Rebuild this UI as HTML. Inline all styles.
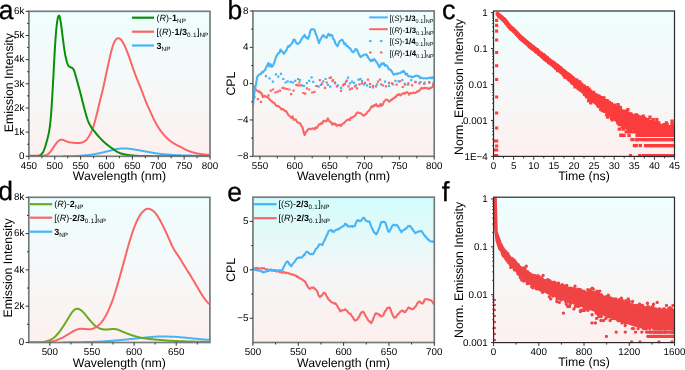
<!DOCTYPE html><html><head><meta charset="utf-8"><style>html,body{margin:0;padding:0;background:#fff;width:685px;height:370px;overflow:hidden}svg{display:block}#w{will-change:transform;position:absolute;left:0;top:0;width:685px;height:370px}</style></head><body><div id="w">
<svg xmlns="http://www.w3.org/2000/svg" width="685" height="370" viewBox="0 0 685 370" text-rendering="geometricPrecision" font-family='"Liberation Sans", sans-serif' fill="#000">
<defs><linearGradient id="g1" x1="0" y1="0" x2="0" y2="1"><stop offset="0" stop-color="#eefefe"/><stop offset="0.5" stop-color="#f6f8f8"/><stop offset="1" stop-color="#fdf0f0"/></linearGradient><linearGradient id="g2" x1="0" y1="0" x2="0" y2="1"><stop offset="0" stop-color="#d2fcfc"/><stop offset="0.5" stop-color="#f4f6f6"/><stop offset="1" stop-color="#fdefee"/></linearGradient></defs>
<rect x="28.9" y="11.3" width="181.1" height="145" fill="url(#g1)"/>
<rect x="252.95" y="11" width="181.25" height="145.3" fill="url(#g1)"/>
<rect x="493.5" y="11" width="181" height="145.4" fill="url(#g1)"/>
<rect x="28.8" y="197.3" width="181.1" height="145.2" fill="url(#g1)"/>
<rect x="252.95" y="197.2" width="181.35" height="145.3" fill="url(#g2)"/>
<rect x="493.55" y="197.2" width="180.95" height="145.4" fill="url(#g1)"/>
<clipPath id="ca"><rect x="28.9" y="11.3" width="181.1" height="144.8"/></clipPath>
<g clip-path="url(#ca)">
<polyline points="62.53,156.3 62.9,156.3 63.27,156.3 63.64,156.3 64.01,156.3 64.38,156.3 64.75,156.3 65.12,156.29 65.49,156.29 65.86,156.29 66.23,156.29 66.6,156.28 66.97,156.28 67.34,156.27 67.71,156.27 68.08,156.26 68.45,156.26 68.82,156.25 69.19,156.24 69.56,156.23 69.92,156.23 70.29,156.22 70.66,156.21 71.03,156.2 71.4,156.19 71.77,156.18 72.14,156.17 72.51,156.15 72.88,156.14 73.25,156.13 73.62,156.12 73.99,156.11 74.36,156.09 74.73,156.08 75.1,156.06 75.47,156.05 75.84,156.03 76.21,156.02 76.58,156 76.95,155.98 77.32,155.96 77.69,155.94 78.06,155.92 78.43,155.9 78.79,155.88 79.16,155.86 79.53,155.84 79.9,155.81 80.27,155.79 80.64,155.76 81.01,155.73 81.38,155.7 81.75,155.68 82.12,155.65 82.49,155.62 82.86,155.59 83.23,155.56 83.6,155.52 83.97,155.49 84.34,155.46 84.71,155.43 85.08,155.39 85.45,155.35 85.82,155.32 86.19,155.28 86.56,155.24 86.93,155.2 87.3,155.16 87.67,155.12 88.03,155.08 88.4,155.03 88.77,154.99 89.14,154.94 89.51,154.9 89.88,154.85 90.25,154.8 90.62,154.75 90.99,154.69 91.36,154.64 91.73,154.59 92.1,154.53 92.47,154.48 92.84,154.42 93.21,154.36 93.58,154.3 93.95,154.24 94.32,154.18 94.69,154.12 95.06,154.06 95.43,153.99 95.8,153.93 96.17,153.86 96.54,153.79 96.9,153.72 97.27,153.65 97.64,153.58 98.01,153.51 98.38,153.43 98.75,153.36 99.12,153.28 99.49,153.2 99.86,153.12 100.23,153.04 100.6,152.96 100.97,152.87 101.34,152.79 101.71,152.7 102.08,152.62 102.45,152.53 102.82,152.45 103.19,152.36 103.56,152.27 103.93,152.18 104.3,152.1 104.67,152.01 105.04,151.92 105.41,151.83 105.78,151.74 106.14,151.65 106.51,151.55 106.88,151.46 107.25,151.37 107.62,151.28 107.99,151.18 108.36,151.09 108.73,151 109.1,150.9 109.47,150.81 109.84,150.72 110.21,150.62 110.58,150.53 110.95,150.44 111.32,150.34 111.69,150.25 112.06,150.16 112.43,150.06 112.8,149.97 113.17,149.88 113.54,149.78 113.91,149.69 114.28,149.6 114.65,149.52 115.01,149.43 115.38,149.35 115.75,149.27 116.12,149.19 116.49,149.12 116.86,149.05 117.23,148.98 117.6,148.92 117.97,148.86 118.34,148.8 118.71,148.75 119.08,148.7 119.45,148.66 119.82,148.62 120.19,148.58 120.56,148.54 120.93,148.51 121.3,148.49 121.67,148.46 122.04,148.44 122.41,148.42 122.78,148.41 123.15,148.4 123.52,148.4 123.89,148.4 124.25,148.4 124.62,148.41 124.99,148.42 125.36,148.44 125.73,148.46 126.1,148.48 126.47,148.51 126.84,148.54 127.21,148.57 127.58,148.6 127.95,148.63 128.32,148.67 128.69,148.71 129.06,148.75 129.43,148.79 129.8,148.83 130.17,148.87 130.54,148.92 130.91,148.97 131.28,149.01 131.65,149.06 132.02,149.12 132.39,149.17 132.76,149.22 133.12,149.28 133.49,149.34 133.86,149.4 134.23,149.46 134.6,149.52 134.97,149.58 135.34,149.64 135.71,149.7 136.08,149.76 136.45,149.83 136.82,149.89 137.19,149.96 137.56,150.02 137.93,150.08 138.3,150.15 138.67,150.21 139.04,150.28 139.41,150.34 139.78,150.41 140.15,150.48 140.52,150.54 140.89,150.61 141.26,150.68 141.63,150.75 142,150.81 142.36,150.88 142.73,150.95 143.1,151.02 143.47,151.09 143.84,151.16 144.21,151.23 144.58,151.29 144.95,151.36 145.32,151.43 145.69,151.5 146.06,151.57 146.43,151.63 146.8,151.7 147.17,151.77 147.54,151.84 147.91,151.9 148.28,151.97 148.65,152.04 149.02,152.1 149.39,152.17 149.76,152.24 150.13,152.3 150.5,152.37 150.87,152.44 151.23,152.5 151.6,152.57 151.97,152.64 152.34,152.7 152.71,152.77 153.08,152.83 153.45,152.89 153.82,152.96 154.19,153.02 154.56,153.08 154.93,153.14 155.3,153.2 155.67,153.26 156.04,153.31 156.41,153.37 156.78,153.42 157.15,153.47 157.52,153.52 157.89,153.57 158.26,153.62 158.63,153.66 159,153.71 159.37,153.75 159.74,153.79 160.11,153.84 160.47,153.88 160.84,153.92 161.21,153.95 161.58,153.99 161.95,154.03 162.32,154.06 162.69,154.1 163.06,154.13 163.43,154.17 163.8,154.2 164.17,154.24 164.54,154.27 164.91,154.3 165.28,154.33 165.65,154.36 166.02,154.4 166.39,154.43 166.76,154.46 167.13,154.49 167.5,154.52 167.87,154.55 168.24,154.58 168.61,154.61 168.98,154.64 169.34,154.67 169.71,154.7 170.08,154.73 170.45,154.76 170.82,154.79 171.19,154.82 171.56,154.85 171.93,154.88 172.3,154.91 172.67,154.94 173.04,154.96 173.41,154.99 173.78,155.02 174.15,155.05 174.52,155.07 174.89,155.1 175.26,155.12 175.63,155.15 176,155.17 176.37,155.19 176.74,155.21 177.11,155.23 177.48,155.25 177.85,155.27 178.22,155.29 178.58,155.3 178.95,155.32 179.32,155.33 179.69,155.35 180.06,155.36 180.43,155.37 180.8,155.39 181.17,155.4 181.54,155.41 181.91,155.42 182.28,155.43 182.65,155.44 183.02,155.45 183.39,155.46 183.76,155.47 184.13,155.47 184.5,155.48 184.87,155.49 185.24,155.5 185.61,155.51 185.98,155.51 186.35,155.52 186.72,155.53 187.09,155.54 187.45,155.54 187.82,155.55 188.19,155.56 188.56,155.56 188.93,155.57 189.3,155.57 189.67,155.58 190.04,155.59 190.41,155.59 190.78,155.6 191.15,155.6 191.52,155.61 191.89,155.62 192.26,155.62 192.63,155.63 193,155.63 193.37,155.64 193.74,155.64 194.11,155.65 194.48,155.66 194.85,155.66 195.22,155.67 195.59,155.67 195.96,155.68 196.33,155.68 196.69,155.69 197.06,155.69 197.43,155.7 197.8,155.7 198.17,155.71 198.54,155.71 198.91,155.72 199.28,155.72 199.65,155.73 200.02,155.73 200.39,155.74 200.76,155.74 201.13,155.74 201.5,155.75 201.87,155.75 202.24,155.76 202.61,155.76 202.98,155.76 203.35,155.77 203.72,155.77 204.09,155.77 204.46,155.78 204.83,155.78 205.2,155.78 205.56,155.79 205.93,155.79 206.3,155.79 206.67,155.8 207.04,155.8 207.41,155.8 207.78,155.8 208.15,155.8 208.52,155.81 208.89,155.81 209.26,155.81 209.63,155.81 210,155.81" fill="none" stroke="#46b4f6" stroke-width="2.0" stroke-linejoin="round"/>
<polyline points="28.9,155.82 29.35,155.82 29.81,155.82 30.26,155.82 30.72,155.82 31.17,155.82 31.62,155.82 32.08,155.82 32.53,155.82 32.98,155.82 33.44,155.82 33.89,155.82 34.35,155.82 34.8,155.82 35.25,155.82 35.71,155.82 36.16,155.82 36.62,155.82 37.07,155.82 37.52,155.82 37.98,155.82 38.43,155.82 38.89,155.82 39.34,155.82 39.79,155.82 40.25,155.82 40.7,155.81 41.15,155.81 41.61,155.8 42.06,155.78 42.52,155.76 42.97,155.72 43.42,155.68 43.88,155.62 44.33,155.54 44.79,155.46 45.24,155.36 45.69,155.23 46.15,155.09 46.6,154.9 47.06,154.68 47.51,154.4 47.96,154.08 48.42,153.71 48.87,153.29 49.32,152.84 49.78,152.36 50.23,151.84 50.69,151.3 51.14,150.73 51.59,150.13 52.05,149.5 52.5,148.85 52.96,148.17 53.41,147.49 53.86,146.8 54.32,146.12 54.77,145.44 55.23,144.78 55.68,144.13 56.13,143.5 56.59,142.91 57.04,142.37 57.49,141.87 57.95,141.43 58.4,141.05 58.86,140.71 59.31,140.41 59.76,140.15 60.22,139.93 60.67,139.77 61.13,139.66 61.58,139.62 62.03,139.63 62.49,139.71 62.94,139.84 63.4,140.01 63.85,140.2 64.3,140.41 64.76,140.62 65.21,140.83 65.66,141.03 66.12,141.22 66.57,141.4 67.03,141.58 67.48,141.74 67.93,141.9 68.39,142.05 68.84,142.18 69.3,142.29 69.75,142.39 70.2,142.46 70.66,142.53 71.11,142.58 71.57,142.63 72.02,142.67 72.47,142.71 72.93,142.74 73.38,142.77 73.83,142.8 74.29,142.83 74.74,142.86 75.2,142.88 75.65,142.91 76.1,142.93 76.56,142.94 77.01,142.96 77.47,142.97 77.92,142.98 78.37,142.98 78.83,142.98 79.28,142.97 79.74,142.95 80.19,142.9 80.64,142.84 81.1,142.75 81.55,142.64 82,142.5 82.46,142.35 82.91,142.17 83.37,141.97 83.82,141.74 84.27,141.49 84.73,141.21 85.18,140.88 85.64,140.51 86.09,140.08 86.54,139.6 87,139.07 87.45,138.5 87.91,137.89 88.36,137.24 88.81,136.55 89.27,135.82 89.72,135.05 90.17,134.23 90.63,133.36 91.08,132.43 91.54,131.43 91.99,130.37 92.44,129.22 92.9,127.99 93.35,126.67 93.81,125.25 94.26,123.73 94.71,122.14 95.17,120.48 95.62,118.76 96.07,117 96.53,115.19 96.98,113.34 97.44,111.45 97.89,109.54 98.34,107.61 98.8,105.68 99.25,103.78 99.71,101.91 100.16,100.09 100.61,98.31 101.07,96.55 101.52,94.79 101.98,93 102.43,91.15 102.88,89.23 103.34,87.25 103.79,85.2 104.24,83.1 104.7,80.97 105.15,78.83 105.61,76.68 106.06,74.54 106.51,72.41 106.97,70.29 107.42,68.18 107.88,66.08 108.33,64 108.78,61.93 109.24,59.87 109.69,57.85 110.15,55.87 110.6,53.95 111.05,52.12 111.51,50.37 111.96,48.73 112.41,47.2 112.87,45.78 113.32,44.49 113.78,43.32 114.23,42.29 114.68,41.39 115.14,40.62 115.59,39.96 116.05,39.4 116.5,38.96 116.95,38.61 117.41,38.37 117.86,38.23 118.32,38.19 118.77,38.25 119.22,38.38 119.68,38.59 120.13,38.87 120.58,39.24 121.04,39.7 121.49,40.25 121.95,40.88 122.4,41.6 122.85,42.37 123.31,43.19 123.76,44.06 124.22,44.97 124.67,45.91 125.12,46.88 125.58,47.9 126.03,48.95 126.49,50.03 126.94,51.14 127.39,52.28 127.85,53.44 128.3,54.64 128.75,55.86 129.21,57.12 129.66,58.42 130.12,59.74 130.57,61.08 131.02,62.44 131.48,63.81 131.93,65.17 132.39,66.51 132.84,67.84 133.29,69.15 133.75,70.43 134.2,71.69 134.66,72.92 135.11,74.14 135.56,75.33 136.02,76.51 136.47,77.66 136.92,78.8 137.38,79.93 137.83,81.04 138.29,82.14 138.74,83.25 139.19,84.35 139.65,85.47 140.1,86.59 140.56,87.73 141.01,88.89 141.46,90.06 141.92,91.24 142.37,92.43 142.83,93.63 143.28,94.84 143.73,96.04 144.19,97.24 144.64,98.43 145.09,99.6 145.55,100.76 146,101.89 146.46,103 146.91,104.09 147.36,105.14 147.82,106.18 148.27,107.19 148.73,108.2 149.18,109.19 149.63,110.19 150.09,111.19 150.54,112.19 150.99,113.2 151.45,114.2 151.9,115.21 152.36,116.2 152.81,117.19 153.26,118.15 153.72,119.09 154.17,120.01 154.63,120.9 155.08,121.76 155.53,122.6 155.99,123.42 156.44,124.21 156.9,124.98 157.35,125.74 157.8,126.48 158.26,127.2 158.71,127.91 159.16,128.6 159.62,129.26 160.07,129.92 160.53,130.55 160.98,131.17 161.43,131.77 161.89,132.35 162.34,132.93 162.8,133.49 163.25,134.04 163.7,134.58 164.16,135.11 164.61,135.62 165.07,136.13 165.52,136.62 165.97,137.09 166.43,137.56 166.88,138.01 167.33,138.44 167.79,138.86 168.24,139.27 168.7,139.66 169.15,140.04 169.6,140.41 170.06,140.76 170.51,141.11 170.97,141.44 171.42,141.77 171.87,142.08 172.33,142.39 172.78,142.69 173.24,142.99 173.69,143.27 174.14,143.55 174.6,143.82 175.05,144.09 175.5,144.35 175.96,144.6 176.41,144.84 176.87,145.08 177.32,145.32 177.77,145.54 178.23,145.77 178.68,145.99 179.14,146.22 179.59,146.45 180.04,146.67 180.5,146.91 180.95,147.14 181.41,147.38 181.86,147.62 182.31,147.87 182.77,148.11 183.22,148.36 183.67,148.6 184.13,148.84 184.58,149.08 185.04,149.31 185.49,149.54 185.94,149.77 186.4,149.98 186.85,150.19 187.31,150.39 187.76,150.58 188.21,150.76 188.67,150.94 189.12,151.1 189.58,151.26 190.03,151.42 190.48,151.57 190.94,151.72 191.39,151.87 191.84,152.02 192.3,152.16 192.75,152.3 193.21,152.43 193.66,152.56 194.11,152.69 194.57,152.81 195.02,152.93 195.48,153.05 195.93,153.16 196.38,153.26 196.84,153.36 197.29,153.46 197.75,153.55 198.2,153.63 198.65,153.71 199.11,153.79 199.56,153.86 200.01,153.93 200.47,153.99 200.92,154.05 201.38,154.11 201.83,154.17 202.28,154.23 202.74,154.29 203.19,154.34 203.65,154.4 204.1,154.45 204.55,154.5 205.01,154.54 205.46,154.59 205.92,154.63 206.37,154.67 206.82,154.7 207.28,154.73 207.73,154.76 208.18,154.78 208.64,154.8 209.09,154.82 209.55,154.83 210,154.84" fill="none" stroke="#fa6666" stroke-width="2.0" stroke-linejoin="round"/>
<polyline points="28.9,156.3 29.35,156.3 29.81,156.3 30.26,156.3 30.72,156.3 31.17,156.3 31.62,156.3 32.08,156.3 32.53,156.3 32.98,156.3 33.44,156.3 33.89,156.3 34.35,156.3 34.8,156.3 35.25,156.3 35.71,156.3 36.16,156.29 36.62,156.26 37.07,156.22 37.52,156.15 37.98,156.06 38.43,155.93 38.89,155.78 39.34,155.59 39.79,155.38 40.25,155.12 40.7,154.81 41.15,154.45 41.61,154.03 42.06,153.54 42.52,152.96 42.97,152.26 43.42,151.42 43.88,150.41 44.33,149.24 44.79,147.92 45.24,146.48 45.69,144.96 46.15,143.38 46.6,141.78 47.06,140.15 47.51,138.46 47.96,136.69 48.42,134.77 48.87,132.61 49.32,130.11 49.78,127.11 50.23,123.42 50.69,118.86 51.14,113.37 51.59,107.01 52.05,99.94 52.5,92.33 52.96,84.28 53.41,75.85 53.86,67.19 54.32,58.6 54.77,50.44 55.23,43.04 55.68,36.56 56.13,31.03 56.59,26.43 57.04,22.71 57.49,19.78 57.95,17.6 58.4,16.16 58.86,15.56 59.31,15.88 59.76,17.12 60.22,19.16 60.67,21.8 61.13,24.87 61.58,28.25 62.03,31.84 62.49,35.51 62.94,39.17 63.4,42.71 63.85,46.09 64.3,49.25 64.76,52.15 65.21,54.76 65.66,57.07 66.12,59.1 66.57,60.87 67.03,62.4 67.48,63.68 67.93,64.73 68.39,65.55 68.84,66.15 69.3,66.58 69.75,66.88 70.2,67.1 70.66,67.29 71.11,67.45 71.57,67.62 72.02,67.82 72.47,68.11 72.93,68.55 73.38,69.2 73.83,70.07 74.29,71.18 74.74,72.51 75.2,74.02 75.65,75.65 76.1,77.35 76.56,79.04 77.01,80.71 77.47,82.33 77.92,83.93 78.37,85.53 78.83,87.14 79.28,88.78 79.74,90.46 80.19,92.19 80.64,93.96 81.1,95.77 81.55,97.6 82,99.43 82.46,101.25 82.91,103.03 83.37,104.79 83.82,106.52 84.27,108.22 84.73,109.91 85.18,111.6 85.64,113.25 86.09,114.87 86.54,116.43 87,117.91 87.45,119.28 87.91,120.55 88.36,121.7 88.81,122.73 89.27,123.68 89.72,124.54 90.17,125.35 90.63,126.11 91.08,126.83 91.54,127.51 91.99,128.16 92.44,128.79 92.9,129.4 93.35,129.99 93.81,130.58 94.26,131.16 94.71,131.73 95.17,132.31 95.62,132.88 96.07,133.44 96.53,134 96.98,134.55 97.44,135.1 97.89,135.63 98.34,136.16 98.8,136.68 99.25,137.19 99.71,137.69 100.16,138.18 100.61,138.67 101.07,139.14 101.52,139.61 101.98,140.07 102.43,140.51 102.88,140.95 103.34,141.39 103.79,141.81 104.24,142.22 104.7,142.63 105.15,143.02 105.61,143.41 106.06,143.79 106.51,144.16 106.97,144.53 107.42,144.89 107.88,145.25 108.33,145.59 108.78,145.94 109.24,146.28 109.69,146.61 110.15,146.94 110.6,147.26 111.05,147.59 111.51,147.91 111.96,148.23 112.41,148.55 112.87,148.87 113.32,149.19 113.78,149.52 114.23,149.85 114.68,150.17 115.14,150.49 115.59,150.8 116.05,151.1 116.5,151.39 116.95,151.67 117.41,151.94 117.86,152.18 118.32,152.41 118.77,152.62 119.22,152.8 119.68,152.98 120.13,153.14 120.58,153.29 121.04,153.43 121.49,153.57 121.95,153.7 122.4,153.83 122.85,153.95 123.31,154.07 123.76,154.19 124.22,154.3 124.67,154.4 125.12,154.5 125.58,154.59 126.03,154.68 126.49,154.76 126.94,154.83 127.39,154.9 127.85,154.97 128.3,155.03 128.75,155.09 129.21,155.14 129.66,155.19 130.12,155.24 130.57,155.28 131.02,155.33 131.48,155.38 131.93,155.42 132.39,155.47 132.84,155.51 133.29,155.55 133.75,155.59 134.2,155.63 134.66,155.67 135.11,155.7 135.56,155.74 136.02,155.77 136.47,155.8 136.92,155.83 137.38,155.86 137.83,155.89 138.29,155.91 138.74,155.94 139.19,155.96 139.65,155.98 140.1,155.99 140.56,156.01 141.01,156.02 141.46,156.03 141.92,156.04 142.37,156.05 142.83,156.06 143.28,156.06 143.73,156.07 144.19,156.07 144.64,156.07 145.09,156.08 145.55,156.08 146,156.09 146.46,156.09 146.91,156.09 147.36,156.1 147.82,156.1 148.27,156.1 148.73,156.11 149.18,156.11 149.63,156.11 150.09,156.12 150.54,156.12 150.99,156.12 151.45,156.13 151.9,156.13 152.36,156.13 152.81,156.13 153.26,156.14 153.72,156.14 154.17,156.14 154.63,156.15 155.08,156.15 155.53,156.15 155.99,156.16 156.44,156.16 156.9,156.16 157.35,156.16 157.8,156.17 158.26,156.17 158.71,156.17 159.16,156.17 159.62,156.18 160.07,156.18 160.53,156.18 160.98,156.18 161.43,156.19 161.89,156.19 162.34,156.19 162.8,156.19 163.25,156.2 163.7,156.2 164.16,156.2 164.61,156.2 165.07,156.21 165.52,156.21 165.97,156.21 166.43,156.21 166.88,156.21 167.33,156.22 167.79,156.22 168.24,156.22 168.7,156.22 169.15,156.22 169.6,156.23 170.06,156.23 170.51,156.23 170.97,156.23 171.42,156.23 171.87,156.23 172.33,156.24 172.78,156.24 173.24,156.24 173.69,156.24 174.14,156.24 174.6,156.24 175.05,156.25 175.5,156.25 175.96,156.25 176.41,156.25 176.87,156.25 177.32,156.25 177.77,156.26 178.23,156.26 178.68,156.26 179.14,156.26 179.59,156.26 180.04,156.26 180.5,156.26 180.95,156.26 181.41,156.27 181.86,156.27 182.31,156.27 182.77,156.27 183.22,156.27 183.67,156.27 184.13,156.27 184.58,156.27 185.04,156.27 185.49,156.28 185.94,156.28 186.4,156.28 186.85,156.28 187.31,156.28 187.76,156.28 188.21,156.28 188.67,156.28 189.12,156.28 189.58,156.28 190.03,156.28 190.48,156.28 190.94,156.29 191.39,156.29 191.84,156.29 192.3,156.29 192.75,156.29 193.21,156.29 193.66,156.29 194.11,156.29 194.57,156.29 195.02,156.29 195.48,156.29 195.93,156.29 196.38,156.29 196.84,156.29 197.29,156.29 197.75,156.29 198.2,156.29 198.65,156.3 199.11,156.3 199.56,156.3 200.01,156.3 200.47,156.3 200.92,156.3 201.38,156.3 201.83,156.3 202.28,156.3 202.74,156.3 203.19,156.3 203.65,156.3 204.1,156.3 204.55,156.3 205.01,156.3 205.46,156.3 205.92,156.3 206.37,156.3 206.82,156.3 207.28,156.3 207.73,156.3 208.18,156.3 208.64,156.3 209.09,156.3 209.55,156.3 210,156.3" fill="none" stroke="#0a8f0a" stroke-width="2.0" stroke-linejoin="round"/>
</g>
<clipPath id="cd"><rect x="28.8" y="197.3" width="181.1" height="145.0"/></clipPath>
<g clip-path="url(#cd)">
<polyline points="62.49,342.48 62.86,342.48 63.23,342.48 63.6,342.47 63.97,342.46 64.34,342.46 64.71,342.45 65.08,342.44 65.45,342.44 65.82,342.43 66.19,342.42 66.56,342.41 66.93,342.41 67.3,342.4 67.67,342.39 68.03,342.39 68.4,342.38 68.77,342.37 69.14,342.37 69.51,342.36 69.88,342.36 70.25,342.35 70.62,342.34 70.99,342.34 71.36,342.33 71.73,342.33 72.1,342.32 72.47,342.32 72.84,342.31 73.21,342.31 73.58,342.3 73.95,342.3 74.32,342.29 74.68,342.28 75.05,342.28 75.42,342.27 75.79,342.27 76.16,342.26 76.53,342.26 76.9,342.25 77.27,342.25 77.64,342.24 78.01,342.24 78.38,342.23 78.75,342.22 79.12,342.22 79.49,342.21 79.86,342.21 80.23,342.2 80.6,342.19 80.97,342.19 81.33,342.18 81.7,342.17 82.07,342.17 82.44,342.16 82.81,342.15 83.18,342.14 83.55,342.14 83.92,342.13 84.29,342.12 84.66,342.11 85.03,342.1 85.4,342.09 85.77,342.09 86.14,342.08 86.51,342.07 86.88,342.06 87.25,342.05 87.62,342.04 87.98,342.03 88.35,342.02 88.72,342.01 89.09,342 89.46,341.99 89.83,341.98 90.2,341.97 90.57,341.96 90.94,341.94 91.31,341.93 91.68,341.92 92.05,341.91 92.42,341.9 92.79,341.89 93.16,341.87 93.53,341.86 93.9,341.85 94.26,341.84 94.63,341.82 95,341.81 95.37,341.8 95.74,341.78 96.11,341.77 96.48,341.75 96.85,341.74 97.22,341.73 97.59,341.71 97.96,341.7 98.33,341.68 98.7,341.66 99.07,341.65 99.44,341.63 99.81,341.61 100.18,341.6 100.55,341.58 100.91,341.56 101.28,341.54 101.65,341.52 102.02,341.5 102.39,341.48 102.76,341.46 103.13,341.44 103.5,341.42 103.87,341.4 104.24,341.37 104.61,341.35 104.98,341.32 105.35,341.3 105.72,341.27 106.09,341.25 106.46,341.22 106.83,341.19 107.2,341.16 107.56,341.14 107.93,341.11 108.3,341.08 108.67,341.05 109.04,341.02 109.41,340.99 109.78,340.96 110.15,340.93 110.52,340.9 110.89,340.87 111.26,340.84 111.63,340.8 112,340.77 112.37,340.74 112.74,340.71 113.11,340.68 113.48,340.65 113.85,340.61 114.21,340.58 114.58,340.55 114.95,340.52 115.32,340.49 115.69,340.46 116.06,340.42 116.43,340.39 116.8,340.36 117.17,340.33 117.54,340.3 117.91,340.26 118.28,340.23 118.65,340.2 119.02,340.17 119.39,340.13 119.76,340.1 120.13,340.07 120.5,340.03 120.86,340 121.23,339.96 121.6,339.93 121.97,339.89 122.34,339.86 122.71,339.82 123.08,339.79 123.45,339.75 123.82,339.72 124.19,339.68 124.56,339.65 124.93,339.61 125.3,339.57 125.67,339.54 126.04,339.5 126.41,339.47 126.78,339.43 127.15,339.39 127.51,339.36 127.88,339.32 128.25,339.28 128.62,339.25 128.99,339.21 129.36,339.17 129.73,339.14 130.1,339.1 130.47,339.06 130.84,339.03 131.21,338.99 131.58,338.95 131.95,338.91 132.32,338.88 132.69,338.84 133.06,338.8 133.43,338.77 133.8,338.73 134.16,338.69 134.53,338.65 134.9,338.61 135.27,338.57 135.64,338.54 136.01,338.5 136.38,338.46 136.75,338.42 137.12,338.38 137.49,338.34 137.86,338.3 138.23,338.26 138.6,338.22 138.97,338.18 139.34,338.14 139.71,338.1 140.08,338.07 140.45,338.03 140.81,337.99 141.18,337.95 141.55,337.91 141.92,337.87 142.29,337.84 142.66,337.8 143.03,337.76 143.4,337.73 143.77,337.69 144.14,337.66 144.51,337.62 144.88,337.59 145.25,337.55 145.62,337.52 145.99,337.48 146.36,337.45 146.73,337.42 147.1,337.38 147.46,337.35 147.83,337.32 148.2,337.28 148.57,337.25 148.94,337.21 149.31,337.18 149.68,337.15 150.05,337.11 150.42,337.08 150.79,337.04 151.16,337.01 151.53,336.97 151.9,336.94 152.27,336.91 152.64,336.88 153.01,336.84 153.38,336.81 153.74,336.78 154.11,336.76 154.48,336.73 154.85,336.7 155.22,336.68 155.59,336.66 155.96,336.63 156.33,336.62 156.7,336.6 157.07,336.58 157.44,336.57 157.81,336.56 158.18,336.55 158.55,336.54 158.92,336.53 159.29,336.53 159.66,336.52 160.03,336.52 160.39,336.52 160.76,336.52 161.13,336.52 161.5,336.52 161.87,336.52 162.24,336.53 162.61,336.53 162.98,336.53 163.35,336.54 163.72,336.54 164.09,336.54 164.46,336.55 164.83,336.55 165.2,336.56 165.57,336.56 165.94,336.57 166.31,336.58 166.68,336.58 167.04,336.59 167.41,336.6 167.78,336.6 168.15,336.61 168.52,336.62 168.89,336.62 169.26,336.63 169.63,336.64 170,336.65 170.37,336.66 170.74,336.67 171.11,336.68 171.48,336.69 171.85,336.7 172.22,336.71 172.59,336.72 172.96,336.73 173.33,336.75 173.69,336.76 174.06,336.78 174.43,336.8 174.8,336.82 175.17,336.84 175.54,336.86 175.91,336.89 176.28,336.91 176.65,336.93 177.02,336.96 177.39,336.99 177.76,337.01 178.13,337.04 178.5,337.07 178.87,337.1 179.24,337.13 179.61,337.16 179.98,337.19 180.34,337.23 180.71,337.26 181.08,337.29 181.45,337.32 181.82,337.35 182.19,337.39 182.56,337.42 182.93,337.45 183.3,337.48 183.67,337.52 184.04,337.55 184.41,337.58 184.78,337.61 185.15,337.65 185.52,337.68 185.89,337.72 186.26,337.75 186.63,337.78 186.99,337.82 187.36,337.86 187.73,337.89 188.1,337.93 188.47,337.97 188.84,338 189.21,338.04 189.58,338.08 189.95,338.12 190.32,338.16 190.69,338.19 191.06,338.23 191.43,338.27 191.8,338.31 192.17,338.35 192.54,338.39 192.91,338.43 193.28,338.47 193.64,338.51 194.01,338.54 194.38,338.58 194.75,338.62 195.12,338.66 195.49,338.69 195.86,338.73 196.23,338.77 196.6,338.8 196.97,338.84 197.34,338.87 197.71,338.91 198.08,338.94 198.45,338.98 198.82,339.01 199.19,339.04 199.56,339.08 199.93,339.11 200.29,339.15 200.66,339.18 201.03,339.21 201.4,339.24 201.77,339.28 202.14,339.31 202.51,339.34 202.88,339.37 203.25,339.41 203.62,339.44 203.99,339.47 204.36,339.5 204.73,339.53 205.1,339.56 205.47,339.6 205.84,339.63 206.21,339.66 206.58,339.69 206.94,339.72 207.31,339.75 207.68,339.77 208.05,339.8 208.42,339.83 208.79,339.85 209.16,339.87 209.53,339.89 209.9,339.91" fill="none" stroke="#46b4f6" stroke-width="2.0" stroke-linejoin="round"/>
<polyline points="27.96,342.5 28.41,342.5 28.87,342.5 29.33,342.49 29.78,342.49 30.24,342.49 30.69,342.49 31.15,342.48 31.61,342.48 32.06,342.47 32.52,342.47 32.97,342.46 33.43,342.46 33.89,342.45 34.34,342.44 34.8,342.43 35.25,342.43 35.71,342.42 36.17,342.41 36.62,342.4 37.08,342.39 37.53,342.37 37.99,342.36 38.45,342.35 38.9,342.33 39.36,342.31 39.81,342.28 40.27,342.25 40.73,342.22 41.18,342.18 41.64,342.14 42.09,342.08 42.55,342.03 43.01,341.96 43.46,341.89 43.92,341.82 44.37,341.73 44.83,341.65 45.29,341.55 45.74,341.45 46.2,341.34 46.65,341.22 47.11,341.09 47.57,340.96 48.02,340.81 48.48,340.65 48.93,340.47 49.39,340.29 49.85,340.09 50.3,339.88 50.76,339.66 51.21,339.42 51.67,339.16 52.13,338.89 52.58,338.6 53.04,338.29 53.49,337.96 53.95,337.6 54.41,337.22 54.86,336.82 55.32,336.4 55.77,335.96 56.23,335.5 56.69,335.02 57.14,334.53 57.6,334.01 58.05,333.48 58.51,332.94 58.97,332.37 59.42,331.78 59.88,331.18 60.33,330.55 60.79,329.91 61.25,329.26 61.7,328.6 62.16,327.92 62.61,327.23 63.07,326.54 63.53,325.85 63.98,325.14 64.44,324.43 64.89,323.72 65.35,323 65.81,322.27 66.26,321.54 66.72,320.81 67.17,320.06 67.63,319.31 68.09,318.56 68.54,317.8 69,317.04 69.45,316.27 69.91,315.52 70.37,314.78 70.82,314.07 71.28,313.39 71.73,312.74 72.19,312.14 72.65,311.58 73.1,311.07 73.56,310.6 74.01,310.18 74.47,309.8 74.93,309.48 75.38,309.2 75.84,308.98 76.29,308.81 76.75,308.71 77.21,308.66 77.66,308.68 78.12,308.75 78.57,308.87 79.03,309.04 79.49,309.26 79.94,309.51 80.4,309.8 80.85,310.12 81.31,310.46 81.77,310.83 82.22,311.23 82.68,311.66 83.13,312.11 83.59,312.6 84.05,313.1 84.5,313.63 84.96,314.18 85.41,314.75 85.87,315.32 86.33,315.9 86.78,316.48 87.24,317.06 87.69,317.62 88.15,318.19 88.61,318.74 89.06,319.28 89.52,319.82 89.97,320.35 90.43,320.88 90.89,321.4 91.34,321.91 91.8,322.42 92.25,322.92 92.71,323.41 93.17,323.88 93.62,324.34 94.08,324.78 94.53,325.2 94.99,325.6 95.45,325.97 95.9,326.32 96.36,326.65 96.81,326.95 97.27,327.24 97.73,327.5 98.18,327.75 98.64,327.98 99.09,328.19 99.55,328.38 100.01,328.56 100.46,328.72 100.92,328.86 101.37,328.99 101.83,329.09 102.28,329.19 102.74,329.27 103.2,329.34 103.65,329.39 104.11,329.44 104.56,329.48 105.02,329.5 105.48,329.52 105.93,329.53 106.39,329.52 106.84,329.51 107.3,329.48 107.76,329.45 108.21,329.41 108.67,329.36 109.12,329.32 109.58,329.27 110.04,329.23 110.49,329.19 110.95,329.15 111.4,329.13 111.86,329.11 112.32,329.09 112.77,329.09 113.23,329.08 113.68,329.08 114.14,329.09 114.6,329.1 115.05,329.12 115.51,329.16 115.96,329.21 116.42,329.28 116.88,329.37 117.33,329.48 117.79,329.62 118.24,329.78 118.7,329.96 119.16,330.15 119.61,330.35 120.07,330.56 120.52,330.77 120.98,330.98 121.44,331.18 121.89,331.38 122.35,331.58 122.8,331.78 123.26,331.97 123.72,332.16 124.17,332.34 124.63,332.53 125.08,332.71 125.54,332.9 126,333.08 126.45,333.26 126.91,333.44 127.36,333.62 127.82,333.8 128.28,333.97 128.73,334.14 129.19,334.31 129.64,334.47 130.1,334.64 130.56,334.79 131.01,334.95 131.47,335.1 131.92,335.25 132.38,335.4 132.84,335.54 133.29,335.68 133.75,335.82 134.2,335.95 134.66,336.09 135.12,336.22 135.57,336.35 136.03,336.48 136.48,336.61 136.94,336.73 137.4,336.86 137.85,336.98 138.31,337.09 138.76,337.21 139.22,337.32 139.68,337.43 140.13,337.53 140.59,337.63 141.04,337.72 141.5,337.82 141.96,337.9 142.41,337.99 142.87,338.07 143.32,338.14 143.78,338.22 144.24,338.29 144.69,338.36 145.15,338.42 145.6,338.49 146.06,338.55 146.52,338.61 146.97,338.67 147.43,338.73 147.88,338.78 148.34,338.84 148.8,338.89 149.25,338.94 149.71,339 150.16,339.05 150.62,339.09 151.08,339.14 151.53,339.19 151.99,339.24 152.44,339.28 152.9,339.33 153.36,339.37 153.81,339.42 154.27,339.46 154.72,339.5 155.18,339.54 155.64,339.58 156.09,339.62 156.55,339.66 157,339.7 157.46,339.74 157.92,339.78 158.37,339.82 158.83,339.86 159.28,339.9 159.74,339.93 160.2,339.97 160.65,340.01 161.11,340.05 161.56,340.08 162.02,340.12 162.48,340.16 162.93,340.19 163.39,340.23 163.84,340.26 164.3,340.3 164.76,340.33 165.21,340.37 165.67,340.4 166.12,340.44 166.58,340.47 167.04,340.5 167.49,340.53 167.95,340.57 168.4,340.6 168.86,340.63 169.32,340.66 169.77,340.69 170.23,340.72 170.68,340.75 171.14,340.78 171.6,340.8 172.05,340.83 172.51,340.86 172.96,340.88 173.42,340.91 173.88,340.93 174.33,340.95 174.79,340.98 175.24,341 175.7,341.02 176.16,341.04 176.61,341.06 177.07,341.08 177.52,341.1 177.98,341.12 178.44,341.14 178.89,341.16 179.35,341.17 179.8,341.19 180.26,341.21 180.72,341.23 181.17,341.24 181.63,341.26 182.08,341.27 182.54,341.29 183,341.3 183.45,341.32 183.91,341.33 184.36,341.35 184.82,341.36 185.28,341.38 185.73,341.39 186.19,341.4 186.64,341.42 187.1,341.43 187.56,341.44 188.01,341.46 188.47,341.47 188.92,341.48 189.38,341.49 189.84,341.51 190.29,341.52 190.75,341.53 191.2,341.54 191.66,341.56 192.12,341.57 192.57,341.58 193.03,341.59 193.48,341.6 193.94,341.61 194.4,341.63 194.85,341.64 195.31,341.65 195.76,341.66 196.22,341.67 196.68,341.68 197.13,341.69 197.59,341.7 198.04,341.72 198.5,341.73 198.96,341.74 199.41,341.75 199.87,341.76 200.32,341.77 200.78,341.78 201.24,341.79 201.69,341.8 202.15,341.81 202.6,341.82 203.06,341.83 203.52,341.84 203.97,341.85 204.43,341.86 204.88,341.86 205.34,341.87 205.8,341.88 206.25,341.89 206.71,341.9 207.16,341.91 207.62,341.91 208.08,341.92 208.53,341.93 208.99,341.93 209.44,341.94 209.9,341.94" fill="none" stroke="#6aaa1e" stroke-width="2.0" stroke-linejoin="round"/>
<polyline points="27.96,342.32 28.41,342.32 28.87,342.32 29.33,342.31 29.78,342.31 30.24,342.31 30.69,342.31 31.15,342.31 31.61,342.3 32.06,342.3 32.52,342.3 32.97,342.29 33.43,342.29 33.89,342.29 34.34,342.28 34.8,342.28 35.25,342.27 35.71,342.27 36.17,342.26 36.62,342.25 37.08,342.25 37.53,342.24 37.99,342.23 38.45,342.23 38.9,342.22 39.36,342.21 39.81,342.2 40.27,342.19 40.73,342.18 41.18,342.18 41.64,342.17 42.09,342.15 42.55,342.14 43.01,342.13 43.46,342.12 43.92,342.1 44.37,342.08 44.83,342.06 45.29,342.04 45.74,342.02 46.2,341.99 46.65,341.96 47.11,341.93 47.57,341.89 48.02,341.86 48.48,341.82 48.93,341.77 49.39,341.73 49.85,341.68 50.3,341.63 50.76,341.58 51.21,341.52 51.67,341.45 52.13,341.38 52.58,341.3 53.04,341.22 53.49,341.12 53.95,341.01 54.41,340.89 54.86,340.77 55.32,340.63 55.77,340.48 56.23,340.33 56.69,340.16 57.14,339.99 57.6,339.82 58.05,339.64 58.51,339.45 58.97,339.27 59.42,339.07 59.88,338.87 60.33,338.67 60.79,338.46 61.25,338.24 61.7,338.01 62.16,337.78 62.61,337.54 63.07,337.3 63.53,337.05 63.98,336.79 64.44,336.53 64.89,336.27 65.35,336 65.81,335.73 66.26,335.46 66.72,335.19 67.17,334.92 67.63,334.64 68.09,334.36 68.54,334.08 69,333.8 69.45,333.51 69.91,333.22 70.37,332.93 70.82,332.64 71.28,332.35 71.73,332.06 72.19,331.78 72.65,331.51 73.1,331.25 73.56,331 74.01,330.77 74.47,330.54 74.93,330.33 75.38,330.14 75.84,329.95 76.29,329.78 76.75,329.62 77.21,329.47 77.66,329.34 78.12,329.21 78.57,329.1 79.03,329.01 79.49,328.94 79.94,328.88 80.4,328.84 80.85,328.81 81.31,328.8 81.77,328.8 82.22,328.81 82.68,328.82 83.13,328.85 83.59,328.88 84.05,328.91 84.5,328.94 84.96,328.98 85.41,329.02 85.87,329.06 86.33,329.1 86.78,329.13 87.24,329.17 87.69,329.21 88.15,329.24 88.61,329.27 89.06,329.29 89.52,329.29 89.97,329.28 90.43,329.26 90.89,329.2 91.34,329.13 91.8,329.02 92.25,328.89 92.71,328.73 93.17,328.55 93.62,328.35 94.08,328.14 94.53,327.9 94.99,327.66 95.45,327.4 95.9,327.12 96.36,326.83 96.81,326.53 97.27,326.21 97.73,325.87 98.18,325.51 98.64,325.12 99.09,324.72 99.55,324.29 100.01,323.84 100.46,323.36 100.92,322.86 101.37,322.32 101.83,321.77 102.28,321.18 102.74,320.57 103.2,319.93 103.65,319.26 104.11,318.56 104.56,317.83 105.02,317.07 105.48,316.28 105.93,315.46 106.39,314.6 106.84,313.72 107.3,312.8 107.76,311.85 108.21,310.88 108.67,309.87 109.12,308.84 109.58,307.79 110.04,306.71 110.49,305.6 110.95,304.47 111.4,303.3 111.86,302.11 112.32,300.88 112.77,299.62 113.23,298.32 113.68,296.98 114.14,295.61 114.6,294.2 115.05,292.75 115.51,291.28 115.96,289.78 116.42,288.26 116.88,286.72 117.33,285.16 117.79,283.6 118.24,282.03 118.7,280.45 119.16,278.85 119.61,277.25 120.07,275.64 120.52,274.03 120.98,272.4 121.44,270.76 121.89,269.11 122.35,267.46 122.8,265.8 123.26,264.14 123.72,262.48 124.17,260.81 124.63,259.15 125.08,257.49 125.54,255.83 126,254.17 126.45,252.51 126.91,250.86 127.36,249.21 127.82,247.57 128.28,245.94 128.73,244.34 129.19,242.75 129.64,241.19 130.1,239.67 130.56,238.18 131.01,236.72 131.47,235.3 131.92,233.91 132.38,232.55 132.84,231.23 133.29,229.95 133.75,228.69 134.2,227.48 134.66,226.3 135.12,225.16 135.57,224.06 136.03,222.99 136.48,221.97 136.94,220.98 137.4,220.02 137.85,219.1 138.31,218.22 138.76,217.38 139.22,216.57 139.68,215.81 140.13,215.09 140.59,214.42 141.04,213.79 141.5,213.2 141.96,212.64 142.41,212.13 142.87,211.64 143.32,211.19 143.78,210.77 144.24,210.38 144.69,210.02 145.15,209.7 145.6,209.42 146.06,209.19 146.52,209 146.97,208.86 147.43,208.77 147.88,208.72 148.34,208.73 148.8,208.78 149.25,208.87 149.71,208.99 150.16,209.15 150.62,209.35 151.08,209.57 151.53,209.81 151.99,210.09 152.44,210.39 152.9,210.72 153.36,211.08 153.81,211.47 154.27,211.91 154.72,212.38 155.18,212.9 155.64,213.45 156.09,214.04 156.55,214.67 157,215.34 157.46,216.02 157.92,216.74 158.37,217.47 158.83,218.22 159.28,218.99 159.74,219.77 160.2,220.58 160.65,221.4 161.11,222.24 161.56,223.1 162.02,223.97 162.48,224.86 162.93,225.77 163.39,226.69 163.84,227.62 164.3,228.56 164.76,229.52 165.21,230.49 165.67,231.47 166.12,232.46 166.58,233.46 167.04,234.48 167.49,235.5 167.95,236.54 168.4,237.58 168.86,238.62 169.32,239.66 169.77,240.69 170.23,241.72 170.68,242.73 171.14,243.73 171.6,244.7 172.05,245.66 172.51,246.58 172.96,247.48 173.42,248.34 173.88,249.17 174.33,249.96 174.79,250.72 175.24,251.45 175.7,252.16 176.16,252.84 176.61,253.51 177.07,254.18 177.52,254.84 177.98,255.52 178.44,256.2 178.89,256.89 179.35,257.6 179.8,258.31 180.26,259.04 180.72,259.78 181.17,260.53 181.63,261.28 182.08,262.04 182.54,262.79 183,263.55 183.45,264.3 183.91,265.05 184.36,265.8 184.82,266.54 185.28,267.27 185.73,268.01 186.19,268.73 186.64,269.46 187.1,270.18 187.56,270.91 188.01,271.63 188.47,272.35 188.92,273.07 189.38,273.8 189.84,274.53 190.29,275.26 190.75,276 191.2,276.74 191.66,277.49 192.12,278.24 192.57,279 193.03,279.76 193.48,280.53 193.94,281.31 194.4,282.09 194.85,282.87 195.31,283.66 195.76,284.44 196.22,285.23 196.68,286.01 197.13,286.8 197.59,287.58 198.04,288.36 198.5,289.13 198.96,289.9 199.41,290.67 199.87,291.43 200.32,292.19 200.78,292.94 201.24,293.68 201.69,294.42 202.15,295.14 202.6,295.84 203.06,296.53 203.52,297.2 203.97,297.85 204.43,298.49 204.88,299.1 205.34,299.7 205.8,300.28 206.25,300.84 206.71,301.39 207.16,301.91 207.62,302.4 208.08,302.86 208.53,303.28 208.99,303.65 209.44,303.97 209.9,304.24" fill="none" stroke="#fa6666" stroke-width="2.0" stroke-linejoin="round"/>
</g>
<clipPath id="cb"><rect x="252.95" y="11.0" width="181.25" height="145.3"/></clipPath>
<g clip-path="url(#cb)">
<path fill="#46b4f6" d="M252.9 93.4h2.2v2.2h-2.2zM253.4 96.1h2.2v2.2h-2.2zM264.9 75.0h2.2v2.2h-2.2zM268.4 77.3h2.2v2.2h-2.2zM271.7 80.5h2.2v2.2h-2.2zM274.9 73.2h2.2v2.2h-2.2zM277.2 75.6h2.2v2.2h-2.2zM279.9 72.7h2.2v2.2h-2.2zM282.2 77.9h2.2v2.2h-2.2zM284.5 81.4h2.2v2.2h-2.2zM286.5 80.3h2.2v2.2h-2.2zM289.5 80.8h2.2v2.2h-2.2zM291.8 81.4h2.2v2.2h-2.2zM294.1 79.7h2.2v2.2h-2.2zM297.0 77.9h2.2v2.2h-2.2zM298.8 79.1h2.2v2.2h-2.2zM301.1 84.3h2.2v2.2h-2.2zM302.9 84.9h2.2v2.2h-2.2zM305.8 82.0h2.2v2.2h-2.2zM308.1 79.7h2.2v2.2h-2.2zM310.5 76.2h2.2v2.2h-2.2zM312.2 80.8h2.2v2.2h-2.2zM315.2 84.9h2.2v2.2h-2.2zM317.5 85.5h2.2v2.2h-2.2zM319.8 83.8h2.2v2.2h-2.2zM322.2 80.3h2.2v2.2h-2.2zM324.5 77.9h2.2v2.2h-2.2zM326.8 83.8h2.2v2.2h-2.2zM329.2 85.5h2.2v2.2h-2.2zM331.4 80.1h2.2v2.2h-2.2zM333.9 81.2h2.2v2.2h-2.2zM336.9 84.2h2.2v2.2h-2.2zM339.9 86.8h2.2v2.2h-2.2zM342.9 83.2h2.2v2.2h-2.2zM344.9 80.6h2.2v2.2h-2.2zM346.9 76.6h2.2v2.2h-2.2zM348.9 82.2h2.2v2.2h-2.2zM350.9 80.6h2.2v2.2h-2.2zM352.9 81.7h2.2v2.2h-2.2zM354.9 84.2h2.2v2.2h-2.2zM357.4 78.6h2.2v2.2h-2.2zM359.4 78.1h2.2v2.2h-2.2zM360.9 80.1h2.2v2.2h-2.2zM362.9 83.2h2.2v2.2h-2.2zM365.9 84.2h2.2v2.2h-2.2zM368.9 85.8h2.2v2.2h-2.2zM371.9 86.3h2.2v2.2h-2.2zM375.9 83.2h2.2v2.2h-2.2zM379.9 83.2h2.2v2.2h-2.2zM383.9 80.6h2.2v2.2h-2.2zM387.9 84.7h2.2v2.2h-2.2zM391.9 83.2h2.2v2.2h-2.2zM394.3 79.8h2.2v2.2h-2.2zM397.5 80.2h2.2v2.2h-2.2zM401.2 79.0h2.2v2.2h-2.2zM403.6 82.7h2.2v2.2h-2.2zM406.9 83.5h2.2v2.2h-2.2zM410.1 79.0h2.2v2.2h-2.2zM414.6 81.1h2.2v2.2h-2.2zM419.4 81.1h2.2v2.2h-2.2zM423.5 81.5h2.2v2.2h-2.2zM427.9 81.1h2.2v2.2h-2.2zM432.4 81.5h2.2v2.2h-2.2z"/>
<path fill="#fa6666" d="M256.8 98.1h2.2v2.2h-2.2zM259.9 100.8h2.2v2.2h-2.2zM263.3 95.1h2.2v2.2h-2.2zM267.3 94.3h2.2v2.2h-2.2zM269.6 89.6h2.2v2.2h-2.2zM271.9 88.4h2.2v2.2h-2.2zM274.3 91.4h2.2v2.2h-2.2zM276.6 90.5h2.2v2.2h-2.2zM278.9 89.6h2.2v2.2h-2.2zM281.5 86.7h2.2v2.2h-2.2zM283.6 87.3h2.2v2.2h-2.2zM285.9 87.9h2.2v2.2h-2.2zM288.3 88.4h2.2v2.2h-2.2zM290.0 93.1h2.2v2.2h-2.2zM292.4 89.6h2.2v2.2h-2.2zM295.3 83.8h2.2v2.2h-2.2zM297.0 84.3h2.2v2.2h-2.2zM298.2 81.4h2.2v2.2h-2.2zM299.4 84.3h2.2v2.2h-2.2zM302.3 91.9h2.2v2.2h-2.2zM304.1 92.5h2.2v2.2h-2.2zM305.8 87.3h2.2v2.2h-2.2zM308.1 88.4h2.2v2.2h-2.2zM311.1 91.4h2.2v2.2h-2.2zM313.4 90.8h2.2v2.2h-2.2zM315.7 84.9h2.2v2.2h-2.2zM318.7 79.1h2.2v2.2h-2.2zM321.0 82.6h2.2v2.2h-2.2zM323.9 86.7h2.2v2.2h-2.2zM325.7 81.4h2.2v2.2h-2.2zM328.6 76.8h2.2v2.2h-2.2zM329.9 76.6h2.2v2.2h-2.2zM331.9 79.1h2.2v2.2h-2.2zM333.9 82.2h2.2v2.2h-2.2zM335.9 85.2h2.2v2.2h-2.2zM339.9 89.8h2.2v2.2h-2.2zM341.9 84.2h2.2v2.2h-2.2zM343.9 82.7h2.2v2.2h-2.2zM345.9 79.6h2.2v2.2h-2.2zM347.4 85.2h2.2v2.2h-2.2zM348.9 88.3h2.2v2.2h-2.2zM350.9 87.3h2.2v2.2h-2.2zM353.9 85.2h2.2v2.2h-2.2zM355.9 87.3h2.2v2.2h-2.2zM358.4 83.2h2.2v2.2h-2.2zM360.9 82.2h2.2v2.2h-2.2zM363.9 81.7h2.2v2.2h-2.2zM366.9 78.6h2.2v2.2h-2.2zM368.9 82.7h2.2v2.2h-2.2zM371.9 84.7h2.2v2.2h-2.2zM374.9 85.2h2.2v2.2h-2.2zM376.9 80.6h2.2v2.2h-2.2zM378.9 78.6h2.2v2.2h-2.2zM381.9 84.2h2.2v2.2h-2.2zM384.9 85.2h2.2v2.2h-2.2zM387.9 81.7h2.2v2.2h-2.2zM390.9 82.2h2.2v2.2h-2.2zM395.5 83.5h2.2v2.2h-2.2zM398.8 80.2h2.2v2.2h-2.2zM401.6 85.9h2.2v2.2h-2.2zM404.0 83.5h2.2v2.2h-2.2zM407.3 82.3h2.2v2.2h-2.2zM410.9 84.3h2.2v2.2h-2.2zM414.2 80.7h2.2v2.2h-2.2zM418.2 82.3h2.2v2.2h-2.2zM423.1 82.7h2.2v2.2h-2.2zM428.3 81.5h2.2v2.2h-2.2zM432.0 83.5h2.2v2.2h-2.2z"/>
<polyline points="252.95,86.37 254.05,86.38 255.15,89.52 256.25,89.89 257.35,90.8 258.45,91.75 259.55,91.23 260.65,93.1 261.75,93.37 262.85,97.14 263.95,95.81 265.05,96.11 266.15,96.71 267.25,97.11 268.35,97.77 269.45,99.16 270.55,100.61 271.65,100.92 272.75,102.57 273.85,102.57 274.95,103.66 276.05,105.66 277.15,105.89 278.25,106.09 279.35,106.94 280.45,108 281.55,109.54 282.65,108.79 283.75,109.6 284.85,111.26 285.95,110.94 287.05,112.57 288.15,114.64 289.25,115.73 290.35,116.68 291.45,118.05 292.55,116.39 293.65,119.88 294.75,119.28 295.85,119.55 296.95,121.67 298.05,122.72 299.15,122.68 300.25,123.49 301.35,125.76 302.45,127.22 303.55,131.87 304.65,135.03 305.75,132.24 306.85,131.21 307.95,129.44 309.05,128.54 310.15,129.31 311.25,129.02 312.35,128.53 313.45,128.41 314.55,129.39 315.65,127.28 316.75,128.12 317.85,126.62 318.95,124.23 320.05,124.53 321.15,123.01 322.25,123.5 323.35,120.83 324.45,120.91 325.55,121.39 326.65,121.05 327.75,118.35 328.85,120.33 329.95,121.74 331.05,122.02 332.15,124.55 333.25,123.29 334.35,124.53 335.45,123.71 336.55,125.72 337.65,125.11 338.75,125.25 339.85,124.64 340.95,125.96 342.05,124.26 343.15,123.44 344.25,122.93 345.35,121.65 346.45,120.45 347.55,119.83 348.65,119.31 349.75,120.22 350.85,117.63 351.95,117.63 353.05,116.92 354.15,116.37 355.25,115.67 356.35,113.49 357.45,112.37 358.55,112.8 359.65,112.87 360.75,113.32 361.85,114.32 362.95,115.32 364.05,115.79 365.15,114.36 366.25,114.05 367.35,111.87 368.45,111.37 369.55,109.92 370.65,108.28 371.75,106.25 372.85,106.9 373.95,105.18 375.05,105.75 376.15,104.11 377.25,106.13 378.35,105.9 379.45,106.27 380.55,103.87 381.65,105.85 382.75,104.73 383.85,101.75 384.95,100.66 386.05,99.47 387.15,99.83 388.25,100.48 389.35,101.7 390.45,100.36 391.55,100.12 392.65,98.55 393.75,98.52 394.85,97.22 395.95,97.08 397.05,94.79 398.15,94.92 399.25,94.16 400.35,95.45 401.45,94.52 402.55,93.51 403.65,93.17 404.75,93.62 405.85,92.59 406.95,92.22 408.05,93 409.15,94.66 410.25,93.1 411.35,93.23 412.45,93.14 413.55,92.47 414.65,93.1 415.75,92.71 416.85,91.64 417.95,91.39 419.05,90.65 420.15,89.82 421.25,87.94 422.35,88.36 423.45,88.42 424.55,87.73 425.65,88.09 426.75,88 427.85,88.34 428.95,89.03 430.05,88.02 431.15,87.87 432.25,87.08 433.35,85.49 434.2,85.47" fill="none" stroke="#fa6666" stroke-width="2.1" stroke-linejoin="round"/>
<polyline points="252.95,105.45 254.05,94.7 255.15,88.48 256.25,82.59 257.35,76.55 258.45,75.22 259.55,74.23 260.65,74.2 261.75,72.15 262.85,72.52 263.95,70.8 265.05,70.02 266.15,67.3 267.25,65.53 268.35,63.04 269.45,66.42 270.55,64.21 271.65,66.71 272.75,66.11 273.85,63.73 274.95,60.44 276.05,56.99 277.15,54.94 278.25,53.2 279.35,52.91 280.45,49.51 281.55,51.45 282.65,51.65 283.75,53.88 284.85,52.31 285.95,50.92 287.05,48.67 288.15,46.08 289.25,46.68 290.35,44.98 291.45,44.06 292.55,42.43 293.65,39.47 294.75,39.71 295.85,42.07 296.95,43.52 298.05,43.89 299.15,43.1 300.25,41.78 301.35,39.4 302.45,37.72 303.55,36.36 304.65,34.83 305.75,37.7 306.85,37.3 307.95,38.86 309.05,36.48 310.15,31.56 311.25,29.25 312.35,29.18 313.45,29.39 314.55,29.69 315.65,33.68 316.75,35.92 317.85,39.79 318.95,43.06 320.05,40.06 321.15,38.25 322.25,36.23 323.35,35.05 324.45,36.8 325.55,37.39 326.65,37.86 327.75,34.86 328.85,33.87 329.95,35.56 331.05,34.87 332.15,35.4 333.25,38.95 334.35,40.07 335.45,43.69 336.55,45.01 337.65,46.2 338.75,42.92 339.85,40.93 340.95,40.35 342.05,39.74 343.15,41.09 344.25,44.14 345.35,43.34 346.45,45.83 347.55,45.77 348.65,47.47 349.75,47.98 350.85,49.43 351.95,51.44 353.05,52.29 354.15,51.49 355.25,49.37 356.35,49.11 357.45,50.81 358.55,53.41 359.65,55.79 360.75,57.06 361.85,56.16 362.95,55.51 364.05,54.7 365.15,54.72 366.25,54.27 367.35,55.93 368.45,58.18 369.55,59.16 370.65,61.21 371.75,59.86 372.85,60.85 373.95,59.02 375.05,59.76 376.15,61.78 377.25,63.14 378.35,64.94 379.45,67.37 380.55,65.3 381.65,63.25 382.75,64.1 383.85,63.04 384.95,65.87 386.05,65.16 387.15,65.89 388.25,68.29 389.35,69.55 390.45,69.47 391.55,71.19 392.65,72.92 393.75,74.74 394.85,74.03 395.95,73.85 397.05,74.24 398.15,73.2 399.25,73.19 400.35,73.09 401.45,71.87 402.55,72.06 403.65,70.81 404.75,72.61 405.85,74.54 406.95,73.63 408.05,76.08 409.15,76.5 410.25,76.25 411.35,76.77 412.45,77.32 413.55,76.69 414.65,76.34 415.75,75.75 416.85,75.45 417.95,76.3 419.05,76.16 420.15,78.19 421.25,77.58 422.35,78.03 423.45,78.44 424.55,78.2 425.65,78.23 426.75,78.61 427.85,78.14 428.95,77.85 430.05,77.77 431.15,78.2 432.25,77.07 433.35,78.48 434.2,77.29" fill="none" stroke="#46b4f6" stroke-width="2.1" stroke-linejoin="round"/>
</g>
<clipPath id="ce"><rect x="252.95" y="197.2" width="181.35000000000002" height="145.3"/></clipPath>
<g clip-path="url(#ce)">
<polyline points="252.95,268.46 253.77,268.45 254.58,268.33 255.4,268.53 256.21,267.84 257.03,268.39 257.85,268.07 258.66,268.55 259.48,268.48 260.29,268.54 261.11,268.29 261.93,268.01 262.74,268.27 263.56,268.6 264.38,268.26 265.19,269.02 266.01,269.17 266.82,269.87 267.64,269.39 268.46,269.73 269.27,270.1 270.09,270.23 270.9,269.81 271.72,270.55 272.54,270.53 273.35,270.61 274.17,270.75 274.98,270.98 275.8,270.5 276.62,271.64 277.43,271.06 278.25,270.79 279.06,271.59 279.88,272.2 280.7,271.76 281.51,272.55 282.33,272.73 283.14,272.18 283.96,271.87 284.78,272.4 285.59,273.28 286.41,272.81 287.23,272.73 288.04,272.91 288.86,273.46 289.67,273.63 290.49,274.12 291.31,274.45 292.12,274.21 292.94,274.8 293.75,274.84 294.57,275.49 295.39,275.4 296.2,275.66 297.02,276.97 297.83,276.72 298.65,277.36 299.47,278.43 300.28,278.44 301.1,278.77 301.91,279.46 302.73,279.81 303.55,280.82 304.36,280.71 305.18,281.91 305.99,283.11 306.81,285.09 307.63,286.36 308.44,287.85 309.26,288.47 310.08,288.9 310.89,287.87 311.71,287.59 312.52,287.87 313.34,287.4 314.16,288.05 314.97,288.97 315.79,289.39 316.6,290.35 317.42,291.75 318.24,294.76 319.05,295.95 319.87,297.06 320.68,296.1 321.5,295.93 322.32,294.75 323.13,293.7 323.95,292.67 324.76,292.89 325.58,294.04 326.4,295.94 327.21,296.91 328.03,298.55 328.84,299.74 329.66,300.15 330.48,301.29 331.29,302.12 332.11,302.38 332.93,302.73 333.74,303.04 334.56,303.76 335.37,303.32 336.19,304.2 337.01,305.38 337.82,307.08 338.64,308.32 339.45,309.4 340.27,311.35 341.09,310.95 341.9,310.34 342.72,310.27 343.53,310.24 344.35,310 345.17,309.17 345.98,310.15 346.8,310.58 347.61,311.57 348.43,312.67 349.25,313.49 350.06,313.59 350.88,314.32 351.7,316.06 352.51,316.74 353.33,318.3 354.14,319.46 354.96,320.53 355.78,320.47 356.59,319.85 357.41,319.26 358.22,317.68 359.04,317.14 359.86,315.1 360.67,313.42 361.49,312.55 362.3,311.86 363.12,311.85 363.94,312.54 364.75,314.32 365.57,315.83 366.38,317.11 367.2,318.28 368.02,320.14 368.83,321.06 369.65,321.31 370.46,322.51 371.28,323.16 372.1,321.58 372.91,319.67 373.73,317.35 374.55,315.62 375.36,313.6 376.18,313.23 376.99,313.83 377.81,313.67 378.63,314.13 379.44,315.32 380.26,315.09 381.07,316.43 381.89,316.15 382.71,315.88 383.52,314.84 384.34,312.69 385.15,311.09 385.97,310.66 386.79,308.57 387.6,307.9 388.42,307.84 389.23,307.25 390.05,308.06 390.87,310.36 391.68,312.7 392.5,314.51 393.31,316.25 394.13,317.87 394.95,316.91 395.76,317.24 396.58,316.35 397.4,314.56 398.21,314.35 399.03,313.2 399.84,312.18 400.66,311.28 401.48,310.78 402.29,310.6 403.11,310.69 403.92,311.77 404.74,312.22 405.56,311.83 406.37,310.36 407.19,309.25 408,308.01 408.82,307.5 409.64,307.96 410.45,308.61 411.27,308.82 412.08,309.18 412.9,309.01 413.72,308.59 414.53,307.45 415.35,306.86 416.16,305.87 416.98,303.81 417.8,302.92 418.61,301.7 419.43,301.44 420.25,301.99 421.06,302.99 421.88,303.02 422.69,303.57 423.51,302.62 424.33,300.15 425.14,299.14 425.96,299.48 426.77,299.18 427.59,299.25 428.41,299.27 429.22,299.86 430.04,299.95 430.85,300.29 431.67,300.9 432.49,301.8 433.3,303.45 434.12,303.6" fill="none" stroke="#fa6666" stroke-width="2.1" stroke-linejoin="round"/>
<polyline points="252.95,269.12 253.77,269.55 254.58,269.12 255.4,269.97 256.21,270.28 257.03,269.98 257.85,270.44 258.66,270.61 259.48,270.69 260.29,270.82 261.11,270.69 261.93,271.92 262.74,271.66 263.56,272.58 264.38,272.13 265.19,271.85 266.01,271.25 266.82,271.48 267.64,270.61 268.46,270.95 269.27,270.08 270.09,270.02 270.9,269.4 271.72,270.58 272.54,269.95 273.35,270 274.17,270.5 274.98,270.1 275.8,270.73 276.62,270.28 277.43,270.91 278.25,270.5 279.06,270.27 279.88,270.64 280.7,270.38 281.51,270.97 282.33,269.96 283.14,268.42 283.96,266.49 284.78,264.86 285.59,263.29 286.41,262.23 287.23,261.38 288.04,261.85 288.86,263.07 289.67,264.68 290.49,265.44 291.31,266.23 292.12,264.65 292.94,263.63 293.75,262.68 294.57,261.91 295.39,260.65 296.2,259.32 297.02,258.33 297.83,257.74 298.65,257.94 299.47,257.35 300.28,257.62 301.1,257.46 301.91,257.48 302.73,256.63 303.55,255.07 304.36,255.28 305.18,253.47 305.99,252.26 306.81,251.67 307.63,252.03 308.44,252.64 309.26,253.47 310.08,253.88 310.89,254.35 311.71,253.92 312.52,254.3 313.34,253.82 314.16,252.21 314.97,250.68 315.79,249.01 316.6,248.41 317.42,247.67 318.24,246.43 319.05,244.52 319.87,244.22 320.68,244.25 321.5,244.46 322.32,245.05 323.13,242.97 323.95,241.47 324.76,239.84 325.58,238.05 326.4,236.02 327.21,234.62 328.03,232.65 328.84,230.77 329.66,230.49 330.48,230.13 331.29,229.86 332.11,231.39 332.93,230.99 333.74,232.01 334.56,230.89 335.37,230.39 336.19,229.69 337.01,229.66 337.82,228.91 338.64,229.31 339.45,228.55 340.27,227.99 341.09,227.24 341.9,226.92 342.72,226.26 343.53,226.11 344.35,225.02 345.17,223.73 345.98,224.74 346.8,224.35 347.61,226.49 348.43,226.06 349.25,226.57 350.06,226.62 350.88,226.26 351.7,225.99 352.51,226.83 353.33,226.06 354.14,226.2 354.96,226.02 355.78,223.3 356.59,221.48 357.41,220.31 358.22,220.08 359.04,220.72 359.86,221.12 360.67,220.97 361.49,220.32 362.3,219.02 363.12,217.84 363.94,217.78 364.75,218.62 365.57,220.28 366.38,220.83 367.2,221.36 368.02,221.61 368.83,221.26 369.65,221.94 370.46,224.43 371.28,226.58 372.1,228.33 372.91,230.02 373.73,231.67 374.55,232.92 375.36,233.29 376.18,234.33 376.99,233.25 377.81,231.52 378.63,229.47 379.44,227.58 380.26,224.81 381.07,222.45 381.89,221.89 382.71,222.16 383.52,221.7 384.34,221.98 385.15,222.49 385.97,224.36 386.79,226.64 387.6,229.54 388.42,231.75 389.23,231.79 390.05,230.14 390.87,228.94 391.68,227.04 392.5,225.39 393.31,225.11 394.13,224.65 394.95,225.47 395.76,225.22 396.58,224.93 397.4,225.47 398.21,226.75 399.03,228.29 399.84,229.56 400.66,230.72 401.48,232.32 402.29,230.82 403.11,230.33 403.92,230 404.74,229.2 405.56,229.14 406.37,227.94 407.19,227.72 408,226.08 408.82,226.2 409.64,225.89 410.45,226.26 411.27,227.35 412.08,228.63 412.9,229.91 413.72,231.23 414.53,231.88 415.35,233.26 416.16,232.62 416.98,232.3 417.8,231.57 418.61,231.6 419.43,231.22 420.25,231.35 421.06,231.06 421.88,231.32 422.69,232.93 423.51,234.02 424.33,235.13 425.14,236.28 425.96,236.74 426.77,238.37 427.59,238.72 428.41,239.91 429.22,240.42 430.04,241.12 430.85,241.52 431.67,241.45 432.49,241.26 433.3,241.84 434.12,241.7" fill="none" stroke="#46b4f6" stroke-width="2.1" stroke-linejoin="round"/>
</g>
<clipPath id="cc"><rect x="493.5" y="11.0" width="181.6" height="146.4"/></clipPath>
<g clip-path="url(#cc)">
<polygon points="496.8,11.2 497.3,11.5 497.8,11.9 498.3,12.2 498.8,12.6 499.3,12.8 499.8,13.1 500.3,13.5 500.8,14.0 501.3,14.4 501.8,14.9 502.3,15.3 502.8,15.7 503.3,16.2 503.8,16.6 504.3,17.1 504.8,17.2 505.3,17.5 505.8,18.2 506.3,18.8 506.8,19.4 507.3,20.1 507.8,20.7 508.3,21.3 508.8,21.9 509.3,22.6 509.8,23.4 510.3,24.3 510.8,24.8 511.3,25.2 511.8,25.7 512.3,26.1 512.8,26.5 513.3,26.9 513.8,27.2 514.3,27.5 514.8,28.0 515.3,28.5 515.8,29.0 516.3,29.6 516.8,30.1 517.3,30.6 517.8,31.1 518.3,31.6 518.8,32.2 519.3,32.7 519.8,33.3 520.3,33.9 520.8,34.4 521.3,34.8 521.8,35.3 522.3,35.7 522.8,36.1 523.3,36.5 523.8,36.9 524.3,37.4 524.8,37.8 525.3,38.2 525.8,38.6 526.3,39.0 526.8,39.5 527.3,39.9 527.8,40.3 528.3,40.7 528.8,41.1 529.3,41.6 529.8,42.0 530.3,42.4 530.8,42.9 531.3,43.3 531.8,43.7 532.3,44.0 532.8,44.4 533.3,44.8 533.8,45.2 534.3,45.6 534.8,46.0 535.3,46.4 535.8,46.8 536.3,47.2 536.8,47.6 537.3,48.0 537.8,48.4 538.3,48.8 538.8,49.2 539.3,49.6 539.8,50.0 540.3,50.4 540.8,50.7 541.3,51.1 541.8,51.5 542.3,51.9 542.8,52.3 543.3,52.7 543.8,53.1 544.3,53.5 544.8,53.9 545.3,54.3 545.8,54.7 546.3,55.1 546.8,55.5 547.3,55.8 547.8,56.2 548.3,56.6 548.8,57.0 549.3,57.4 549.8,57.8 550.3,58.2 550.8,58.6 551.3,59.0 551.8,59.4 552.3,59.7 552.8,60.1 553.3,60.5 553.8,60.8 554.3,61.2 554.8,61.6 555.3,62.0 555.8,62.3 556.3,62.7 556.8,63.1 557.3,63.4 557.8,63.8 558.3,64.2 558.8,64.6 559.3,64.9 559.8,65.2 560.3,65.6 560.8,65.9 561.3,66.4 561.8,66.8 562.3,67.2 562.8,67.6 563.3,68.0 563.8,68.4 564.3,68.8 564.8,69.3 565.3,69.7 565.8,70.1 566.3,70.5 566.8,70.9 567.3,71.3 567.8,71.7 568.3,72.1 568.8,72.5 569.3,73.0 569.8,73.4 570.3,73.8 570.8,74.2 571.3,74.6 571.8,75.0 572.3,75.4 572.8,75.8 573.3,76.2 573.8,76.6 574.3,76.9 574.8,77.3 575.3,77.7 575.8,78.1 576.3,78.5 576.8,78.9 577.3,79.3 577.8,79.7 578.3,80.0 578.8,80.4 579.3,80.8 579.8,81.2 580.3,81.6 580.8,82.0 581.3,82.3 581.8,82.7 582.3,83.1 582.8,83.5 583.3,83.9 583.8,84.3 584.3,84.6 584.8,85.0 585.3,85.4 585.8,85.8 586.3,86.2 586.8,86.6 587.3,86.9 587.8,87.3 588.3,87.7 588.8,88.1 589.3,88.5 589.8,88.9 590.3,89.3 590.8,89.7 591.3,90.0 591.8,90.3 592.3,90.7 592.8,91.0 593.3,91.3 593.8,91.6 594.3,91.9 594.8,92.3 595.3,92.6 595.8,92.9 596.3,93.2 596.8,93.5 597.3,93.8 597.8,94.2 598.3,94.5 598.8,94.8 599.3,95.1 599.8,95.4 600.3,95.7 600.8,96.1 601.3,96.4 601.8,96.7 602.3,97.0 602.8,97.3 603.3,97.6 603.8,97.9 604.3,98.2 604.8,98.6 605.3,98.9 605.8,99.2 606.3,99.5 606.8,99.8 607.3,100.1 607.8,100.4 608.3,100.7 608.8,101.0 609.3,101.3 609.8,101.6 610.3,101.9 610.8,102.3 611.3,102.6 611.8,102.9 612.3,103.2 612.8,103.5 613.3,103.8 613.8,104.1 614.3,104.4 614.8,104.7 615.3,105.0 615.8,105.3 616.3,105.6 616.8,105.9 617.3,106.2 617.8,106.5 618.3,106.8 618.8,107.1 619.3,107.4 619.8,107.8 620.3,108.2 620.8,108.5 621.3,108.7 621.8,108.9 622.3,109.1 622.8,109.3 623.3,109.5 623.8,109.8 624.3,110.0 624.8,110.2 625.3,110.4 625.8,110.6 626.3,110.8 626.8,111.0 627.3,111.2 627.8,111.5 628.3,111.7 628.8,111.9 629.3,112.1 629.8,112.3 630.3,112.5 630.8,112.7 631.3,112.9 631.8,113.1 632.3,113.4 632.8,113.6 633.3,113.8 633.8,114.0 634.3,114.2 634.8,114.4 635.3,114.6 635.8,114.8 636.3,115.0 636.8,115.2 637.3,115.4 637.8,115.7 638.3,115.9 638.8,116.1 639.3,116.3 639.8,116.5 640.3,116.7 640.8,116.9 641.3,117.1 641.8,117.3 642.3,117.5 642.8,117.7 643.3,117.9 643.8,118.1 644.3,118.3 644.8,118.5 645.3,118.8 645.8,119.0 646.3,119.2 646.8,119.4 647.3,119.6 647.8,119.8 648.3,120.0 648.8,120.2 649.3,120.4 649.8,120.7 650.3,121.0 650.8,121.1 651.3,121.3 651.8,121.4 652.3,121.6 652.8,121.7 653.3,121.9 653.8,122.0 654.3,122.1 654.8,122.3 655.3,122.4 655.8,122.6 656.3,122.7 656.8,122.8 657.3,123.0 657.8,123.1 658.3,123.3 658.8,123.4 659.3,123.5 659.8,123.7 660.3,123.8 660.8,123.9 661.3,124.1 661.8,124.2 662.3,124.4 662.8,124.5 663.3,124.7 663.8,124.9 664.3,125.0 664.8,125.2 665.3,125.3 665.8,125.5 666.3,125.7 666.8,125.8 667.3,126.0 667.8,126.1 668.3,126.3 668.8,126.4 669.3,126.6 669.8,126.8 670.3,126.9 670.8,127.1 671.3,127.2 671.8,127.4 672.3,127.6 672.8,127.7 673.3,127.9 673.8,128.0 674.3,128.2 674.8,128.5 675.3,128.8 675.3,129.5 674.8,129.7 674.3,129.9 673.8,129.9 673.3,129.9 672.8,129.9 672.3,129.9 671.8,129.9 671.3,129.9 670.8,129.9 670.3,129.9 669.8,129.9 669.3,129.9 668.8,129.9 668.3,129.9 667.8,129.9 667.3,129.9 666.8,129.9 666.3,129.9 665.8,129.9 665.3,129.9 664.8,129.9 664.3,129.9 663.8,129.9 663.3,129.9 662.8,129.9 662.3,129.9 661.8,129.9 661.3,129.9 660.8,129.9 660.3,129.9 659.8,129.9 659.3,129.8 658.8,129.8 658.3,129.8 657.8,129.8 657.3,129.8 656.8,129.8 656.3,129.8 655.8,129.8 655.3,129.8 654.8,129.8 654.3,129.8 653.8,129.8 653.3,129.8 652.8,129.8 652.3,129.8 651.8,129.8 651.3,129.8 650.8,129.8 650.3,129.9 649.8,130.0 649.3,130.1 648.8,130.1 648.3,130.1 647.8,130.1 647.3,130.1 646.8,130.1 646.3,130.1 645.8,130.1 645.3,130.1 644.8,130.1 644.3,130.1 643.8,130.1 643.3,130.1 642.8,130.1 642.3,130.1 641.8,130.1 641.3,130.1 640.8,130.1 640.3,130.1 639.8,130.1 639.3,130.1 638.8,130.1 638.3,130.1 637.8,130.1 637.3,130.1 636.8,130.1 636.3,130.1 635.8,130.1 635.3,130.1 634.8,130.1 634.3,130.1 633.8,130.1 633.3,130.1 632.8,130.1 632.3,130.1 631.8,130.1 631.3,130.1 630.8,130.1 630.3,130.1 629.8,130.1 629.3,130.1 628.8,130.1 628.3,130.1 627.8,130.1 627.3,130.1 626.8,130.0 626.3,129.7 625.8,129.4 625.3,129.0 624.8,128.7 624.3,128.3 623.8,128.0 623.3,127.7 622.8,127.3 622.3,127.0 621.8,126.7 621.3,126.3 620.8,126.0 620.3,125.7 619.8,125.5 619.3,125.1 618.8,124.7 618.3,124.2 617.8,123.8 617.3,123.3 616.8,122.9 616.3,122.5 615.8,122.0 615.3,121.6 614.8,121.1 614.3,120.7 613.8,120.3 613.3,119.8 612.8,119.4 612.3,119.0 611.8,118.5 611.3,118.1 610.8,117.7 610.3,117.2 609.8,116.8 609.3,116.4 608.8,116.0 608.3,115.5 607.8,115.1 607.3,114.7 606.8,114.3 606.3,113.9 605.8,113.5 605.3,113.0 604.8,112.6 604.3,112.2 603.8,111.8 603.3,111.4 602.8,111.0 602.3,110.6 601.8,110.1 601.3,109.7 600.8,109.3 600.3,108.9 599.8,108.5 599.3,108.1 598.8,107.7 598.3,107.3 597.8,106.9 597.3,106.5 596.8,106.1 596.3,105.7 595.8,105.3 595.3,104.9 594.8,104.5 594.3,104.1 593.8,103.7 593.3,103.3 592.8,102.9 592.3,102.5 591.8,102.1 591.3,101.7 590.8,101.3 590.3,100.9 589.8,100.6 589.3,100.2 588.8,99.7 588.3,99.3 587.8,98.8 587.3,98.4 586.8,97.9 586.3,97.4 585.8,97.0 585.3,96.5 584.8,96.1 584.3,95.6 583.8,95.2 583.3,94.7 582.8,94.3 582.3,93.8 581.8,93.3 581.3,92.9 580.8,92.4 580.3,92.0 579.8,91.5 579.3,91.1 578.8,90.6 578.3,90.2 577.8,89.8 577.3,89.3 576.8,88.9 576.3,88.4 575.8,88.0 575.3,87.5 574.8,87.1 574.3,86.6 573.8,86.2 573.3,85.7 572.8,85.3 572.3,84.9 571.8,84.4 571.3,84.0 570.8,83.5 570.3,83.1 569.8,82.7 569.3,82.2 568.8,81.8 568.3,81.3 567.8,80.9 567.3,80.4 566.8,80.0 566.3,79.5 565.8,79.0 565.3,78.6 564.8,78.1 564.3,77.7 563.8,77.2 563.3,76.7 562.8,76.3 562.3,75.8 561.8,75.4 561.3,74.9 560.8,74.5 560.3,74.0 559.8,73.5 559.3,73.0 558.8,72.6 558.3,72.2 557.8,71.8 557.3,71.4 556.8,71.0 556.3,70.6 555.8,70.2 555.3,69.8 554.8,69.4 554.3,69.0 553.8,68.6 553.3,68.2 552.8,67.8 552.3,67.4 551.8,67.0 551.3,66.6 550.8,66.2 550.3,65.8 549.8,65.4 549.3,65.0 548.8,64.6 548.3,64.2 547.8,63.8 547.3,63.4 546.8,62.9 546.3,62.5 545.8,62.1 545.3,61.7 544.8,61.3 544.3,60.9 543.8,60.4 543.3,60.0 542.8,59.6 542.3,59.2 541.8,58.8 541.3,58.4 540.8,57.9 540.3,57.5 539.8,57.1 539.3,56.7 538.8,56.3 538.3,55.9 537.8,55.5 537.3,55.0 536.8,54.6 536.3,54.2 535.8,53.8 535.3,53.4 534.8,53.0 534.3,52.6 533.8,52.1 533.3,51.7 532.8,51.3 532.3,50.9 531.8,50.5 531.3,50.1 530.8,49.7 530.3,49.3 529.8,48.9 529.3,48.5 528.8,48.0 528.3,47.6 527.8,47.2 527.3,46.7 526.8,46.3 526.3,45.8 525.8,45.4 525.3,45.0 524.8,44.5 524.3,44.1 523.8,43.7 523.3,43.2 522.8,42.8 522.3,42.4 521.8,41.9 521.3,41.5 520.8,41.1 520.3,40.7 519.8,40.4 519.3,39.9 518.8,39.4 518.3,38.9 517.8,38.3 517.3,37.8 516.8,37.3 516.3,36.7 515.8,36.2 515.3,35.7 514.8,35.1 514.3,34.5 513.8,33.8 513.3,33.3 512.8,32.9 512.3,32.4 511.8,32.0 511.3,31.6 510.8,31.2 510.3,30.9 509.8,30.7 509.3,30.3 508.8,29.6 508.3,29.0 507.8,28.3 507.3,27.7 506.8,27.1 506.3,26.4 505.8,25.8 505.3,25.1 504.8,24.2 504.3,23.4 503.8,23.0 503.3,22.5 502.8,22.1 502.3,21.6 501.8,21.2 501.3,20.7 500.8,20.3 500.3,19.8 499.8,19.3 499.3,18.7 498.8,18.2 498.3,17.9 497.8,17.5 497.3,17.2 496.8,16.8" fill="#fc3c3c"/>
<path fill="#fc3c3c" d="M495.6 12.3h3.3v3.3h-3.3zM496.4 13.0h3.3v3.3h-3.3zM496.9 13.3h3.3v3.3h-3.3zM497.1 14.2h3.3v3.3h-3.3zM498.1 14.3h3.3v3.3h-3.3zM498.5 15.2h3.3v3.3h-3.3zM498.9 15.6h3.3v3.3h-3.3zM499.4 15.3h3.3v3.3h-3.3zM499.9 15.8h3.3v3.3h-3.3zM500.2 16.8h3.3v3.3h-3.3zM500.4 16.3h3.3v3.3h-3.3zM501.4 17.8h3.3v3.3h-3.3zM501.9 17.6h3.3v3.3h-3.3zM502.2 18.7h3.3v3.3h-3.3zM502.3 18.6h3.3v3.3h-3.3zM502.4 18.1h3.3v3.3h-3.3zM502.5 18.8h3.3v3.3h-3.3zM502.9 18.5h3.3v3.3h-3.3zM503.1 18.5h3.3v3.3h-3.3zM503.6 20.1h3.3v3.3h-3.3zM503.9 19.6h3.3v3.3h-3.3zM504.1 20.5h3.3v3.3h-3.3zM504.6 21.7h3.3v3.3h-3.3zM505.0 21.0h3.3v3.3h-3.3zM506.4 22.9h3.3v3.3h-3.3zM506.6 23.8h3.3v3.3h-3.3zM506.8 24.0h3.3v3.3h-3.3zM506.9 23.4h3.3v3.3h-3.3zM507.1 24.5h3.3v3.3h-3.3zM507.2 23.9h3.3v3.3h-3.3zM507.8 24.4h3.3v3.3h-3.3zM508.1 24.6h3.3v3.3h-3.3zM509.6 26.1h3.3v3.3h-3.3zM509.9 27.5h3.3v3.3h-3.3zM510.0 26.4h3.3v3.3h-3.3zM510.9 27.3h3.3v3.3h-3.3zM512.7 29.9h3.3v3.3h-3.3zM514.1 30.5h3.3v3.3h-3.3zM514.9 32.2h3.3v3.3h-3.3zM515.2 32.6h3.3v3.3h-3.3zM516.4 32.8h3.3v3.3h-3.3zM516.8 32.8h3.3v3.3h-3.3zM518.2 34.6h3.3v3.3h-3.3zM518.8 36.6h3.3v3.3h-3.3zM519.0 36.7h3.3v3.3h-3.3zM519.4 36.9h3.3v3.3h-3.3zM520.6 38.2h3.3v3.3h-3.3zM520.7 36.5h3.3v3.3h-3.3zM521.3 38.6h3.3v3.3h-3.3zM521.4 37.4h3.3v3.3h-3.3zM521.6 37.5h3.3v3.3h-3.3zM521.9 39.0h3.3v3.3h-3.3zM523.3 38.9h3.3v3.3h-3.3zM523.5 40.4h3.3v3.3h-3.3zM524.7 40.2h3.3v3.3h-3.3zM524.8 41.5h3.3v3.3h-3.3zM527.6 42.5h3.3v3.3h-3.3zM527.8 44.6h3.3v3.3h-3.3zM528.1 42.9h3.3v3.3h-3.3zM528.2 45.1h3.3v3.3h-3.3zM528.3 44.6h3.3v3.3h-3.3zM528.5 44.9h3.3v3.3h-3.3zM528.6 43.4h3.3v3.3h-3.3zM529.6 45.9h3.3v3.3h-3.3zM530.4 46.7h3.3v3.3h-3.3zM530.9 45.2h3.3v3.3h-3.3zM531.4 45.6h3.3v3.3h-3.3zM531.6 47.4h3.3v3.3h-3.3zM532.6 46.7h3.3v3.3h-3.3zM533.7 47.5h3.3v3.3h-3.3zM534.0 49.6h3.3v3.3h-3.3zM535.0 48.5h3.3v3.3h-3.3zM535.1 50.3h3.3v3.3h-3.3zM535.1 50.3h3.3v3.3h-3.3zM535.4 48.0h3.3v3.3h-3.3zM537.5 52.7h3.3v3.3h-3.3zM537.6 52.3h3.3v3.3h-3.3zM537.9 52.7h3.3v3.3h-3.3zM540.0 54.6h3.3v3.3h-3.3zM540.7 55.0h3.3v3.3h-3.3zM541.1 53.0h3.3v3.3h-3.3zM541.5 53.4h3.3v3.3h-3.3zM542.1 56.1h3.3v3.3h-3.3zM542.3 54.1h3.3v3.3h-3.3zM542.4 53.7h3.3v3.3h-3.3zM542.6 54.0h3.3v3.3h-3.3zM542.8 56.8h3.3v3.3h-3.3zM543.0 54.7h3.3v3.3h-3.3zM543.1 57.4h3.3v3.3h-3.3zM544.6 55.9h3.3v3.3h-3.3zM544.7 58.6h3.3v3.3h-3.3zM544.9 55.8h3.3v3.3h-3.3zM545.4 56.7h3.3v3.3h-3.3zM545.4 58.9h3.3v3.3h-3.3zM545.6 56.6h3.3v3.3h-3.3zM547.1 58.0h3.3v3.3h-3.3zM547.2 61.0h3.3v3.3h-3.3zM549.9 60.2h3.3v3.3h-3.3zM551.0 60.8h3.3v3.3h-3.3zM552.1 61.2h3.3v3.3h-3.3zM552.8 62.3h3.3v3.3h-3.3zM553.9 65.9h3.3v3.3h-3.3zM554.1 66.1h3.3v3.3h-3.3zM554.3 66.7h3.3v3.3h-3.3zM554.4 66.4h3.3v3.3h-3.3zM554.8 63.5h3.3v3.3h-3.3zM555.1 64.0h3.3v3.3h-3.3zM555.4 64.2h3.3v3.3h-3.3zM555.6 64.2h3.3v3.3h-3.3zM555.7 63.9h3.3v3.3h-3.3zM556.0 68.9h3.3v3.3h-3.3zM556.1 64.4h3.3v3.3h-3.3zM556.1 67.5h3.3v3.3h-3.3zM556.7 68.2h3.3v3.3h-3.3zM556.8 68.4h3.3v3.3h-3.3zM556.9 68.4h3.3v3.3h-3.3zM558.6 66.0h3.3v3.3h-3.3zM559.2 70.2h3.3v3.3h-3.3zM562.1 69.4h3.3v3.3h-3.3zM562.2 73.5h3.3v3.3h-3.3zM562.4 73.1h3.3v3.3h-3.3zM562.7 73.9h3.3v3.3h-3.3zM562.9 73.7h3.3v3.3h-3.3zM563.0 74.1h3.3v3.3h-3.3zM563.1 73.7h3.3v3.3h-3.3zM563.5 70.7h3.3v3.3h-3.3zM563.6 75.7h3.3v3.3h-3.3zM566.1 72.4h3.3v3.3h-3.3zM566.6 73.0h3.3v3.3h-3.3zM567.1 77.5h3.3v3.3h-3.3zM567.3 73.0h3.3v3.3h-3.3zM567.5 73.9h3.3v3.3h-3.3zM568.4 78.8h3.3v3.3h-3.3zM569.2 74.4h3.3v3.3h-3.3zM570.0 79.9h3.3v3.3h-3.3zM570.3 80.4h3.3v3.3h-3.3zM570.4 81.1h3.3v3.3h-3.3zM570.9 76.0h3.3v3.3h-3.3zM571.0 76.1h3.3v3.3h-3.3zM571.5 77.0h3.3v3.3h-3.3zM572.9 82.6h3.3v3.3h-3.3zM573.1 78.3h3.3v3.3h-3.3zM573.4 85.3h3.3v3.3h-3.3zM573.8 83.5h3.3v3.3h-3.3zM574.1 83.6h3.3v3.3h-3.3zM574.4 78.9h3.3v3.3h-3.3zM574.6 79.2h3.3v3.3h-3.3zM575.1 78.9h3.3v3.3h-3.3zM575.2 78.6h3.3v3.3h-3.3zM576.3 86.3h3.3v3.3h-3.3zM577.3 87.1h3.3v3.3h-3.3zM577.6 81.9h3.3v3.3h-3.3zM578.1 80.3h3.3v3.3h-3.3zM578.9 88.1h3.3v3.3h-3.3zM579.9 82.5h3.3v3.3h-3.3zM581.5 84.8h3.3v3.3h-3.3zM582.4 84.4h3.3v3.3h-3.3zM582.9 92.6h3.3v3.3h-3.3zM583.4 85.8h3.3v3.3h-3.3zM583.6 86.3h3.3v3.3h-3.3zM584.3 93.4h3.3v3.3h-3.3zM585.0 94.6h3.3v3.3h-3.3zM585.2 86.7h3.3v3.3h-3.3zM585.4 95.2h3.3v3.3h-3.3zM585.6 86.0h3.3v3.3h-3.3zM585.8 95.2h3.3v3.3h-3.3zM585.9 94.9h3.3v3.3h-3.3zM586.1 95.2h3.3v3.3h-3.3zM587.0 98.9h3.3v3.3h-3.3zM587.2 88.7h3.3v3.3h-3.3zM587.5 87.5h3.3v3.3h-3.3zM587.6 96.2h3.3v3.3h-3.3zM588.1 89.6h3.3v3.3h-3.3zM588.3 98.5h3.3v3.3h-3.3zM588.6 89.4h3.3v3.3h-3.3zM589.1 101.1h3.3v3.3h-3.3zM589.5 90.5h3.3v3.3h-3.3zM589.6 98.1h3.3v3.3h-3.3zM591.0 99.3h3.3v3.3h-3.3zM591.3 91.5h3.3v3.3h-3.3zM591.4 91.8h3.3v3.3h-3.3zM591.6 99.7h3.3v3.3h-3.3zM591.9 90.8h3.3v3.3h-3.3zM593.2 93.1h3.3v3.3h-3.3zM594.6 93.7h3.3v3.3h-3.3zM596.0 103.1h3.3v3.3h-3.3zM596.3 94.3h3.3v3.3h-3.3zM596.5 103.6h3.3v3.3h-3.3zM596.6 94.9h3.3v3.3h-3.3zM597.0 104.8h3.3v3.3h-3.3zM597.1 95.6h3.3v3.3h-3.3zM597.1 94.6h3.3v3.3h-3.3zM597.9 95.2h3.3v3.3h-3.3zM598.0 95.2h3.3v3.3h-3.3zM598.9 107.4h3.3v3.3h-3.3zM599.1 96.6h3.3v3.3h-3.3zM600.1 96.6h3.3v3.3h-3.3zM600.2 95.9h3.3v3.3h-3.3zM600.6 108.9h3.3v3.3h-3.3zM600.8 97.7h3.3v3.3h-3.3zM602.1 98.1h3.3v3.3h-3.3zM602.1 98.1h3.3v3.3h-3.3zM602.2 96.2h3.3v3.3h-3.3zM602.4 98.5h3.3v3.3h-3.3zM602.9 109.6h3.3v3.3h-3.3zM603.4 108.9h3.3v3.3h-3.3zM603.5 108.9h3.3v3.3h-3.3zM604.2 99.7h3.3v3.3h-3.3zM604.5 109.6h3.3v3.3h-3.3zM605.1 113.3h3.3v3.3h-3.3zM605.5 98.9h3.3v3.3h-3.3zM606.1 115.5h3.3v3.3h-3.3zM606.9 100.6h3.3v3.3h-3.3zM607.4 101.5h3.3v3.3h-3.3zM607.6 113.3h3.3v3.3h-3.3zM607.7 101.1h3.3v3.3h-3.3zM608.2 102.0h3.3v3.3h-3.3zM608.9 113.3h3.3v3.3h-3.3zM609.6 102.0h3.3v3.3h-3.3zM609.9 116.8h3.3v3.3h-3.3zM610.6 118.1h3.3v3.3h-3.3zM612.3 103.6h3.3v3.3h-3.3zM612.4 104.8h3.3v3.3h-3.3zM612.9 103.6h3.3v3.3h-3.3zM613.1 105.4h3.3v3.3h-3.3zM614.7 106.0h3.3v3.3h-3.3zM614.9 106.0h3.3v3.3h-3.3zM615.0 106.7h3.3v3.3h-3.3zM615.1 105.4h3.3v3.3h-3.3zM615.2 106.0h3.3v3.3h-3.3zM615.4 106.7h3.3v3.3h-3.3zM616.2 121.2h3.3v3.3h-3.3zM616.3 107.4h3.3v3.3h-3.3zM616.4 103.1h3.3v3.3h-3.3zM617.2 105.4h3.3v3.3h-3.3zM617.6 123.0h3.3v3.3h-3.3zM617.7 127.4h3.3v3.3h-3.3zM617.8 127.4h3.3v3.3h-3.3zM618.1 108.1h3.3v3.3h-3.3zM618.1 123.0h3.3v3.3h-3.3zM618.7 106.0h3.3v3.3h-3.3zM619.1 123.0h3.3v3.3h-3.3zM619.2 133.6h3.3v3.3h-3.3zM620.2 133.6h3.3v3.3h-3.3zM620.7 125.1h3.3v3.3h-3.3zM621.1 125.1h3.3v3.3h-3.3zM621.6 127.4h3.3v3.3h-3.3zM622.1 125.1h3.3v3.3h-3.3zM622.9 110.5h3.3v3.3h-3.3zM623.6 109.6h3.3v3.3h-3.3zM624.6 130.2h3.3v3.3h-3.3zM624.6 111.4h3.3v3.3h-3.3zM626.1 130.2h3.3v3.3h-3.3zM626.2 108.1h3.3v3.3h-3.3zM626.9 127.4h3.3v3.3h-3.3zM627.4 130.2h3.3v3.3h-3.3zM627.5 127.4h3.3v3.3h-3.3zM627.8 127.4h3.3v3.3h-3.3zM627.9 127.4h3.3v3.3h-3.3zM628.0 130.2h3.3v3.3h-3.3zM628.5 127.4h3.3v3.3h-3.3zM628.7 127.4h3.3v3.3h-3.3zM628.8 153.9h3.3v3.3h-3.3zM628.9 130.2h3.3v3.3h-3.3zM629.1 112.3h3.3v3.3h-3.3zM629.4 113.3h3.3v3.3h-3.3zM629.5 113.3h3.3v3.3h-3.3zM630.3 138.0h3.3v3.3h-3.3zM630.4 138.0h3.3v3.3h-3.3zM631.4 138.0h3.3v3.3h-3.3zM631.7 130.2h3.3v3.3h-3.3zM632.7 130.2h3.3v3.3h-3.3zM633.4 127.4h3.3v3.3h-3.3zM634.0 127.4h3.3v3.3h-3.3zM634.2 113.3h3.3v3.3h-3.3zM634.3 127.4h3.3v3.3h-3.3zM634.5 130.2h3.3v3.3h-3.3zM634.6 144.0h3.3v3.3h-3.3zM634.8 127.4h3.3v3.3h-3.3zM634.9 113.3h3.3v3.3h-3.3zM635.0 115.5h3.3v3.3h-3.3zM635.1 138.0h3.3v3.3h-3.3zM635.3 127.4h3.3v3.3h-3.3zM635.4 133.6h3.3v3.3h-3.3zM635.4 138.0h3.3v3.3h-3.3zM635.6 127.4h3.3v3.3h-3.3zM635.7 115.5h3.3v3.3h-3.3zM635.8 130.2h3.3v3.3h-3.3zM636.3 114.4h3.3v3.3h-3.3zM636.4 115.5h3.3v3.3h-3.3zM636.6 115.5h3.3v3.3h-3.3zM637.2 127.4h3.3v3.3h-3.3zM637.5 133.6h3.3v3.3h-3.3zM637.6 127.4h3.3v3.3h-3.3zM637.9 153.9h3.3v3.3h-3.3zM638.3 130.2h3.3v3.3h-3.3zM638.4 115.5h3.3v3.3h-3.3zM638.6 133.6h3.3v3.3h-3.3zM638.9 127.4h3.3v3.3h-3.3zM639.0 127.4h3.3v3.3h-3.3zM639.1 130.2h3.3v3.3h-3.3zM639.2 133.6h3.3v3.3h-3.3zM639.3 115.5h3.3v3.3h-3.3zM639.4 116.8h3.3v3.3h-3.3zM639.6 133.6h3.3v3.3h-3.3zM639.6 115.5h3.3v3.3h-3.3zM639.9 133.6h3.3v3.3h-3.3zM640.1 130.2h3.3v3.3h-3.3zM640.5 127.4h3.3v3.3h-3.3zM640.6 127.4h3.3v3.3h-3.3zM640.6 133.6h3.3v3.3h-3.3zM640.8 133.6h3.3v3.3h-3.3zM641.0 130.2h3.3v3.3h-3.3zM641.1 127.4h3.3v3.3h-3.3zM641.4 130.2h3.3v3.3h-3.3zM641.4 130.2h3.3v3.3h-3.3zM641.6 133.6h3.3v3.3h-3.3zM641.6 114.4h3.3v3.3h-3.3zM641.7 130.2h3.3v3.3h-3.3zM641.8 130.2h3.3v3.3h-3.3zM641.9 127.4h3.3v3.3h-3.3zM642.0 130.2h3.3v3.3h-3.3zM642.1 127.4h3.3v3.3h-3.3zM642.1 130.2h3.3v3.3h-3.3zM642.2 130.2h3.3v3.3h-3.3zM642.3 127.4h3.3v3.3h-3.3zM642.4 127.4h3.3v3.3h-3.3zM642.4 127.4h3.3v3.3h-3.3zM642.5 130.2h3.3v3.3h-3.3zM642.6 116.8h3.3v3.3h-3.3zM642.7 133.6h3.3v3.3h-3.3zM642.8 138.0h3.3v3.3h-3.3zM642.9 138.0h3.3v3.3h-3.3zM643.0 130.2h3.3v3.3h-3.3zM643.1 116.8h3.3v3.3h-3.3zM643.2 116.8h3.3v3.3h-3.3zM643.3 130.2h3.3v3.3h-3.3zM643.6 130.2h3.3v3.3h-3.3zM643.7 130.2h3.3v3.3h-3.3zM643.8 130.2h3.3v3.3h-3.3zM644.2 127.4h3.3v3.3h-3.3zM644.4 130.2h3.3v3.3h-3.3zM644.4 138.0h3.3v3.3h-3.3zM644.6 127.4h3.3v3.3h-3.3zM644.6 133.6h3.3v3.3h-3.3zM644.7 130.2h3.3v3.3h-3.3zM644.8 138.0h3.3v3.3h-3.3zM644.9 138.0h3.3v3.3h-3.3zM644.9 130.2h3.3v3.3h-3.3zM645.2 127.4h3.3v3.3h-3.3zM645.3 127.4h3.3v3.3h-3.3zM645.4 138.0h3.3v3.3h-3.3zM645.4 133.6h3.3v3.3h-3.3zM645.5 144.0h3.3v3.3h-3.3zM645.6 127.4h3.3v3.3h-3.3zM645.6 118.1h3.3v3.3h-3.3zM645.7 133.6h3.3v3.3h-3.3zM646.1 138.0h3.3v3.3h-3.3zM646.1 144.0h3.3v3.3h-3.3zM646.2 133.6h3.3v3.3h-3.3zM646.3 119.6h3.3v3.3h-3.3zM646.4 133.6h3.3v3.3h-3.3zM646.5 118.1h3.3v3.3h-3.3zM646.6 133.6h3.3v3.3h-3.3zM646.9 127.4h3.3v3.3h-3.3zM646.9 130.2h3.3v3.3h-3.3zM647.0 127.4h3.3v3.3h-3.3zM647.1 133.6h3.3v3.3h-3.3zM647.1 130.2h3.3v3.3h-3.3zM647.2 138.0h3.3v3.3h-3.3zM647.3 133.6h3.3v3.3h-3.3zM647.4 133.6h3.3v3.3h-3.3zM647.5 133.6h3.3v3.3h-3.3zM647.6 138.0h3.3v3.3h-3.3zM647.7 130.2h3.3v3.3h-3.3zM647.8 138.0h3.3v3.3h-3.3zM647.9 130.2h3.3v3.3h-3.3zM647.9 130.2h3.3v3.3h-3.3zM648.0 138.0h3.3v3.3h-3.3zM648.1 127.4h3.3v3.3h-3.3zM648.1 153.9h3.3v3.3h-3.3zM648.2 133.6h3.3v3.3h-3.3zM648.3 115.5h3.3v3.3h-3.3zM648.4 119.6h3.3v3.3h-3.3zM648.5 144.0h3.3v3.3h-3.3zM648.6 130.2h3.3v3.3h-3.3zM648.9 153.9h3.3v3.3h-3.3zM649.0 133.6h3.3v3.3h-3.3zM649.1 133.6h3.3v3.3h-3.3zM649.1 144.0h3.3v3.3h-3.3zM649.2 127.4h3.3v3.3h-3.3zM649.3 127.4h3.3v3.3h-3.3zM649.4 127.4h3.3v3.3h-3.3zM649.4 130.2h3.3v3.3h-3.3zM649.5 130.2h3.3v3.3h-3.3zM649.7 127.4h3.3v3.3h-3.3zM649.9 121.2h3.3v3.3h-3.3zM650.0 127.4h3.3v3.3h-3.3zM650.1 138.0h3.3v3.3h-3.3zM650.1 121.2h3.3v3.3h-3.3zM650.2 127.4h3.3v3.3h-3.3zM650.4 127.4h3.3v3.3h-3.3zM650.4 127.4h3.3v3.3h-3.3zM650.6 130.2h3.3v3.3h-3.3zM650.7 130.2h3.3v3.3h-3.3zM650.9 127.4h3.3v3.3h-3.3zM650.9 127.4h3.3v3.3h-3.3zM651.0 127.4h3.3v3.3h-3.3zM651.1 133.6h3.3v3.3h-3.3zM651.1 133.6h3.3v3.3h-3.3zM651.3 121.2h3.3v3.3h-3.3zM651.4 127.4h3.3v3.3h-3.3zM651.4 138.0h3.3v3.3h-3.3zM651.5 130.2h3.3v3.3h-3.3zM651.6 118.1h3.3v3.3h-3.3zM651.6 133.6h3.3v3.3h-3.3zM651.7 133.6h3.3v3.3h-3.3zM651.8 121.2h3.3v3.3h-3.3zM651.9 130.2h3.3v3.3h-3.3zM651.9 130.2h3.3v3.3h-3.3zM652.0 127.4h3.3v3.3h-3.3zM652.1 127.4h3.3v3.3h-3.3zM652.1 138.0h3.3v3.3h-3.3zM652.2 144.0h3.3v3.3h-3.3zM652.3 130.2h3.3v3.3h-3.3zM652.4 130.2h3.3v3.3h-3.3zM652.5 127.4h3.3v3.3h-3.3zM652.6 127.4h3.3v3.3h-3.3zM652.7 138.0h3.3v3.3h-3.3zM652.8 133.6h3.3v3.3h-3.3zM652.9 127.4h3.3v3.3h-3.3zM652.9 133.6h3.3v3.3h-3.3zM653.0 127.4h3.3v3.3h-3.3zM653.1 138.0h3.3v3.3h-3.3zM653.1 130.2h3.3v3.3h-3.3zM653.2 133.6h3.3v3.3h-3.3zM653.3 144.0h3.3v3.3h-3.3zM653.4 121.2h3.3v3.3h-3.3zM653.4 127.4h3.3v3.3h-3.3zM653.5 133.6h3.3v3.3h-3.3zM653.6 127.4h3.3v3.3h-3.3zM653.6 144.0h3.3v3.3h-3.3zM653.7 130.2h3.3v3.3h-3.3zM653.8 130.2h3.3v3.3h-3.3zM653.9 144.0h3.3v3.3h-3.3zM653.9 153.9h3.3v3.3h-3.3zM654.0 127.4h3.3v3.3h-3.3zM654.1 130.2h3.3v3.3h-3.3zM654.2 127.4h3.3v3.3h-3.3zM654.3 130.2h3.3v3.3h-3.3zM654.4 127.4h3.3v3.3h-3.3zM654.4 144.0h3.3v3.3h-3.3zM654.5 130.2h3.3v3.3h-3.3zM654.6 133.6h3.3v3.3h-3.3zM654.6 127.4h3.3v3.3h-3.3zM654.7 138.0h3.3v3.3h-3.3zM654.8 144.0h3.3v3.3h-3.3zM654.9 121.2h3.3v3.3h-3.3zM654.9 153.9h3.3v3.3h-3.3zM655.0 127.4h3.3v3.3h-3.3zM655.1 123.0h3.3v3.3h-3.3zM655.1 138.0h3.3v3.3h-3.3zM655.2 118.1h3.3v3.3h-3.3zM655.3 133.6h3.3v3.3h-3.3zM655.4 123.0h3.3v3.3h-3.3zM655.4 123.0h3.3v3.3h-3.3zM655.5 144.0h3.3v3.3h-3.3zM655.6 144.0h3.3v3.3h-3.3zM655.6 130.2h3.3v3.3h-3.3zM655.7 133.6h3.3v3.3h-3.3zM655.8 127.4h3.3v3.3h-3.3zM655.9 133.6h3.3v3.3h-3.3zM655.9 130.2h3.3v3.3h-3.3zM656.0 144.0h3.3v3.3h-3.3zM656.1 123.0h3.3v3.3h-3.3zM656.1 127.4h3.3v3.3h-3.3zM656.2 144.0h3.3v3.3h-3.3zM656.3 130.2h3.3v3.3h-3.3zM656.4 144.0h3.3v3.3h-3.3zM656.4 133.6h3.3v3.3h-3.3zM656.5 130.2h3.3v3.3h-3.3zM656.6 127.4h3.3v3.3h-3.3zM656.6 130.2h3.3v3.3h-3.3zM656.7 133.6h3.3v3.3h-3.3zM656.8 130.2h3.3v3.3h-3.3zM656.9 130.2h3.3v3.3h-3.3zM656.9 130.2h3.3v3.3h-3.3zM657.0 133.6h3.3v3.3h-3.3zM657.1 121.2h3.3v3.3h-3.3zM657.1 144.0h3.3v3.3h-3.3zM657.2 133.6h3.3v3.3h-3.3zM657.3 138.0h3.3v3.3h-3.3zM657.4 127.4h3.3v3.3h-3.3zM657.4 144.0h3.3v3.3h-3.3zM657.5 153.9h3.3v3.3h-3.3zM657.6 123.0h3.3v3.3h-3.3zM657.6 153.9h3.3v3.3h-3.3zM657.7 133.6h3.3v3.3h-3.3zM657.8 144.0h3.3v3.3h-3.3zM657.9 144.0h3.3v3.3h-3.3zM657.9 133.6h3.3v3.3h-3.3zM658.0 138.0h3.3v3.3h-3.3zM658.1 133.6h3.3v3.3h-3.3zM658.1 130.2h3.3v3.3h-3.3zM658.2 133.6h3.3v3.3h-3.3zM658.3 138.0h3.3v3.3h-3.3zM658.4 138.0h3.3v3.3h-3.3zM658.4 127.4h3.3v3.3h-3.3zM658.6 133.6h3.3v3.3h-3.3zM658.6 130.2h3.3v3.3h-3.3zM658.7 138.0h3.3v3.3h-3.3zM658.8 127.4h3.3v3.3h-3.3zM658.9 127.4h3.3v3.3h-3.3zM658.9 127.4h3.3v3.3h-3.3zM659.0 138.0h3.3v3.3h-3.3zM659.1 138.0h3.3v3.3h-3.3zM659.2 133.6h3.3v3.3h-3.3zM659.3 130.2h3.3v3.3h-3.3zM659.4 127.4h3.3v3.3h-3.3zM659.4 130.2h3.3v3.3h-3.3zM659.5 130.2h3.3v3.3h-3.3zM659.6 138.0h3.3v3.3h-3.3zM659.7 138.0h3.3v3.3h-3.3zM659.8 127.4h3.3v3.3h-3.3zM659.9 133.6h3.3v3.3h-3.3zM659.9 144.0h3.3v3.3h-3.3zM660.0 144.0h3.3v3.3h-3.3zM660.1 138.0h3.3v3.3h-3.3zM660.1 153.9h3.3v3.3h-3.3zM660.2 130.2h3.3v3.3h-3.3zM660.3 153.9h3.3v3.3h-3.3zM660.4 153.9h3.3v3.3h-3.3zM660.5 127.4h3.3v3.3h-3.3zM660.6 133.6h3.3v3.3h-3.3zM660.6 153.9h3.3v3.3h-3.3zM660.9 153.9h3.3v3.3h-3.3zM660.9 127.4h3.3v3.3h-3.3zM661.0 133.6h3.3v3.3h-3.3zM661.1 133.6h3.3v3.3h-3.3zM661.1 130.2h3.3v3.3h-3.3zM661.2 144.0h3.3v3.3h-3.3zM661.3 133.6h3.3v3.3h-3.3zM661.4 133.6h3.3v3.3h-3.3zM661.4 127.4h3.3v3.3h-3.3zM661.5 127.4h3.3v3.3h-3.3zM661.6 133.6h3.3v3.3h-3.3zM661.6 127.4h3.3v3.3h-3.3zM661.7 138.0h3.3v3.3h-3.3zM661.8 144.0h3.3v3.3h-3.3zM661.9 144.0h3.3v3.3h-3.3zM661.9 133.6h3.3v3.3h-3.3zM662.0 144.0h3.3v3.3h-3.3zM662.1 133.6h3.3v3.3h-3.3zM662.1 125.1h3.3v3.3h-3.3zM662.2 138.0h3.3v3.3h-3.3zM662.3 123.0h3.3v3.3h-3.3zM662.4 153.9h3.3v3.3h-3.3zM662.4 130.2h3.3v3.3h-3.3zM662.5 127.4h3.3v3.3h-3.3zM662.6 138.0h3.3v3.3h-3.3zM662.6 133.6h3.3v3.3h-3.3zM662.7 138.0h3.3v3.3h-3.3zM662.8 144.0h3.3v3.3h-3.3zM662.9 130.2h3.3v3.3h-3.3zM662.9 130.2h3.3v3.3h-3.3zM663.0 130.2h3.3v3.3h-3.3zM663.1 138.0h3.3v3.3h-3.3zM663.1 133.6h3.3v3.3h-3.3zM663.2 127.4h3.3v3.3h-3.3zM663.3 130.2h3.3v3.3h-3.3zM663.4 125.1h3.3v3.3h-3.3zM663.4 144.0h3.3v3.3h-3.3zM663.5 133.6h3.3v3.3h-3.3zM663.6 125.1h3.3v3.3h-3.3zM663.6 153.9h3.3v3.3h-3.3zM663.7 125.1h3.3v3.3h-3.3zM663.8 153.9h3.3v3.3h-3.3zM663.9 144.0h3.3v3.3h-3.3zM663.9 133.6h3.3v3.3h-3.3zM664.0 138.0h3.3v3.3h-3.3zM664.1 133.6h3.3v3.3h-3.3zM664.1 144.0h3.3v3.3h-3.3zM664.2 130.2h3.3v3.3h-3.3zM664.3 144.0h3.3v3.3h-3.3zM664.4 130.2h3.3v3.3h-3.3zM664.4 138.0h3.3v3.3h-3.3zM664.5 138.0h3.3v3.3h-3.3zM664.6 133.6h3.3v3.3h-3.3zM664.6 130.2h3.3v3.3h-3.3zM664.7 121.2h3.3v3.3h-3.3zM664.8 138.0h3.3v3.3h-3.3zM664.9 127.4h3.3v3.3h-3.3zM664.9 130.2h3.3v3.3h-3.3zM665.0 138.0h3.3v3.3h-3.3zM665.1 138.0h3.3v3.3h-3.3zM665.1 144.0h3.3v3.3h-3.3zM665.2 127.4h3.3v3.3h-3.3zM665.3 133.6h3.3v3.3h-3.3zM665.4 127.4h3.3v3.3h-3.3zM665.4 138.0h3.3v3.3h-3.3zM665.5 133.6h3.3v3.3h-3.3zM665.6 144.0h3.3v3.3h-3.3zM665.6 123.0h3.3v3.3h-3.3zM665.7 133.6h3.3v3.3h-3.3zM665.8 144.0h3.3v3.3h-3.3zM665.9 144.0h3.3v3.3h-3.3zM665.9 127.4h3.3v3.3h-3.3zM666.1 133.6h3.3v3.3h-3.3zM666.1 144.0h3.3v3.3h-3.3zM666.2 138.0h3.3v3.3h-3.3zM666.3 144.0h3.3v3.3h-3.3zM666.4 138.0h3.3v3.3h-3.3zM666.4 144.0h3.3v3.3h-3.3zM666.5 127.4h3.3v3.3h-3.3zM666.6 138.0h3.3v3.3h-3.3zM666.6 144.0h3.3v3.3h-3.3zM666.7 153.9h3.3v3.3h-3.3zM666.8 133.6h3.3v3.3h-3.3zM666.9 130.2h3.3v3.3h-3.3zM666.9 127.4h3.3v3.3h-3.3zM667.0 144.0h3.3v3.3h-3.3zM667.1 138.0h3.3v3.3h-3.3zM667.1 138.0h3.3v3.3h-3.3zM667.2 138.0h3.3v3.3h-3.3zM667.3 144.0h3.3v3.3h-3.3zM667.4 130.2h3.3v3.3h-3.3zM667.5 125.1h3.3v3.3h-3.3zM667.6 144.0h3.3v3.3h-3.3zM667.6 127.4h3.3v3.3h-3.3zM667.7 125.1h3.3v3.3h-3.3zM667.8 127.4h3.3v3.3h-3.3zM667.9 133.6h3.3v3.3h-3.3zM667.9 133.6h3.3v3.3h-3.3zM668.0 133.6h3.3v3.3h-3.3zM668.1 127.4h3.3v3.3h-3.3zM668.1 144.0h3.3v3.3h-3.3zM668.2 138.0h3.3v3.3h-3.3zM668.3 138.0h3.3v3.3h-3.3zM668.4 130.2h3.3v3.3h-3.3zM668.4 133.6h3.3v3.3h-3.3zM668.5 144.0h3.3v3.3h-3.3zM668.6 144.0h3.3v3.3h-3.3zM668.6 127.4h3.3v3.3h-3.3zM668.7 138.0h3.3v3.3h-3.3zM668.8 144.0h3.3v3.3h-3.3zM668.9 153.9h3.3v3.3h-3.3zM668.9 144.0h3.3v3.3h-3.3zM669.0 127.4h3.3v3.3h-3.3zM669.1 130.2h3.3v3.3h-3.3zM669.1 130.2h3.3v3.3h-3.3zM669.2 153.9h3.3v3.3h-3.3zM669.3 133.6h3.3v3.3h-3.3zM669.4 133.6h3.3v3.3h-3.3zM669.4 127.4h3.3v3.3h-3.3zM669.5 127.4h3.3v3.3h-3.3zM669.6 138.0h3.3v3.3h-3.3zM669.6 125.1h3.3v3.3h-3.3zM669.7 133.6h3.3v3.3h-3.3zM669.8 153.9h3.3v3.3h-3.3zM669.9 133.6h3.3v3.3h-3.3zM669.9 144.0h3.3v3.3h-3.3zM670.0 138.0h3.3v3.3h-3.3zM670.1 133.6h3.3v3.3h-3.3zM670.1 144.0h3.3v3.3h-3.3zM670.2 144.0h3.3v3.3h-3.3zM670.3 144.0h3.3v3.3h-3.3zM670.4 123.0h3.3v3.3h-3.3zM670.4 119.6h3.3v3.3h-3.3zM670.5 144.0h3.3v3.3h-3.3zM670.6 123.0h3.3v3.3h-3.3zM670.6 144.0h3.3v3.3h-3.3zM670.7 138.0h3.3v3.3h-3.3zM670.8 130.2h3.3v3.3h-3.3zM670.9 125.1h3.3v3.3h-3.3zM670.9 130.2h3.3v3.3h-3.3zM671.0 144.0h3.3v3.3h-3.3zM671.1 153.9h3.3v3.3h-3.3zM671.2 125.1h3.3v3.3h-3.3zM671.3 133.6h3.3v3.3h-3.3zM671.4 144.0h3.3v3.3h-3.3zM671.4 133.6h3.3v3.3h-3.3zM671.5 127.4h3.3v3.3h-3.3zM671.6 130.2h3.3v3.3h-3.3zM671.6 130.2h3.3v3.3h-3.3zM671.7 138.0h3.3v3.3h-3.3zM671.8 138.0h3.3v3.3h-3.3zM671.9 133.6h3.3v3.3h-3.3zM671.9 138.0h3.3v3.3h-3.3zM672.0 133.6h3.3v3.3h-3.3zM672.1 153.9h3.3v3.3h-3.3zM672.1 144.0h3.3v3.3h-3.3zM672.2 153.9h3.3v3.3h-3.3zM672.3 138.0h3.3v3.3h-3.3zM672.4 130.2h3.3v3.3h-3.3zM672.4 153.9h3.3v3.3h-3.3zM672.5 144.0h3.3v3.3h-3.3zM672.6 130.2h3.3v3.3h-3.3zM672.6 144.0h3.3v3.3h-3.3zM672.7 153.9h3.3v3.3h-3.3zM672.8 138.0h3.3v3.3h-3.3zM672.9 153.9h3.3v3.3h-3.3zM672.9 153.9h3.3v3.3h-3.3zM673.0 127.4h3.3v3.3h-3.3zM673.1 138.0h3.3v3.3h-3.3zM673.1 138.0h3.3v3.3h-3.3zM673.2 144.0h3.3v3.3h-3.3z"/>
<path fill="#fc3c3c" d="M495.1 18.8h3.1v3.1h-3.1zM495.1 23.8h3.1v3.1h-3.1zM495.1 29.6h3.1v3.1h-3.1zM495.1 38.4h3.1v3.1h-3.1zM495.1 50.9h3.1v3.1h-3.1zM495.1 64.2h3.1v3.1h-3.1zM495.1 78.0h3.1v3.1h-3.1zM495.1 95.5h3.1v3.1h-3.1zM495.1 111.5h3.1v3.1h-3.1zM495.1 126.5h3.1v3.1h-3.1zM495.1 139.4h3.1v3.1h-3.1zM495.1 144.4h3.1v3.1h-3.1zM495.1 148.4h3.1v3.1h-3.1zM495.1 154.0h3.1v3.1h-3.1zM493.1 139.4h3.1v3.1h-3.1zM493.1 148.4h3.1v3.1h-3.1zM493.1 154.0h3.1v3.1h-3.1zM635.5 137.95H675v3.3H635.5zM644.0 143.95H675v3.3H644.0zM641.5 153.95H675v3.3H641.5zM632.8 143.95h3.3v3.3h-3.3zM638.6 143.95h3.3v3.3h-3.3zM622.4 133.65h3.3v3.3h-3.3zM627.4 133.65h3.3v3.3h-3.3z"/>
</g>
<clipPath id="cf"><rect x="493.55" y="197.2" width="181.54999999999998" height="146.40000000000003"/></clipPath>
<g clip-path="url(#cf)">
<polygon points="493.8,197 496.8,197 497.3,215 497.8,232 499.5,238 501.5,244 501.5,252 498.5,250 495.5,241 494.2,230 493.8,215" fill="#f04444"/>
<polygon points="497.6,231.8 498.1,233.1 498.6,234.4 499.1,235.6 499.6,236.9 500.1,238.1 500.6,239.4 501.1,241.0 501.6,242.8 502.1,244.0 502.6,244.8 503.1,245.6 503.6,246.4 504.1,247.2 504.6,248.0 505.1,249.0 505.6,249.8 506.1,250.5 506.6,251.1 507.1,251.7 507.6,252.3 508.1,252.9 508.6,253.6 509.1,254.2 509.6,254.9 510.1,255.7 510.6,256.3 511.1,256.7 511.6,257.2 512.1,257.7 512.6,258.1 513.1,258.6 513.6,259.1 514.1,259.5 514.6,260.0 515.1,260.5 515.6,260.9 516.1,261.4 516.6,261.8 517.1,262.3 517.6,262.8 518.1,263.2 518.6,263.7 519.1,264.1 519.6,264.6 520.1,265.2 520.6,265.6 521.1,266.0 521.6,266.4 522.1,266.7 522.6,267.1 523.1,267.5 523.6,267.9 524.1,268.2 524.6,268.6 525.1,269.0 525.6,269.3 526.1,269.7 526.6,270.1 527.1,270.4 527.6,270.8 528.1,271.2 528.6,271.5 529.1,271.9 529.6,272.3 530.1,272.8 530.6,273.1 531.1,273.3 531.6,273.6 532.1,273.8 532.6,274.0 533.1,274.2 533.6,274.4 534.1,274.7 534.6,274.9 535.1,275.1 535.6,275.3 536.1,275.5 536.6,275.7 537.1,276.0 537.6,276.2 538.1,276.4 538.6,276.6 539.1,276.8 539.6,277.1 540.1,277.3 540.6,277.5 541.1,277.7 541.6,277.9 542.1,278.1 542.6,278.3 543.1,278.5 543.6,278.7 544.1,278.9 544.6,279.1 545.1,279.3 545.6,279.5 546.1,279.7 546.6,279.9 547.1,280.0 547.6,280.2 548.1,280.4 548.6,280.6 549.1,280.8 549.6,281.0 550.1,281.2 550.6,281.4 551.1,281.6 551.6,281.7 552.1,281.8 552.6,282.0 553.1,282.1 553.6,282.3 554.1,282.4 554.6,282.6 555.1,282.7 555.6,282.9 556.1,283.0 556.6,283.1 557.1,283.3 557.6,283.4 558.1,283.6 558.6,283.7 559.1,283.9 559.6,284.0 560.1,284.2 560.6,284.3 561.1,284.5 561.6,284.6 562.1,284.8 562.6,284.9 563.1,285.1 563.6,285.2 564.1,285.4 564.6,285.5 565.1,285.7 565.6,285.8 566.1,286.0 566.6,286.1 567.1,286.3 567.6,286.4 568.1,286.6 568.6,286.7 569.1,286.9 569.6,287.1 570.1,287.2 570.6,287.4 571.1,287.5 571.6,287.6 572.1,287.7 572.6,287.9 573.1,288.0 573.6,288.1 574.1,288.2 574.6,288.4 575.1,288.5 575.6,288.6 576.1,288.7 576.6,288.9 577.1,289.0 577.6,289.1 578.1,289.2 578.6,289.4 579.1,289.5 579.6,289.6 580.1,289.7 580.6,289.9 581.1,290.0 581.6,290.1 582.1,290.2 582.6,290.4 583.1,290.5 583.6,290.6 584.1,290.7 584.6,290.9 585.1,291.0 585.6,291.1 586.1,291.2 586.6,291.4 587.1,291.5 587.6,291.6 588.1,291.7 588.6,291.9 589.1,292.0 589.6,292.1 590.1,292.2 590.6,292.4 591.1,292.5 591.6,292.7 592.1,292.8 592.6,293.0 593.1,293.1 593.6,293.3 594.1,293.5 594.6,293.6 595.1,293.8 595.6,293.9 596.1,294.1 596.6,294.2 597.1,294.4 597.6,294.6 598.1,294.7 598.6,294.9 599.1,295.0 599.6,295.2 600.1,295.3 600.6,295.5 601.1,295.6 601.6,295.8 602.1,295.9 602.6,296.0 603.1,296.2 603.6,296.3 604.1,296.5 604.6,296.6 605.1,296.7 605.6,296.9 606.1,297.0 606.6,297.2 607.1,297.3 607.6,297.4 608.1,297.6 608.6,297.7 609.1,297.9 609.6,298.0 610.1,298.1 610.6,298.3 611.1,298.4 611.6,298.6 612.1,298.7 612.6,298.8 613.1,299.0 613.6,299.1 614.1,299.3 614.6,299.4 615.1,299.5 615.6,299.7 616.1,299.8 616.6,299.9 617.1,300.0 617.6,300.2 618.1,300.3 618.6,300.4 619.1,300.5 619.6,300.6 620.1,300.8 620.6,300.9 621.1,301.0 621.6,301.1 622.1,301.2 622.6,301.4 623.1,301.5 623.6,301.6 624.1,301.7 624.6,301.8 625.1,302.0 625.6,302.1 626.1,302.2 626.6,302.3 627.1,302.5 627.6,302.6 628.1,302.7 628.6,302.8 629.1,302.9 629.6,303.1 630.1,303.2 630.6,303.3 631.1,303.4 631.6,303.5 632.1,303.7 632.6,303.8 633.1,303.9 633.6,304.0 634.1,304.1 634.6,304.3 635.1,304.4 635.6,304.5 636.1,304.6 636.6,304.7 637.1,304.8 637.6,304.9 638.1,305.0 638.6,305.1 639.1,305.1 639.6,305.2 640.1,305.3 640.6,305.4 641.1,305.5 641.6,305.6 642.1,305.7 642.6,305.8 643.1,305.9 643.6,306.0 644.1,306.1 644.6,306.2 645.1,306.3 645.6,306.4 646.1,306.4 646.6,306.5 647.1,306.6 647.6,306.7 648.1,306.8 648.6,306.9 649.1,307.0 649.6,307.1 650.1,307.2 650.6,307.3 651.1,307.4 651.6,307.5 652.1,307.6 652.6,307.7 653.1,307.8 653.6,307.8 654.1,307.9 654.6,308.0 655.1,308.1 655.6,308.2 656.1,308.2 656.6,308.3 657.1,308.3 657.6,308.4 658.1,308.4 658.6,308.5 659.1,308.5 659.6,308.6 660.1,308.6 660.6,308.7 661.1,308.7 661.6,308.7 662.1,308.8 662.6,308.8 663.1,308.9 663.6,308.9 664.1,309.0 664.6,309.0 665.1,309.1 665.6,309.1 666.1,309.2 666.6,309.2 667.1,309.3 667.6,309.3 668.1,309.4 668.6,309.4 669.1,309.4 669.6,309.5 670.1,309.5 670.6,309.6 671.1,309.6 671.6,309.7 672.1,309.7 672.6,309.8 673.1,309.8 673.6,309.9 674.1,309.9 674.6,310.0 675.1,310.0 675.1,328.4 674.6,328.4 674.1,328.4 673.6,328.4 673.1,328.4 672.6,328.4 672.1,328.4 671.6,328.4 671.1,328.4 670.6,328.4 670.1,328.4 669.6,328.4 669.1,328.4 668.6,328.4 668.1,328.4 667.6,328.4 667.1,328.4 666.6,328.4 666.1,328.4 665.6,328.4 665.1,328.4 664.6,328.4 664.1,328.4 663.6,328.4 663.1,328.4 662.6,328.4 662.1,328.4 661.6,328.4 661.1,328.4 660.6,328.4 660.1,328.4 659.6,328.4 659.1,328.4 658.6,328.4 658.1,328.4 657.6,328.4 657.1,328.4 656.6,328.4 656.1,328.4 655.6,328.4 655.1,328.4 654.6,328.5 654.1,328.5 653.6,328.5 653.1,328.5 652.6,328.5 652.1,328.5 651.6,328.5 651.1,328.5 650.6,328.5 650.1,328.5 649.6,328.5 649.1,328.5 648.6,328.5 648.1,328.5 647.6,328.5 647.1,328.5 646.6,328.5 646.1,328.5 645.6,328.5 645.1,328.5 644.6,328.5 644.1,328.5 643.6,328.5 643.1,328.5 642.6,328.5 642.1,328.5 641.6,328.5 641.1,328.4 640.6,328.2 640.1,328.1 639.6,328.0 639.1,327.8 638.6,327.7 638.1,327.6 637.6,327.5 637.1,327.3 636.6,327.2 636.1,327.1 635.6,326.9 635.1,326.8 634.6,326.7 634.1,326.5 633.6,326.3 633.1,326.2 632.6,326.0 632.1,325.8 631.6,325.7 631.1,325.5 630.6,325.3 630.1,325.2 629.6,325.0 629.1,324.8 628.6,324.6 628.1,324.5 627.6,324.3 627.1,324.1 626.6,324.0 626.1,323.8 625.6,323.6 625.1,323.5 624.6,323.3 624.1,323.1 623.6,323.0 623.1,322.8 622.6,322.6 622.1,322.4 621.6,322.3 621.1,322.1 620.6,321.9 620.1,321.8 619.6,321.6 619.1,321.4 618.6,321.3 618.1,321.1 617.6,320.9 617.1,320.8 616.6,320.6 616.1,320.4 615.6,320.2 615.1,320.1 614.6,319.9 614.1,319.7 613.6,319.5 613.1,319.3 612.6,319.1 612.1,318.9 611.6,318.7 611.1,318.5 610.6,318.3 610.1,318.2 609.6,318.0 609.1,317.8 608.6,317.6 608.1,317.4 607.6,317.2 607.1,317.0 606.6,316.8 606.1,316.6 605.6,316.4 605.1,316.2 604.6,316.0 604.1,315.8 603.6,315.6 603.1,315.4 602.6,315.2 602.1,315.0 601.6,314.8 601.1,314.7 600.6,314.5 600.1,314.3 599.6,314.1 599.1,313.9 598.6,313.6 598.1,313.4 597.6,313.2 597.1,313.0 596.6,312.8 596.1,312.6 595.6,312.4 595.1,312.1 594.6,311.9 594.1,311.7 593.6,311.5 593.1,311.3 592.6,311.1 592.1,310.9 591.6,310.6 591.1,310.4 590.6,310.2 590.1,310.0 589.6,309.8 589.1,309.6 588.6,309.4 588.1,309.3 587.6,309.1 587.1,308.9 586.6,308.8 586.1,308.6 585.6,308.4 585.1,308.3 584.6,308.1 584.1,307.9 583.6,307.8 583.1,307.6 582.6,307.4 582.1,307.2 581.6,307.1 581.1,306.9 580.6,306.7 580.1,306.6 579.6,306.4 579.1,306.2 578.6,306.1 578.1,305.9 577.6,305.7 577.1,305.6 576.6,305.4 576.1,305.2 575.6,305.1 575.1,304.9 574.6,304.7 574.1,304.6 573.6,304.4 573.1,304.2 572.6,304.0 572.1,303.9 571.6,303.7 571.1,303.5 570.6,303.4 570.1,303.2 569.6,303.0 569.1,302.8 568.6,302.6 568.1,302.4 567.6,302.2 567.1,302.0 566.6,301.8 566.1,301.6 565.6,301.4 565.1,301.2 564.6,301.0 564.1,300.8 563.6,300.6 563.1,300.4 562.6,300.2 562.1,300.0 561.6,299.8 561.1,299.6 560.6,299.4 560.1,299.2 559.6,299.0 559.1,298.8 558.6,298.6 558.1,298.5 557.6,298.3 557.1,298.1 556.6,297.9 556.1,297.7 555.6,297.5 555.1,297.3 554.6,297.1 554.1,297.0 553.6,296.8 553.1,296.6 552.6,296.4 552.1,296.2 551.6,296.0 551.1,295.8 550.6,295.7 550.1,295.5 549.6,295.3 549.1,295.0 548.6,294.8 548.1,294.5 547.6,294.3 547.1,294.0 546.6,293.8 546.1,293.6 545.6,293.3 545.1,293.1 544.6,292.8 544.1,292.6 543.6,292.3 543.1,292.1 542.6,291.8 542.1,291.6 541.6,291.3 541.1,291.1 540.6,290.8 540.1,290.6 539.6,290.3 539.1,290.1 538.6,289.8 538.1,289.5 537.6,289.3 537.1,289.0 536.6,288.7 536.1,288.4 535.6,288.2 535.1,287.9 534.6,287.6 534.1,287.3 533.6,287.1 533.1,286.8 532.6,286.5 532.1,286.3 531.6,286.0 531.1,285.7 530.6,285.4 530.1,285.3 529.6,285.0 529.1,284.6 528.6,284.1 528.1,283.7 527.6,283.2 527.1,282.8 526.6,282.3 526.1,281.9 525.6,281.5 525.1,281.0 524.6,280.6 524.1,280.1 523.6,279.7 523.1,279.2 522.6,278.8 522.1,278.3 521.6,277.9 521.1,277.4 520.6,277.0 520.1,276.6 519.6,276.2 519.1,275.7 518.6,275.2 518.1,274.6 517.6,274.1 517.1,273.5 516.6,273.0 516.1,272.4 515.6,271.9 515.1,271.4 514.6,270.8 514.1,270.3 513.6,269.7 513.1,269.2 512.6,268.7 512.1,268.1 511.6,267.6 511.1,267.1 510.6,266.5 510.1,266.2 509.6,265.7 509.1,265.0 508.6,264.3 508.1,263.6 507.6,262.9 507.1,262.2 506.6,261.5 506.1,260.8 505.6,260.1 505.1,259.6 504.6,259.0 504.1,258.1 503.6,257.2 503.1,256.3 502.6,255.5 502.1,254.6 501.6,254.1 501.1,253.7 500.6,252.6 500.1,251.2 499.6,249.8 499.1,248.4 498.6,247.1 498.1,245.7 497.6,244.3" fill="#f04444"/>
<path fill="#f04444" d="M496.1 241.1a1.7 1.7 0 1 0 3.4 0a1.7 1.7 0 1 0 -3.4 0M497.8 245.3a1.7 1.7 0 1 0 3.4 0a1.7 1.7 0 1 0 -3.4 0M499.4 244.9a1.7 1.7 0 1 0 3.4 0a1.7 1.7 0 1 0 -3.4 0M500.8 254.3a1.7 1.7 0 1 0 3.4 0a1.7 1.7 0 1 0 -3.4 0M501.0 254.0a1.7 1.7 0 1 0 3.4 0a1.7 1.7 0 1 0 -3.4 0M501.8 255.9a1.7 1.7 0 1 0 3.4 0a1.7 1.7 0 1 0 -3.4 0M502.7 256.6a1.7 1.7 0 1 0 3.4 0a1.7 1.7 0 1 0 -3.4 0M503.1 250.9a1.7 1.7 0 1 0 3.4 0a1.7 1.7 0 1 0 -3.4 0M503.6 257.2a1.7 1.7 0 1 0 3.4 0a1.7 1.7 0 1 0 -3.4 0M504.1 251.7a1.7 1.7 0 1 0 3.4 0a1.7 1.7 0 1 0 -3.4 0M504.4 259.2a1.7 1.7 0 1 0 3.4 0a1.7 1.7 0 1 0 -3.4 0M504.6 253.1a1.7 1.7 0 1 0 3.4 0a1.7 1.7 0 1 0 -3.4 0M505.1 260.0a1.7 1.7 0 1 0 3.4 0a1.7 1.7 0 1 0 -3.4 0M505.7 261.0a1.7 1.7 0 1 0 3.4 0a1.7 1.7 0 1 0 -3.4 0M505.8 253.7a1.7 1.7 0 1 0 3.4 0a1.7 1.7 0 1 0 -3.4 0M506.2 253.6a1.7 1.7 0 1 0 3.4 0a1.7 1.7 0 1 0 -3.4 0M507.1 262.7a1.7 1.7 0 1 0 3.4 0a1.7 1.7 0 1 0 -3.4 0M507.4 256.2a1.7 1.7 0 1 0 3.4 0a1.7 1.7 0 1 0 -3.4 0M508.4 257.9a1.7 1.7 0 1 0 3.4 0a1.7 1.7 0 1 0 -3.4 0M508.8 264.9a1.7 1.7 0 1 0 3.4 0a1.7 1.7 0 1 0 -3.4 0M509.1 267.4a1.7 1.7 0 1 0 3.4 0a1.7 1.7 0 1 0 -3.4 0M509.2 258.4a1.7 1.7 0 1 0 3.4 0a1.7 1.7 0 1 0 -3.4 0M509.3 265.9a1.7 1.7 0 1 0 3.4 0a1.7 1.7 0 1 0 -3.4 0M510.2 258.5a1.7 1.7 0 1 0 3.4 0a1.7 1.7 0 1 0 -3.4 0M510.6 259.9a1.7 1.7 0 1 0 3.4 0a1.7 1.7 0 1 0 -3.4 0M511.1 259.7a1.7 1.7 0 1 0 3.4 0a1.7 1.7 0 1 0 -3.4 0M511.6 260.9a1.7 1.7 0 1 0 3.4 0a1.7 1.7 0 1 0 -3.4 0M512.4 260.0a1.7 1.7 0 1 0 3.4 0a1.7 1.7 0 1 0 -3.4 0M512.7 269.7a1.7 1.7 0 1 0 3.4 0a1.7 1.7 0 1 0 -3.4 0M512.8 268.6a1.7 1.7 0 1 0 3.4 0a1.7 1.7 0 1 0 -3.4 0M513.4 261.5a1.7 1.7 0 1 0 3.4 0a1.7 1.7 0 1 0 -3.4 0M514.6 263.3a1.7 1.7 0 1 0 3.4 0a1.7 1.7 0 1 0 -3.4 0M516.2 273.8a1.7 1.7 0 1 0 3.4 0a1.7 1.7 0 1 0 -3.4 0M516.5 264.8a1.7 1.7 0 1 0 3.4 0a1.7 1.7 0 1 0 -3.4 0M516.6 272.9a1.7 1.7 0 1 0 3.4 0a1.7 1.7 0 1 0 -3.4 0M518.1 275.2a1.7 1.7 0 1 0 3.4 0a1.7 1.7 0 1 0 -3.4 0M518.7 277.7a1.7 1.7 0 1 0 3.4 0a1.7 1.7 0 1 0 -3.4 0M520.1 280.1a1.7 1.7 0 1 0 3.4 0a1.7 1.7 0 1 0 -3.4 0M520.2 276.6a1.7 1.7 0 1 0 3.4 0a1.7 1.7 0 1 0 -3.4 0M521.8 267.9a1.7 1.7 0 1 0 3.4 0a1.7 1.7 0 1 0 -3.4 0M522.0 281.0a1.7 1.7 0 1 0 3.4 0a1.7 1.7 0 1 0 -3.4 0M522.3 278.2a1.7 1.7 0 1 0 3.4 0a1.7 1.7 0 1 0 -3.4 0M522.6 280.4a1.7 1.7 0 1 0 3.4 0a1.7 1.7 0 1 0 -3.4 0M523.2 268.8a1.7 1.7 0 1 0 3.4 0a1.7 1.7 0 1 0 -3.4 0M523.4 270.5a1.7 1.7 0 1 0 3.4 0a1.7 1.7 0 1 0 -3.4 0M523.9 271.1a1.7 1.7 0 1 0 3.4 0a1.7 1.7 0 1 0 -3.4 0M524.1 280.4a1.7 1.7 0 1 0 3.4 0a1.7 1.7 0 1 0 -3.4 0M524.6 266.2a1.7 1.7 0 1 0 3.4 0a1.7 1.7 0 1 0 -3.4 0M524.7 271.8a1.7 1.7 0 1 0 3.4 0a1.7 1.7 0 1 0 -3.4 0M525.1 271.8a1.7 1.7 0 1 0 3.4 0a1.7 1.7 0 1 0 -3.4 0M525.1 271.6a1.7 1.7 0 1 0 3.4 0a1.7 1.7 0 1 0 -3.4 0M525.5 283.5a1.7 1.7 0 1 0 3.4 0a1.7 1.7 0 1 0 -3.4 0M525.9 271.8a1.7 1.7 0 1 0 3.4 0a1.7 1.7 0 1 0 -3.4 0M526.0 283.5a1.7 1.7 0 1 0 3.4 0a1.7 1.7 0 1 0 -3.4 0M526.9 273.1a1.7 1.7 0 1 0 3.4 0a1.7 1.7 0 1 0 -3.4 0M527.1 282.4a1.7 1.7 0 1 0 3.4 0a1.7 1.7 0 1 0 -3.4 0M527.1 273.1a1.7 1.7 0 1 0 3.4 0a1.7 1.7 0 1 0 -3.4 0M527.5 273.3a1.7 1.7 0 1 0 3.4 0a1.7 1.7 0 1 0 -3.4 0M528.1 274.0a1.7 1.7 0 1 0 3.4 0a1.7 1.7 0 1 0 -3.4 0M529.4 274.5a1.7 1.7 0 1 0 3.4 0a1.7 1.7 0 1 0 -3.4 0M530.1 286.8a1.7 1.7 0 1 0 3.4 0a1.7 1.7 0 1 0 -3.4 0M531.0 287.7a1.7 1.7 0 1 0 3.4 0a1.7 1.7 0 1 0 -3.4 0M531.5 286.3a1.7 1.7 0 1 0 3.4 0a1.7 1.7 0 1 0 -3.4 0M532.0 276.0a1.7 1.7 0 1 0 3.4 0a1.7 1.7 0 1 0 -3.4 0M532.2 275.8a1.7 1.7 0 1 0 3.4 0a1.7 1.7 0 1 0 -3.4 0M532.6 275.8a1.7 1.7 0 1 0 3.4 0a1.7 1.7 0 1 0 -3.4 0M532.8 275.5a1.7 1.7 0 1 0 3.4 0a1.7 1.7 0 1 0 -3.4 0M534.3 288.6a1.7 1.7 0 1 0 3.4 0a1.7 1.7 0 1 0 -3.4 0M535.4 287.7a1.7 1.7 0 1 0 3.4 0a1.7 1.7 0 1 0 -3.4 0M535.9 289.1a1.7 1.7 0 1 0 3.4 0a1.7 1.7 0 1 0 -3.4 0M536.0 275.8a1.7 1.7 0 1 0 3.4 0a1.7 1.7 0 1 0 -3.4 0M536.7 276.3a1.7 1.7 0 1 0 3.4 0a1.7 1.7 0 1 0 -3.4 0M537.1 276.3a1.7 1.7 0 1 0 3.4 0a1.7 1.7 0 1 0 -3.4 0M537.3 277.9a1.7 1.7 0 1 0 3.4 0a1.7 1.7 0 1 0 -3.4 0M537.6 278.2a1.7 1.7 0 1 0 3.4 0a1.7 1.7 0 1 0 -3.4 0M537.8 278.2a1.7 1.7 0 1 0 3.4 0a1.7 1.7 0 1 0 -3.4 0M537.9 277.9a1.7 1.7 0 1 0 3.4 0a1.7 1.7 0 1 0 -3.4 0M538.9 290.1a1.7 1.7 0 1 0 3.4 0a1.7 1.7 0 1 0 -3.4 0M539.2 277.9a1.7 1.7 0 1 0 3.4 0a1.7 1.7 0 1 0 -3.4 0M540.3 278.8a1.7 1.7 0 1 0 3.4 0a1.7 1.7 0 1 0 -3.4 0M540.7 279.1a1.7 1.7 0 1 0 3.4 0a1.7 1.7 0 1 0 -3.4 0M540.9 292.3a1.7 1.7 0 1 0 3.4 0a1.7 1.7 0 1 0 -3.4 0M541.4 275.5a1.7 1.7 0 1 0 3.4 0a1.7 1.7 0 1 0 -3.4 0M544.7 280.4a1.7 1.7 0 1 0 3.4 0a1.7 1.7 0 1 0 -3.4 0M546.0 279.7a1.7 1.7 0 1 0 3.4 0a1.7 1.7 0 1 0 -3.4 0M546.3 280.4a1.7 1.7 0 1 0 3.4 0a1.7 1.7 0 1 0 -3.4 0M547.3 282.1a1.7 1.7 0 1 0 3.4 0a1.7 1.7 0 1 0 -3.4 0M547.4 282.1a1.7 1.7 0 1 0 3.4 0a1.7 1.7 0 1 0 -3.4 0M547.6 280.4a1.7 1.7 0 1 0 3.4 0a1.7 1.7 0 1 0 -3.4 0M547.7 296.7a1.7 1.7 0 1 0 3.4 0a1.7 1.7 0 1 0 -3.4 0M548.1 281.0a1.7 1.7 0 1 0 3.4 0a1.7 1.7 0 1 0 -3.4 0M549.1 298.9a1.7 1.7 0 1 0 3.4 0a1.7 1.7 0 1 0 -3.4 0M549.8 282.1a1.7 1.7 0 1 0 3.4 0a1.7 1.7 0 1 0 -3.4 0M550.8 295.3a1.7 1.7 0 1 0 3.4 0a1.7 1.7 0 1 0 -3.4 0M551.1 283.5a1.7 1.7 0 1 0 3.4 0a1.7 1.7 0 1 0 -3.4 0M551.3 296.0a1.7 1.7 0 1 0 3.4 0a1.7 1.7 0 1 0 -3.4 0M552.6 282.1a1.7 1.7 0 1 0 3.4 0a1.7 1.7 0 1 0 -3.4 0M555.1 301.5a1.7 1.7 0 1 0 3.4 0a1.7 1.7 0 1 0 -3.4 0M555.4 298.9a1.7 1.7 0 1 0 3.4 0a1.7 1.7 0 1 0 -3.4 0M555.5 283.5a1.7 1.7 0 1 0 3.4 0a1.7 1.7 0 1 0 -3.4 0M555.8 297.4a1.7 1.7 0 1 0 3.4 0a1.7 1.7 0 1 0 -3.4 0M556.2 284.7a1.7 1.7 0 1 0 3.4 0a1.7 1.7 0 1 0 -3.4 0M556.3 297.4a1.7 1.7 0 1 0 3.4 0a1.7 1.7 0 1 0 -3.4 0M556.9 283.1a1.7 1.7 0 1 0 3.4 0a1.7 1.7 0 1 0 -3.4 0M557.2 285.1a1.7 1.7 0 1 0 3.4 0a1.7 1.7 0 1 0 -3.4 0M557.6 302.4a1.7 1.7 0 1 0 3.4 0a1.7 1.7 0 1 0 -3.4 0M558.2 298.9a1.7 1.7 0 1 0 3.4 0a1.7 1.7 0 1 0 -3.4 0M559.6 299.7a1.7 1.7 0 1 0 3.4 0a1.7 1.7 0 1 0 -3.4 0M560.4 285.9a1.7 1.7 0 1 0 3.4 0a1.7 1.7 0 1 0 -3.4 0M560.6 284.7a1.7 1.7 0 1 0 3.4 0a1.7 1.7 0 1 0 -3.4 0M561.7 313.1a1.7 1.7 0 1 0 3.4 0a1.7 1.7 0 1 0 -3.4 0M562.6 286.3a1.7 1.7 0 1 0 3.4 0a1.7 1.7 0 1 0 -3.4 0M562.9 286.3a1.7 1.7 0 1 0 3.4 0a1.7 1.7 0 1 0 -3.4 0M563.7 300.6a1.7 1.7 0 1 0 3.4 0a1.7 1.7 0 1 0 -3.4 0M564.1 301.5a1.7 1.7 0 1 0 3.4 0a1.7 1.7 0 1 0 -3.4 0M564.6 304.3a1.7 1.7 0 1 0 3.4 0a1.7 1.7 0 1 0 -3.4 0M565.1 285.5a1.7 1.7 0 1 0 3.4 0a1.7 1.7 0 1 0 -3.4 0M566.1 306.5a1.7 1.7 0 1 0 3.4 0a1.7 1.7 0 1 0 -3.4 0M566.7 301.5a1.7 1.7 0 1 0 3.4 0a1.7 1.7 0 1 0 -3.4 0M567.8 306.5a1.7 1.7 0 1 0 3.4 0a1.7 1.7 0 1 0 -3.4 0M568.3 288.1a1.7 1.7 0 1 0 3.4 0a1.7 1.7 0 1 0 -3.4 0M568.4 304.3a1.7 1.7 0 1 0 3.4 0a1.7 1.7 0 1 0 -3.4 0M568.7 288.1a1.7 1.7 0 1 0 3.4 0a1.7 1.7 0 1 0 -3.4 0M570.6 288.6a1.7 1.7 0 1 0 3.4 0a1.7 1.7 0 1 0 -3.4 0M571.9 289.1a1.7 1.7 0 1 0 3.4 0a1.7 1.7 0 1 0 -3.4 0M572.2 308.9a1.7 1.7 0 1 0 3.4 0a1.7 1.7 0 1 0 -3.4 0M573.1 289.6a1.7 1.7 0 1 0 3.4 0a1.7 1.7 0 1 0 -3.4 0M573.3 286.3a1.7 1.7 0 1 0 3.4 0a1.7 1.7 0 1 0 -3.4 0M573.8 306.5a1.7 1.7 0 1 0 3.4 0a1.7 1.7 0 1 0 -3.4 0M574.0 305.4a1.7 1.7 0 1 0 3.4 0a1.7 1.7 0 1 0 -3.4 0M575.8 304.3a1.7 1.7 0 1 0 3.4 0a1.7 1.7 0 1 0 -3.4 0M576.0 289.1a1.7 1.7 0 1 0 3.4 0a1.7 1.7 0 1 0 -3.4 0M576.1 289.6a1.7 1.7 0 1 0 3.4 0a1.7 1.7 0 1 0 -3.4 0M576.7 306.5a1.7 1.7 0 1 0 3.4 0a1.7 1.7 0 1 0 -3.4 0M578.0 289.6a1.7 1.7 0 1 0 3.4 0a1.7 1.7 0 1 0 -3.4 0M578.1 305.4a1.7 1.7 0 1 0 3.4 0a1.7 1.7 0 1 0 -3.4 0M578.1 289.6a1.7 1.7 0 1 0 3.4 0a1.7 1.7 0 1 0 -3.4 0M578.6 289.6a1.7 1.7 0 1 0 3.4 0a1.7 1.7 0 1 0 -3.4 0M578.7 311.6a1.7 1.7 0 1 0 3.4 0a1.7 1.7 0 1 0 -3.4 0M579.0 310.2a1.7 1.7 0 1 0 3.4 0a1.7 1.7 0 1 0 -3.4 0M579.2 290.1a1.7 1.7 0 1 0 3.4 0a1.7 1.7 0 1 0 -3.4 0M579.6 291.1a1.7 1.7 0 1 0 3.4 0a1.7 1.7 0 1 0 -3.4 0M580.5 310.2a1.7 1.7 0 1 0 3.4 0a1.7 1.7 0 1 0 -3.4 0M582.3 291.1a1.7 1.7 0 1 0 3.4 0a1.7 1.7 0 1 0 -3.4 0M582.5 307.6a1.7 1.7 0 1 0 3.4 0a1.7 1.7 0 1 0 -3.4 0M582.9 310.2a1.7 1.7 0 1 0 3.4 0a1.7 1.7 0 1 0 -3.4 0M583.1 308.9a1.7 1.7 0 1 0 3.4 0a1.7 1.7 0 1 0 -3.4 0M585.3 307.6a1.7 1.7 0 1 0 3.4 0a1.7 1.7 0 1 0 -3.4 0M585.4 307.6a1.7 1.7 0 1 0 3.4 0a1.7 1.7 0 1 0 -3.4 0M586.0 308.9a1.7 1.7 0 1 0 3.4 0a1.7 1.7 0 1 0 -3.4 0M586.1 292.8a1.7 1.7 0 1 0 3.4 0a1.7 1.7 0 1 0 -3.4 0M586.1 289.6a1.7 1.7 0 1 0 3.4 0a1.7 1.7 0 1 0 -3.4 0M586.2 310.2a1.7 1.7 0 1 0 3.4 0a1.7 1.7 0 1 0 -3.4 0M586.5 290.1a1.7 1.7 0 1 0 3.4 0a1.7 1.7 0 1 0 -3.4 0M587.6 292.8a1.7 1.7 0 1 0 3.4 0a1.7 1.7 0 1 0 -3.4 0M587.6 308.9a1.7 1.7 0 1 0 3.4 0a1.7 1.7 0 1 0 -3.4 0M587.9 293.4a1.7 1.7 0 1 0 3.4 0a1.7 1.7 0 1 0 -3.4 0M588.0 293.4a1.7 1.7 0 1 0 3.4 0a1.7 1.7 0 1 0 -3.4 0M588.3 290.1a1.7 1.7 0 1 0 3.4 0a1.7 1.7 0 1 0 -3.4 0M588.4 293.4a1.7 1.7 0 1 0 3.4 0a1.7 1.7 0 1 0 -3.4 0M589.0 289.6a1.7 1.7 0 1 0 3.4 0a1.7 1.7 0 1 0 -3.4 0M589.1 292.3a1.7 1.7 0 1 0 3.4 0a1.7 1.7 0 1 0 -3.4 0M590.3 322.9a1.7 1.7 0 1 0 3.4 0a1.7 1.7 0 1 0 -3.4 0M590.4 314.7a1.7 1.7 0 1 0 3.4 0a1.7 1.7 0 1 0 -3.4 0M590.6 288.1a1.7 1.7 0 1 0 3.4 0a1.7 1.7 0 1 0 -3.4 0M591.1 294.0a1.7 1.7 0 1 0 3.4 0a1.7 1.7 0 1 0 -3.4 0M591.6 289.1a1.7 1.7 0 1 0 3.4 0a1.7 1.7 0 1 0 -3.4 0M592.0 292.3a1.7 1.7 0 1 0 3.4 0a1.7 1.7 0 1 0 -3.4 0M592.6 293.4a1.7 1.7 0 1 0 3.4 0a1.7 1.7 0 1 0 -3.4 0M592.7 292.8a1.7 1.7 0 1 0 3.4 0a1.7 1.7 0 1 0 -3.4 0M593.7 322.9a1.7 1.7 0 1 0 3.4 0a1.7 1.7 0 1 0 -3.4 0M594.4 313.1a1.7 1.7 0 1 0 3.4 0a1.7 1.7 0 1 0 -3.4 0M594.7 294.0a1.7 1.7 0 1 0 3.4 0a1.7 1.7 0 1 0 -3.4 0M594.9 318.4a1.7 1.7 0 1 0 3.4 0a1.7 1.7 0 1 0 -3.4 0M595.0 294.7a1.7 1.7 0 1 0 3.4 0a1.7 1.7 0 1 0 -3.4 0M595.2 291.1a1.7 1.7 0 1 0 3.4 0a1.7 1.7 0 1 0 -3.4 0M595.7 294.0a1.7 1.7 0 1 0 3.4 0a1.7 1.7 0 1 0 -3.4 0M596.1 292.8a1.7 1.7 0 1 0 3.4 0a1.7 1.7 0 1 0 -3.4 0M596.6 314.7a1.7 1.7 0 1 0 3.4 0a1.7 1.7 0 1 0 -3.4 0M596.6 314.7a1.7 1.7 0 1 0 3.4 0a1.7 1.7 0 1 0 -3.4 0M596.9 294.0a1.7 1.7 0 1 0 3.4 0a1.7 1.7 0 1 0 -3.4 0M597.1 316.5a1.7 1.7 0 1 0 3.4 0a1.7 1.7 0 1 0 -3.4 0M597.9 296.0a1.7 1.7 0 1 0 3.4 0a1.7 1.7 0 1 0 -3.4 0M598.1 291.1a1.7 1.7 0 1 0 3.4 0a1.7 1.7 0 1 0 -3.4 0M598.4 295.3a1.7 1.7 0 1 0 3.4 0a1.7 1.7 0 1 0 -3.4 0M598.5 314.7a1.7 1.7 0 1 0 3.4 0a1.7 1.7 0 1 0 -3.4 0M599.2 320.5a1.7 1.7 0 1 0 3.4 0a1.7 1.7 0 1 0 -3.4 0M599.6 294.7a1.7 1.7 0 1 0 3.4 0a1.7 1.7 0 1 0 -3.4 0M599.6 316.5a1.7 1.7 0 1 0 3.4 0a1.7 1.7 0 1 0 -3.4 0M601.4 296.7a1.7 1.7 0 1 0 3.4 0a1.7 1.7 0 1 0 -3.4 0M601.9 320.5a1.7 1.7 0 1 0 3.4 0a1.7 1.7 0 1 0 -3.4 0M603.1 314.7a1.7 1.7 0 1 0 3.4 0a1.7 1.7 0 1 0 -3.4 0M603.2 314.7a1.7 1.7 0 1 0 3.4 0a1.7 1.7 0 1 0 -3.4 0M603.5 314.7a1.7 1.7 0 1 0 3.4 0a1.7 1.7 0 1 0 -3.4 0M603.6 298.2a1.7 1.7 0 1 0 3.4 0a1.7 1.7 0 1 0 -3.4 0M604.1 318.4a1.7 1.7 0 1 0 3.4 0a1.7 1.7 0 1 0 -3.4 0M604.4 296.7a1.7 1.7 0 1 0 3.4 0a1.7 1.7 0 1 0 -3.4 0M604.7 336.4a1.7 1.7 0 1 0 3.4 0a1.7 1.7 0 1 0 -3.4 0M605.9 316.5a1.7 1.7 0 1 0 3.4 0a1.7 1.7 0 1 0 -3.4 0M606.6 295.3a1.7 1.7 0 1 0 3.4 0a1.7 1.7 0 1 0 -3.4 0M606.9 316.5a1.7 1.7 0 1 0 3.4 0a1.7 1.7 0 1 0 -3.4 0M607.0 296.7a1.7 1.7 0 1 0 3.4 0a1.7 1.7 0 1 0 -3.4 0M607.5 316.5a1.7 1.7 0 1 0 3.4 0a1.7 1.7 0 1 0 -3.4 0M607.6 316.5a1.7 1.7 0 1 0 3.4 0a1.7 1.7 0 1 0 -3.4 0M608.4 320.5a1.7 1.7 0 1 0 3.4 0a1.7 1.7 0 1 0 -3.4 0M608.5 320.5a1.7 1.7 0 1 0 3.4 0a1.7 1.7 0 1 0 -3.4 0M609.3 298.2a1.7 1.7 0 1 0 3.4 0a1.7 1.7 0 1 0 -3.4 0M610.6 318.4a1.7 1.7 0 1 0 3.4 0a1.7 1.7 0 1 0 -3.4 0M611.1 299.7a1.7 1.7 0 1 0 3.4 0a1.7 1.7 0 1 0 -3.4 0M611.9 298.9a1.7 1.7 0 1 0 3.4 0a1.7 1.7 0 1 0 -3.4 0M612.4 300.6a1.7 1.7 0 1 0 3.4 0a1.7 1.7 0 1 0 -3.4 0M612.8 318.4a1.7 1.7 0 1 0 3.4 0a1.7 1.7 0 1 0 -3.4 0M613.2 300.6a1.7 1.7 0 1 0 3.4 0a1.7 1.7 0 1 0 -3.4 0M613.5 300.6a1.7 1.7 0 1 0 3.4 0a1.7 1.7 0 1 0 -3.4 0M614.2 298.9a1.7 1.7 0 1 0 3.4 0a1.7 1.7 0 1 0 -3.4 0M614.5 332.1a1.7 1.7 0 1 0 3.4 0a1.7 1.7 0 1 0 -3.4 0M615.0 300.6a1.7 1.7 0 1 0 3.4 0a1.7 1.7 0 1 0 -3.4 0M616.3 320.5a1.7 1.7 0 1 0 3.4 0a1.7 1.7 0 1 0 -3.4 0M617.1 320.5a1.7 1.7 0 1 0 3.4 0a1.7 1.7 0 1 0 -3.4 0M617.5 299.7a1.7 1.7 0 1 0 3.4 0a1.7 1.7 0 1 0 -3.4 0M617.6 320.5a1.7 1.7 0 1 0 3.4 0a1.7 1.7 0 1 0 -3.4 0M619.6 302.4a1.7 1.7 0 1 0 3.4 0a1.7 1.7 0 1 0 -3.4 0M619.7 298.2a1.7 1.7 0 1 0 3.4 0a1.7 1.7 0 1 0 -3.4 0M620.3 322.9a1.7 1.7 0 1 0 3.4 0a1.7 1.7 0 1 0 -3.4 0M620.5 300.6a1.7 1.7 0 1 0 3.4 0a1.7 1.7 0 1 0 -3.4 0M620.8 300.6a1.7 1.7 0 1 0 3.4 0a1.7 1.7 0 1 0 -3.4 0M621.6 302.4a1.7 1.7 0 1 0 3.4 0a1.7 1.7 0 1 0 -3.4 0M623.5 325.5a1.7 1.7 0 1 0 3.4 0a1.7 1.7 0 1 0 -3.4 0M623.6 322.9a1.7 1.7 0 1 0 3.4 0a1.7 1.7 0 1 0 -3.4 0M623.6 332.1a1.7 1.7 0 1 0 3.4 0a1.7 1.7 0 1 0 -3.4 0M623.8 303.3a1.7 1.7 0 1 0 3.4 0a1.7 1.7 0 1 0 -3.4 0M624.0 302.4a1.7 1.7 0 1 0 3.4 0a1.7 1.7 0 1 0 -3.4 0M624.1 300.6a1.7 1.7 0 1 0 3.4 0a1.7 1.7 0 1 0 -3.4 0M625.6 302.4a1.7 1.7 0 1 0 3.4 0a1.7 1.7 0 1 0 -3.4 0M626.6 298.9a1.7 1.7 0 1 0 3.4 0a1.7 1.7 0 1 0 -3.4 0M627.6 301.5a1.7 1.7 0 1 0 3.4 0a1.7 1.7 0 1 0 -3.4 0M629.9 341.9a1.7 1.7 0 1 0 3.4 0a1.7 1.7 0 1 0 -3.4 0M630.3 304.3a1.7 1.7 0 1 0 3.4 0a1.7 1.7 0 1 0 -3.4 0M630.6 328.6a1.7 1.7 0 1 0 3.4 0a1.7 1.7 0 1 0 -3.4 0M630.9 301.5a1.7 1.7 0 1 0 3.4 0a1.7 1.7 0 1 0 -3.4 0M631.9 328.6a1.7 1.7 0 1 0 3.4 0a1.7 1.7 0 1 0 -3.4 0M633.9 332.1a1.7 1.7 0 1 0 3.4 0a1.7 1.7 0 1 0 -3.4 0M634.4 305.4a1.7 1.7 0 1 0 3.4 0a1.7 1.7 0 1 0 -3.4 0M636.4 328.6a1.7 1.7 0 1 0 3.4 0a1.7 1.7 0 1 0 -3.4 0M636.6 305.4a1.7 1.7 0 1 0 3.4 0a1.7 1.7 0 1 0 -3.4 0M637.8 304.3a1.7 1.7 0 1 0 3.4 0a1.7 1.7 0 1 0 -3.4 0M638.0 304.3a1.7 1.7 0 1 0 3.4 0a1.7 1.7 0 1 0 -3.4 0M638.3 341.9a1.7 1.7 0 1 0 3.4 0a1.7 1.7 0 1 0 -3.4 0M638.4 306.5a1.7 1.7 0 1 0 3.4 0a1.7 1.7 0 1 0 -3.4 0M639.1 305.4a1.7 1.7 0 1 0 3.4 0a1.7 1.7 0 1 0 -3.4 0M640.1 332.1a1.7 1.7 0 1 0 3.4 0a1.7 1.7 0 1 0 -3.4 0M640.9 305.4a1.7 1.7 0 1 0 3.4 0a1.7 1.7 0 1 0 -3.4 0M641.8 328.6a1.7 1.7 0 1 0 3.4 0a1.7 1.7 0 1 0 -3.4 0M642.1 328.6a1.7 1.7 0 1 0 3.4 0a1.7 1.7 0 1 0 -3.4 0M643.1 328.6a1.7 1.7 0 1 0 3.4 0a1.7 1.7 0 1 0 -3.4 0M643.7 328.6a1.7 1.7 0 1 0 3.4 0a1.7 1.7 0 1 0 -3.4 0M643.8 307.6a1.7 1.7 0 1 0 3.4 0a1.7 1.7 0 1 0 -3.4 0M644.7 328.6a1.7 1.7 0 1 0 3.4 0a1.7 1.7 0 1 0 -3.4 0M644.8 332.1a1.7 1.7 0 1 0 3.4 0a1.7 1.7 0 1 0 -3.4 0M645.7 303.3a1.7 1.7 0 1 0 3.4 0a1.7 1.7 0 1 0 -3.4 0M646.1 336.4a1.7 1.7 0 1 0 3.4 0a1.7 1.7 0 1 0 -3.4 0M646.1 332.1a1.7 1.7 0 1 0 3.4 0a1.7 1.7 0 1 0 -3.4 0M646.4 306.5a1.7 1.7 0 1 0 3.4 0a1.7 1.7 0 1 0 -3.4 0M646.6 307.6a1.7 1.7 0 1 0 3.4 0a1.7 1.7 0 1 0 -3.4 0M647.7 332.1a1.7 1.7 0 1 0 3.4 0a1.7 1.7 0 1 0 -3.4 0M647.8 336.4a1.7 1.7 0 1 0 3.4 0a1.7 1.7 0 1 0 -3.4 0M648.0 328.6a1.7 1.7 0 1 0 3.4 0a1.7 1.7 0 1 0 -3.4 0M648.6 332.1a1.7 1.7 0 1 0 3.4 0a1.7 1.7 0 1 0 -3.4 0M649.2 307.6a1.7 1.7 0 1 0 3.4 0a1.7 1.7 0 1 0 -3.4 0M649.4 307.6a1.7 1.7 0 1 0 3.4 0a1.7 1.7 0 1 0 -3.4 0M649.5 307.6a1.7 1.7 0 1 0 3.4 0a1.7 1.7 0 1 0 -3.4 0M650.1 308.9a1.7 1.7 0 1 0 3.4 0a1.7 1.7 0 1 0 -3.4 0M650.9 306.5a1.7 1.7 0 1 0 3.4 0a1.7 1.7 0 1 0 -3.4 0M651.3 308.9a1.7 1.7 0 1 0 3.4 0a1.7 1.7 0 1 0 -3.4 0M651.6 336.4a1.7 1.7 0 1 0 3.4 0a1.7 1.7 0 1 0 -3.4 0M651.9 304.3a1.7 1.7 0 1 0 3.4 0a1.7 1.7 0 1 0 -3.4 0M652.0 328.6a1.7 1.7 0 1 0 3.4 0a1.7 1.7 0 1 0 -3.4 0M652.3 308.9a1.7 1.7 0 1 0 3.4 0a1.7 1.7 0 1 0 -3.4 0M652.6 328.6a1.7 1.7 0 1 0 3.4 0a1.7 1.7 0 1 0 -3.4 0M652.7 308.9a1.7 1.7 0 1 0 3.4 0a1.7 1.7 0 1 0 -3.4 0M653.0 308.9a1.7 1.7 0 1 0 3.4 0a1.7 1.7 0 1 0 -3.4 0M653.3 332.1a1.7 1.7 0 1 0 3.4 0a1.7 1.7 0 1 0 -3.4 0M653.5 308.9a1.7 1.7 0 1 0 3.4 0a1.7 1.7 0 1 0 -3.4 0M654.1 308.9a1.7 1.7 0 1 0 3.4 0a1.7 1.7 0 1 0 -3.4 0M654.4 328.6a1.7 1.7 0 1 0 3.4 0a1.7 1.7 0 1 0 -3.4 0M655.5 302.4a1.7 1.7 0 1 0 3.4 0a1.7 1.7 0 1 0 -3.4 0M655.6 332.1a1.7 1.7 0 1 0 3.4 0a1.7 1.7 0 1 0 -3.4 0M655.6 332.1a1.7 1.7 0 1 0 3.4 0a1.7 1.7 0 1 0 -3.4 0M656.1 328.6a1.7 1.7 0 1 0 3.4 0a1.7 1.7 0 1 0 -3.4 0M656.6 328.6a1.7 1.7 0 1 0 3.4 0a1.7 1.7 0 1 0 -3.4 0M656.8 328.6a1.7 1.7 0 1 0 3.4 0a1.7 1.7 0 1 0 -3.4 0M657.2 341.9a1.7 1.7 0 1 0 3.4 0a1.7 1.7 0 1 0 -3.4 0M657.3 328.6a1.7 1.7 0 1 0 3.4 0a1.7 1.7 0 1 0 -3.4 0M657.5 308.9a1.7 1.7 0 1 0 3.4 0a1.7 1.7 0 1 0 -3.4 0M657.8 308.9a1.7 1.7 0 1 0 3.4 0a1.7 1.7 0 1 0 -3.4 0M658.1 332.1a1.7 1.7 0 1 0 3.4 0a1.7 1.7 0 1 0 -3.4 0M658.6 332.1a1.7 1.7 0 1 0 3.4 0a1.7 1.7 0 1 0 -3.4 0M658.9 328.6a1.7 1.7 0 1 0 3.4 0a1.7 1.7 0 1 0 -3.4 0M659.0 336.4a1.7 1.7 0 1 0 3.4 0a1.7 1.7 0 1 0 -3.4 0M659.2 328.6a1.7 1.7 0 1 0 3.4 0a1.7 1.7 0 1 0 -3.4 0M659.6 332.1a1.7 1.7 0 1 0 3.4 0a1.7 1.7 0 1 0 -3.4 0M660.1 310.2a1.7 1.7 0 1 0 3.4 0a1.7 1.7 0 1 0 -3.4 0M660.5 310.2a1.7 1.7 0 1 0 3.4 0a1.7 1.7 0 1 0 -3.4 0M661.1 328.6a1.7 1.7 0 1 0 3.4 0a1.7 1.7 0 1 0 -3.4 0M661.5 310.2a1.7 1.7 0 1 0 3.4 0a1.7 1.7 0 1 0 -3.4 0M662.1 308.9a1.7 1.7 0 1 0 3.4 0a1.7 1.7 0 1 0 -3.4 0M662.6 332.1a1.7 1.7 0 1 0 3.4 0a1.7 1.7 0 1 0 -3.4 0M662.8 308.9a1.7 1.7 0 1 0 3.4 0a1.7 1.7 0 1 0 -3.4 0M663.0 332.1a1.7 1.7 0 1 0 3.4 0a1.7 1.7 0 1 0 -3.4 0M663.1 328.6a1.7 1.7 0 1 0 3.4 0a1.7 1.7 0 1 0 -3.4 0M664.0 328.6a1.7 1.7 0 1 0 3.4 0a1.7 1.7 0 1 0 -3.4 0M664.2 332.1a1.7 1.7 0 1 0 3.4 0a1.7 1.7 0 1 0 -3.4 0M664.8 305.4a1.7 1.7 0 1 0 3.4 0a1.7 1.7 0 1 0 -3.4 0M666.2 328.6a1.7 1.7 0 1 0 3.4 0a1.7 1.7 0 1 0 -3.4 0M666.4 310.2a1.7 1.7 0 1 0 3.4 0a1.7 1.7 0 1 0 -3.4 0M666.6 308.9a1.7 1.7 0 1 0 3.4 0a1.7 1.7 0 1 0 -3.4 0M666.7 328.6a1.7 1.7 0 1 0 3.4 0a1.7 1.7 0 1 0 -3.4 0M666.9 328.6a1.7 1.7 0 1 0 3.4 0a1.7 1.7 0 1 0 -3.4 0M667.5 328.6a1.7 1.7 0 1 0 3.4 0a1.7 1.7 0 1 0 -3.4 0M667.6 336.4a1.7 1.7 0 1 0 3.4 0a1.7 1.7 0 1 0 -3.4 0M668.1 307.6a1.7 1.7 0 1 0 3.4 0a1.7 1.7 0 1 0 -3.4 0M668.7 308.9a1.7 1.7 0 1 0 3.4 0a1.7 1.7 0 1 0 -3.4 0M669.0 336.4a1.7 1.7 0 1 0 3.4 0a1.7 1.7 0 1 0 -3.4 0M669.6 310.2a1.7 1.7 0 1 0 3.4 0a1.7 1.7 0 1 0 -3.4 0M669.6 328.6a1.7 1.7 0 1 0 3.4 0a1.7 1.7 0 1 0 -3.4 0M669.7 332.1a1.7 1.7 0 1 0 3.4 0a1.7 1.7 0 1 0 -3.4 0M669.9 308.9a1.7 1.7 0 1 0 3.4 0a1.7 1.7 0 1 0 -3.4 0M670.3 341.9a1.7 1.7 0 1 0 3.4 0a1.7 1.7 0 1 0 -3.4 0M670.4 328.6a1.7 1.7 0 1 0 3.4 0a1.7 1.7 0 1 0 -3.4 0M670.6 336.4a1.7 1.7 0 1 0 3.4 0a1.7 1.7 0 1 0 -3.4 0M670.7 332.1a1.7 1.7 0 1 0 3.4 0a1.7 1.7 0 1 0 -3.4 0M670.9 310.2a1.7 1.7 0 1 0 3.4 0a1.7 1.7 0 1 0 -3.4 0M671.1 332.1a1.7 1.7 0 1 0 3.4 0a1.7 1.7 0 1 0 -3.4 0M671.2 305.4a1.7 1.7 0 1 0 3.4 0a1.7 1.7 0 1 0 -3.4 0M671.6 328.6a1.7 1.7 0 1 0 3.4 0a1.7 1.7 0 1 0 -3.4 0M672.4 332.1a1.7 1.7 0 1 0 3.4 0a1.7 1.7 0 1 0 -3.4 0M672.5 328.6a1.7 1.7 0 1 0 3.4 0a1.7 1.7 0 1 0 -3.4 0M672.6 332.1a1.7 1.7 0 1 0 3.4 0a1.7 1.7 0 1 0 -3.4 0M673.1 328.6a1.7 1.7 0 1 0 3.4 0a1.7 1.7 0 1 0 -3.4 0"/>
<path fill="#f04444" d="M493.5 300.0a1.3 1.3 0 1 0 2.6 0a1.3 1.3 0 1 0 -2.6 0M493.5 305.0a1.3 1.3 0 1 0 2.6 0a1.3 1.3 0 1 0 -2.6 0M493.5 310.0a1.3 1.3 0 1 0 2.6 0a1.3 1.3 0 1 0 -2.6 0M493.5 316.0a1.3 1.3 0 1 0 2.6 0a1.3 1.3 0 1 0 -2.6 0M493.5 322.0a1.3 1.3 0 1 0 2.6 0a1.3 1.3 0 1 0 -2.6 0M493.5 328.0a1.3 1.3 0 1 0 2.6 0a1.3 1.3 0 1 0 -2.6 0M493.5 334.0a1.3 1.3 0 1 0 2.6 0a1.3 1.3 0 1 0 -2.6 0M493.5 340.0a1.3 1.3 0 1 0 2.6 0a1.3 1.3 0 1 0 -2.6 0M650.2 330.40H675v3.4H650.2zM649.6 334.70H675v3.4H649.6z"/>
</g>
<rect x="28.9" y="11.3" width="181.1" height="145" fill="none" stroke="#767c7c" stroke-width="1.7"/>
<rect x="252.95" y="11" width="181.25" height="145.3" fill="none" stroke="#767c7c" stroke-width="1.7"/>
<rect x="28.8" y="197.3" width="181.1" height="145.2" fill="none" stroke="#767c7c" stroke-width="1.7"/>
<rect x="252.95" y="197.2" width="181.35" height="145.3" fill="none" stroke="#767c7c" stroke-width="1.7"/>
<rect x="493.5" y="11" width="181" height="145.4" fill="none" stroke="#2a2a2a" stroke-width="1.2"/>
<rect x="493.55" y="197.2" width="180.95" height="145.4" fill="none" stroke="#2a2a2a" stroke-width="1.2"/>
<line x1="28.9" y1="156.3" x2="28.9" y2="159.6" stroke="#333" stroke-width="1"/>
<line x1="54.77" y1="156.3" x2="54.77" y2="159.6" stroke="#333" stroke-width="1"/>
<line x1="80.64" y1="156.3" x2="80.64" y2="159.6" stroke="#333" stroke-width="1"/>
<line x1="106.51" y1="156.3" x2="106.51" y2="159.6" stroke="#333" stroke-width="1"/>
<line x1="132.39" y1="156.3" x2="132.39" y2="159.6" stroke="#333" stroke-width="1"/>
<line x1="158.26" y1="156.3" x2="158.26" y2="159.6" stroke="#333" stroke-width="1"/>
<line x1="184.13" y1="156.3" x2="184.13" y2="159.6" stroke="#333" stroke-width="1"/>
<line x1="210" y1="156.3" x2="210" y2="159.6" stroke="#333" stroke-width="1"/>
<line x1="41.84" y1="156.3" x2="41.84" y2="158.3" stroke="#333" stroke-width="1"/>
<line x1="67.71" y1="156.3" x2="67.71" y2="158.3" stroke="#333" stroke-width="1"/>
<line x1="93.58" y1="156.3" x2="93.58" y2="158.3" stroke="#333" stroke-width="1"/>
<line x1="119.45" y1="156.3" x2="119.45" y2="158.3" stroke="#333" stroke-width="1"/>
<line x1="145.32" y1="156.3" x2="145.32" y2="158.3" stroke="#333" stroke-width="1"/>
<line x1="171.19" y1="156.3" x2="171.19" y2="158.3" stroke="#333" stroke-width="1"/>
<line x1="197.06" y1="156.3" x2="197.06" y2="158.3" stroke="#333" stroke-width="1"/>
<text x="28.9" y="169.1" font-size="9.8" text-anchor="middle">450</text>
<text x="54.77" y="169.1" font-size="9.8" text-anchor="middle">500</text>
<text x="80.64" y="169.1" font-size="9.8" text-anchor="middle">550</text>
<text x="106.51" y="169.1" font-size="9.8" text-anchor="middle">600</text>
<text x="132.39" y="169.1" font-size="9.8" text-anchor="middle">650</text>
<text x="158.26" y="169.1" font-size="9.8" text-anchor="middle">700</text>
<text x="184.13" y="169.1" font-size="9.8" text-anchor="middle">750</text>
<text x="210" y="169.1" font-size="9.8" text-anchor="middle">800</text>
<line x1="25.7" y1="156.3" x2="28.9" y2="156.3" stroke="#333" stroke-width="1"/>
<line x1="25.7" y1="132.13" x2="28.9" y2="132.13" stroke="#333" stroke-width="1"/>
<line x1="25.7" y1="107.97" x2="28.9" y2="107.97" stroke="#333" stroke-width="1"/>
<line x1="25.7" y1="83.8" x2="28.9" y2="83.8" stroke="#333" stroke-width="1"/>
<line x1="25.7" y1="59.63" x2="28.9" y2="59.63" stroke="#333" stroke-width="1"/>
<line x1="25.7" y1="35.47" x2="28.9" y2="35.47" stroke="#333" stroke-width="1"/>
<line x1="25.7" y1="11.3" x2="28.9" y2="11.3" stroke="#333" stroke-width="1"/>
<line x1="27.1" y1="144.22" x2="28.9" y2="144.22" stroke="#333" stroke-width="1"/>
<line x1="27.1" y1="120.05" x2="28.9" y2="120.05" stroke="#333" stroke-width="1"/>
<line x1="27.1" y1="95.88" x2="28.9" y2="95.88" stroke="#333" stroke-width="1"/>
<line x1="27.1" y1="71.72" x2="28.9" y2="71.72" stroke="#333" stroke-width="1"/>
<line x1="27.1" y1="47.55" x2="28.9" y2="47.55" stroke="#333" stroke-width="1"/>
<line x1="27.1" y1="23.38" x2="28.9" y2="23.38" stroke="#333" stroke-width="1"/>
<text x="24.4" y="159.1" font-size="9.8" text-anchor="end">0</text>
<text x="24.4" y="134.93" font-size="9.8" text-anchor="end">1k</text>
<text x="24.4" y="110.77" font-size="9.8" text-anchor="end">2k</text>
<text x="24.4" y="86.6" font-size="9.8" text-anchor="end">3k</text>
<text x="24.4" y="62.43" font-size="9.8" text-anchor="end">4k</text>
<text x="24.4" y="38.27" font-size="9.8" text-anchor="end">5k</text>
<text x="24.4" y="14.1" font-size="9.8" text-anchor="end">6k</text>
<line x1="259.92" y1="156.3" x2="259.92" y2="159.6" stroke="#333" stroke-width="1"/>
<line x1="294.78" y1="156.3" x2="294.78" y2="159.6" stroke="#333" stroke-width="1"/>
<line x1="329.63" y1="156.3" x2="329.63" y2="159.6" stroke="#333" stroke-width="1"/>
<line x1="364.49" y1="156.3" x2="364.49" y2="159.6" stroke="#333" stroke-width="1"/>
<line x1="399.34" y1="156.3" x2="399.34" y2="159.6" stroke="#333" stroke-width="1"/>
<line x1="434.2" y1="156.3" x2="434.2" y2="159.6" stroke="#333" stroke-width="1"/>
<line x1="277.35" y1="156.3" x2="277.35" y2="158.3" stroke="#333" stroke-width="1"/>
<line x1="312.2" y1="156.3" x2="312.2" y2="158.3" stroke="#333" stroke-width="1"/>
<line x1="347.06" y1="156.3" x2="347.06" y2="158.3" stroke="#333" stroke-width="1"/>
<line x1="381.92" y1="156.3" x2="381.92" y2="158.3" stroke="#333" stroke-width="1"/>
<line x1="416.77" y1="156.3" x2="416.77" y2="158.3" stroke="#333" stroke-width="1"/>
<text x="259.92" y="169.1" font-size="9.8" text-anchor="middle">550</text>
<text x="294.78" y="169.1" font-size="9.8" text-anchor="middle">600</text>
<text x="329.63" y="169.1" font-size="9.8" text-anchor="middle">650</text>
<text x="364.49" y="169.1" font-size="9.8" text-anchor="middle">700</text>
<text x="399.34" y="169.1" font-size="9.8" text-anchor="middle">750</text>
<text x="434.2" y="169.1" font-size="9.8" text-anchor="middle">800</text>
<line x1="249.75" y1="156.3" x2="252.95" y2="156.3" stroke="#333" stroke-width="1"/>
<line x1="249.75" y1="119.98" x2="252.95" y2="119.98" stroke="#333" stroke-width="1"/>
<line x1="249.75" y1="83.65" x2="252.95" y2="83.65" stroke="#333" stroke-width="1"/>
<line x1="249.75" y1="47.33" x2="252.95" y2="47.33" stroke="#333" stroke-width="1"/>
<line x1="249.75" y1="11" x2="252.95" y2="11" stroke="#333" stroke-width="1"/>
<line x1="251.15" y1="138.14" x2="252.95" y2="138.14" stroke="#333" stroke-width="1"/>
<line x1="251.15" y1="101.81" x2="252.95" y2="101.81" stroke="#333" stroke-width="1"/>
<line x1="251.15" y1="65.49" x2="252.95" y2="65.49" stroke="#333" stroke-width="1"/>
<line x1="251.15" y1="29.16" x2="252.95" y2="29.16" stroke="#333" stroke-width="1"/>
<text x="248.45" y="159.1" font-size="9.8" text-anchor="end">−8</text>
<text x="248.45" y="122.78" font-size="9.8" text-anchor="end">−4</text>
<text x="248.45" y="86.45" font-size="9.8" text-anchor="end">0</text>
<text x="248.45" y="50.12" font-size="9.8" text-anchor="end">4</text>
<text x="248.45" y="13.8" font-size="9.8" text-anchor="end">8</text>
<line x1="493.5" y1="156.4" x2="493.5" y2="159.7" stroke="#333" stroke-width="1"/>
<line x1="513.61" y1="156.4" x2="513.61" y2="159.7" stroke="#333" stroke-width="1"/>
<line x1="533.72" y1="156.4" x2="533.72" y2="159.7" stroke="#333" stroke-width="1"/>
<line x1="553.83" y1="156.4" x2="553.83" y2="159.7" stroke="#333" stroke-width="1"/>
<line x1="573.94" y1="156.4" x2="573.94" y2="159.7" stroke="#333" stroke-width="1"/>
<line x1="594.06" y1="156.4" x2="594.06" y2="159.7" stroke="#333" stroke-width="1"/>
<line x1="614.17" y1="156.4" x2="614.17" y2="159.7" stroke="#333" stroke-width="1"/>
<line x1="634.28" y1="156.4" x2="634.28" y2="159.7" stroke="#333" stroke-width="1"/>
<line x1="654.39" y1="156.4" x2="654.39" y2="159.7" stroke="#333" stroke-width="1"/>
<line x1="674.5" y1="156.4" x2="674.5" y2="159.7" stroke="#333" stroke-width="1"/>
<line x1="503.56" y1="156.4" x2="503.56" y2="158.4" stroke="#333" stroke-width="1"/>
<line x1="523.67" y1="156.4" x2="523.67" y2="158.4" stroke="#333" stroke-width="1"/>
<line x1="543.78" y1="156.4" x2="543.78" y2="158.4" stroke="#333" stroke-width="1"/>
<line x1="563.89" y1="156.4" x2="563.89" y2="158.4" stroke="#333" stroke-width="1"/>
<line x1="584" y1="156.4" x2="584" y2="158.4" stroke="#333" stroke-width="1"/>
<line x1="604.11" y1="156.4" x2="604.11" y2="158.4" stroke="#333" stroke-width="1"/>
<line x1="624.22" y1="156.4" x2="624.22" y2="158.4" stroke="#333" stroke-width="1"/>
<line x1="644.33" y1="156.4" x2="644.33" y2="158.4" stroke="#333" stroke-width="1"/>
<line x1="664.44" y1="156.4" x2="664.44" y2="158.4" stroke="#333" stroke-width="1"/>
<text x="493.5" y="169.2" font-size="9.8" text-anchor="middle">0</text>
<text x="513.61" y="169.2" font-size="9.8" text-anchor="middle">5</text>
<text x="533.72" y="169.2" font-size="9.8" text-anchor="middle">10</text>
<text x="553.83" y="169.2" font-size="9.8" text-anchor="middle">15</text>
<text x="573.94" y="169.2" font-size="9.8" text-anchor="middle">20</text>
<text x="594.06" y="169.2" font-size="9.8" text-anchor="middle">25</text>
<text x="614.17" y="169.2" font-size="9.8" text-anchor="middle">30</text>
<text x="634.28" y="169.2" font-size="9.8" text-anchor="middle">35</text>
<text x="654.39" y="169.2" font-size="9.8" text-anchor="middle">40</text>
<text x="674.5" y="169.2" font-size="9.8" text-anchor="middle">45</text>
<line x1="490.9" y1="156.4" x2="493.5" y2="156.4" stroke="#333" stroke-width="1"/>
<line x1="490.9" y1="120.45" x2="493.5" y2="120.45" stroke="#333" stroke-width="1"/>
<line x1="490.9" y1="84.5" x2="493.5" y2="84.5" stroke="#333" stroke-width="1"/>
<line x1="490.9" y1="48.55" x2="493.5" y2="48.55" stroke="#333" stroke-width="1"/>
<line x1="490.9" y1="12.6" x2="493.5" y2="12.6" stroke="#333" stroke-width="1"/>
<line x1="492.2" y1="145.58" x2="493.5" y2="145.58" stroke="#333" stroke-width="1"/>
<line x1="492.2" y1="139.25" x2="493.5" y2="139.25" stroke="#333" stroke-width="1"/>
<line x1="492.2" y1="134.76" x2="493.5" y2="134.76" stroke="#333" stroke-width="1"/>
<line x1="492.2" y1="131.27" x2="493.5" y2="131.27" stroke="#333" stroke-width="1"/>
<line x1="492.2" y1="128.43" x2="493.5" y2="128.43" stroke="#333" stroke-width="1"/>
<line x1="492.2" y1="126.02" x2="493.5" y2="126.02" stroke="#333" stroke-width="1"/>
<line x1="492.2" y1="123.93" x2="493.5" y2="123.93" stroke="#333" stroke-width="1"/>
<line x1="492.2" y1="122.09" x2="493.5" y2="122.09" stroke="#333" stroke-width="1"/>
<line x1="492.2" y1="109.63" x2="493.5" y2="109.63" stroke="#333" stroke-width="1"/>
<line x1="492.2" y1="103.3" x2="493.5" y2="103.3" stroke="#333" stroke-width="1"/>
<line x1="492.2" y1="98.81" x2="493.5" y2="98.81" stroke="#333" stroke-width="1"/>
<line x1="492.2" y1="95.32" x2="493.5" y2="95.32" stroke="#333" stroke-width="1"/>
<line x1="492.2" y1="92.48" x2="493.5" y2="92.48" stroke="#333" stroke-width="1"/>
<line x1="492.2" y1="90.07" x2="493.5" y2="90.07" stroke="#333" stroke-width="1"/>
<line x1="492.2" y1="87.98" x2="493.5" y2="87.98" stroke="#333" stroke-width="1"/>
<line x1="492.2" y1="86.14" x2="493.5" y2="86.14" stroke="#333" stroke-width="1"/>
<line x1="492.2" y1="73.68" x2="493.5" y2="73.68" stroke="#333" stroke-width="1"/>
<line x1="492.2" y1="67.35" x2="493.5" y2="67.35" stroke="#333" stroke-width="1"/>
<line x1="492.2" y1="62.86" x2="493.5" y2="62.86" stroke="#333" stroke-width="1"/>
<line x1="492.2" y1="59.37" x2="493.5" y2="59.37" stroke="#333" stroke-width="1"/>
<line x1="492.2" y1="56.53" x2="493.5" y2="56.53" stroke="#333" stroke-width="1"/>
<line x1="492.2" y1="54.12" x2="493.5" y2="54.12" stroke="#333" stroke-width="1"/>
<line x1="492.2" y1="52.03" x2="493.5" y2="52.03" stroke="#333" stroke-width="1"/>
<line x1="492.2" y1="50.19" x2="493.5" y2="50.19" stroke="#333" stroke-width="1"/>
<line x1="492.2" y1="37.73" x2="493.5" y2="37.73" stroke="#333" stroke-width="1"/>
<line x1="492.2" y1="31.4" x2="493.5" y2="31.4" stroke="#333" stroke-width="1"/>
<line x1="492.2" y1="26.91" x2="493.5" y2="26.91" stroke="#333" stroke-width="1"/>
<line x1="492.2" y1="23.42" x2="493.5" y2="23.42" stroke="#333" stroke-width="1"/>
<line x1="492.2" y1="20.58" x2="493.5" y2="20.58" stroke="#333" stroke-width="1"/>
<line x1="492.2" y1="18.17" x2="493.5" y2="18.17" stroke="#333" stroke-width="1"/>
<line x1="492.2" y1="16.08" x2="493.5" y2="16.08" stroke="#333" stroke-width="1"/>
<line x1="492.2" y1="14.24" x2="493.5" y2="14.24" stroke="#333" stroke-width="1"/>
<text x="487.6" y="159.7" font-size="9.8" text-anchor="end">1E−4</text>
<text x="487.6" y="123.75" font-size="9.8" text-anchor="end">0.001</text>
<text x="487.6" y="87.8" font-size="9.8" text-anchor="end">0.01</text>
<text x="487.6" y="51.85" font-size="9.8" text-anchor="end">0.1</text>
<text x="487.6" y="15.9" font-size="9.8" text-anchor="end">1</text>
<line x1="49.86" y1="342.5" x2="49.86" y2="345.8" stroke="#333" stroke-width="1"/>
<line x1="91.97" y1="342.5" x2="91.97" y2="345.8" stroke="#333" stroke-width="1"/>
<line x1="134.09" y1="342.5" x2="134.09" y2="345.8" stroke="#333" stroke-width="1"/>
<line x1="176.21" y1="342.5" x2="176.21" y2="345.8" stroke="#333" stroke-width="1"/>
<line x1="70.92" y1="342.5" x2="70.92" y2="344.5" stroke="#333" stroke-width="1"/>
<line x1="113.03" y1="342.5" x2="113.03" y2="344.5" stroke="#333" stroke-width="1"/>
<line x1="155.15" y1="342.5" x2="155.15" y2="344.5" stroke="#333" stroke-width="1"/>
<line x1="197.27" y1="342.5" x2="197.27" y2="344.5" stroke="#333" stroke-width="1"/>
<text x="49.86" y="355.3" font-size="9.8" text-anchor="middle">500</text>
<text x="91.97" y="355.3" font-size="9.8" text-anchor="middle">550</text>
<text x="134.09" y="355.3" font-size="9.8" text-anchor="middle">600</text>
<text x="176.21" y="355.3" font-size="9.8" text-anchor="middle">650</text>
<line x1="25.6" y1="342.5" x2="28.8" y2="342.5" stroke="#333" stroke-width="1"/>
<line x1="25.6" y1="306.2" x2="28.8" y2="306.2" stroke="#333" stroke-width="1"/>
<line x1="25.6" y1="269.9" x2="28.8" y2="269.9" stroke="#333" stroke-width="1"/>
<line x1="25.6" y1="233.6" x2="28.8" y2="233.6" stroke="#333" stroke-width="1"/>
<line x1="25.6" y1="197.3" x2="28.8" y2="197.3" stroke="#333" stroke-width="1"/>
<line x1="27" y1="324.35" x2="28.8" y2="324.35" stroke="#333" stroke-width="1"/>
<line x1="27" y1="288.05" x2="28.8" y2="288.05" stroke="#333" stroke-width="1"/>
<line x1="27" y1="251.75" x2="28.8" y2="251.75" stroke="#333" stroke-width="1"/>
<line x1="27" y1="215.45" x2="28.8" y2="215.45" stroke="#333" stroke-width="1"/>
<text x="24.3" y="345.3" font-size="9.8" text-anchor="end">0</text>
<text x="24.3" y="309" font-size="9.8" text-anchor="end">2k</text>
<text x="24.3" y="272.7" font-size="9.8" text-anchor="end">4k</text>
<text x="24.3" y="236.4" font-size="9.8" text-anchor="end">6k</text>
<text x="24.3" y="200.1" font-size="9.8" text-anchor="end">8k</text>
<line x1="252.95" y1="342.5" x2="252.95" y2="345.8" stroke="#333" stroke-width="1"/>
<line x1="298.29" y1="342.5" x2="298.29" y2="345.8" stroke="#333" stroke-width="1"/>
<line x1="343.62" y1="342.5" x2="343.62" y2="345.8" stroke="#333" stroke-width="1"/>
<line x1="388.96" y1="342.5" x2="388.96" y2="345.8" stroke="#333" stroke-width="1"/>
<line x1="434.3" y1="342.5" x2="434.3" y2="345.8" stroke="#333" stroke-width="1"/>
<line x1="275.62" y1="342.5" x2="275.62" y2="344.5" stroke="#333" stroke-width="1"/>
<line x1="320.96" y1="342.5" x2="320.96" y2="344.5" stroke="#333" stroke-width="1"/>
<line x1="366.29" y1="342.5" x2="366.29" y2="344.5" stroke="#333" stroke-width="1"/>
<line x1="411.63" y1="342.5" x2="411.63" y2="344.5" stroke="#333" stroke-width="1"/>
<text x="252.95" y="355.3" font-size="9.8" text-anchor="middle">500</text>
<text x="298.29" y="355.3" font-size="9.8" text-anchor="middle">550</text>
<text x="343.62" y="355.3" font-size="9.8" text-anchor="middle">600</text>
<text x="388.96" y="355.3" font-size="9.8" text-anchor="middle">650</text>
<text x="434.3" y="355.3" font-size="9.8" text-anchor="middle">700</text>
<line x1="249.75" y1="318.28" x2="252.95" y2="318.28" stroke="#333" stroke-width="1"/>
<line x1="249.75" y1="269.85" x2="252.95" y2="269.85" stroke="#333" stroke-width="1"/>
<line x1="249.75" y1="221.42" x2="252.95" y2="221.42" stroke="#333" stroke-width="1"/>
<line x1="251.15" y1="294.07" x2="252.95" y2="294.07" stroke="#333" stroke-width="1"/>
<line x1="251.15" y1="245.63" x2="252.95" y2="245.63" stroke="#333" stroke-width="1"/>
<text x="248.45" y="321.08" font-size="9.8" text-anchor="end">−5</text>
<text x="248.45" y="272.65" font-size="9.8" text-anchor="end">0</text>
<text x="248.45" y="224.22" font-size="9.8" text-anchor="end">5</text>
<line x1="493.55" y1="342.6" x2="493.55" y2="345.9" stroke="#333" stroke-width="1"/>
<line x1="538.79" y1="342.6" x2="538.79" y2="345.9" stroke="#333" stroke-width="1"/>
<line x1="584.02" y1="342.6" x2="584.02" y2="345.9" stroke="#333" stroke-width="1"/>
<line x1="629.26" y1="342.6" x2="629.26" y2="345.9" stroke="#333" stroke-width="1"/>
<line x1="674.5" y1="342.6" x2="674.5" y2="345.9" stroke="#333" stroke-width="1"/>
<line x1="516.17" y1="342.6" x2="516.17" y2="344.6" stroke="#333" stroke-width="1"/>
<line x1="561.41" y1="342.6" x2="561.41" y2="344.6" stroke="#333" stroke-width="1"/>
<line x1="606.64" y1="342.6" x2="606.64" y2="344.6" stroke="#333" stroke-width="1"/>
<line x1="651.88" y1="342.6" x2="651.88" y2="344.6" stroke="#333" stroke-width="1"/>
<text x="493.55" y="355.4" font-size="9.8" text-anchor="middle">0</text>
<text x="538.79" y="355.4" font-size="9.8" text-anchor="middle">400</text>
<text x="584.02" y="355.4" font-size="9.8" text-anchor="middle">800</text>
<text x="629.26" y="355.4" font-size="9.8" text-anchor="middle">1200</text>
<text x="674.5" y="355.4" font-size="9.8" text-anchor="middle">1600</text>
<line x1="490.95" y1="342.6" x2="493.55" y2="342.6" stroke="#333" stroke-width="1"/>
<line x1="490.95" y1="294.73" x2="493.55" y2="294.73" stroke="#333" stroke-width="1"/>
<line x1="490.95" y1="246.86" x2="493.55" y2="246.86" stroke="#333" stroke-width="1"/>
<line x1="490.95" y1="198.99" x2="493.55" y2="198.99" stroke="#333" stroke-width="1"/>
<line x1="492.25" y1="328.19" x2="493.55" y2="328.19" stroke="#333" stroke-width="1"/>
<line x1="492.25" y1="319.76" x2="493.55" y2="319.76" stroke="#333" stroke-width="1"/>
<line x1="492.25" y1="313.78" x2="493.55" y2="313.78" stroke="#333" stroke-width="1"/>
<line x1="492.25" y1="309.14" x2="493.55" y2="309.14" stroke="#333" stroke-width="1"/>
<line x1="492.25" y1="305.35" x2="493.55" y2="305.35" stroke="#333" stroke-width="1"/>
<line x1="492.25" y1="302.15" x2="493.55" y2="302.15" stroke="#333" stroke-width="1"/>
<line x1="492.25" y1="299.37" x2="493.55" y2="299.37" stroke="#333" stroke-width="1"/>
<line x1="492.25" y1="296.92" x2="493.55" y2="296.92" stroke="#333" stroke-width="1"/>
<line x1="492.25" y1="280.32" x2="493.55" y2="280.32" stroke="#333" stroke-width="1"/>
<line x1="492.25" y1="271.89" x2="493.55" y2="271.89" stroke="#333" stroke-width="1"/>
<line x1="492.25" y1="265.91" x2="493.55" y2="265.91" stroke="#333" stroke-width="1"/>
<line x1="492.25" y1="261.27" x2="493.55" y2="261.27" stroke="#333" stroke-width="1"/>
<line x1="492.25" y1="257.48" x2="493.55" y2="257.48" stroke="#333" stroke-width="1"/>
<line x1="492.25" y1="254.28" x2="493.55" y2="254.28" stroke="#333" stroke-width="1"/>
<line x1="492.25" y1="251.5" x2="493.55" y2="251.5" stroke="#333" stroke-width="1"/>
<line x1="492.25" y1="249.05" x2="493.55" y2="249.05" stroke="#333" stroke-width="1"/>
<line x1="492.25" y1="232.45" x2="493.55" y2="232.45" stroke="#333" stroke-width="1"/>
<line x1="492.25" y1="224.02" x2="493.55" y2="224.02" stroke="#333" stroke-width="1"/>
<line x1="492.25" y1="218.04" x2="493.55" y2="218.04" stroke="#333" stroke-width="1"/>
<line x1="492.25" y1="213.4" x2="493.55" y2="213.4" stroke="#333" stroke-width="1"/>
<line x1="492.25" y1="209.61" x2="493.55" y2="209.61" stroke="#333" stroke-width="1"/>
<line x1="492.25" y1="206.41" x2="493.55" y2="206.41" stroke="#333" stroke-width="1"/>
<line x1="492.25" y1="203.63" x2="493.55" y2="203.63" stroke="#333" stroke-width="1"/>
<line x1="492.25" y1="201.18" x2="493.55" y2="201.18" stroke="#333" stroke-width="1"/>
<text x="487.65" y="345.9" font-size="9.8" text-anchor="end">0.001</text>
<text x="487.65" y="298.03" font-size="9.8" text-anchor="end">0.01</text>
<text x="487.65" y="250.16" font-size="9.8" text-anchor="end">0.1</text>
<text x="487.65" y="202.29" font-size="9.8" text-anchor="end">1</text>
<text x="119.45" y="180.3" font-size="12.3" text-anchor="middle">Wavelength (nm)</text>
<text x="343.57" y="180.3" font-size="12.3" text-anchor="middle">Wavelength (nm)</text>
<text x="119.35" y="366.5" font-size="12.3" text-anchor="middle">Wavelength (nm)</text>
<text x="343.62" y="366.5" font-size="12.3" text-anchor="middle">Wavelength (nm)</text>
<text x="584" y="179.9" font-size="12.3" text-anchor="middle">Time (ns)</text>
<text x="584.02" y="366.1" font-size="12.3" text-anchor="middle">Time (ns)</text>
<text transform="translate(12.5,82.7) rotate(-90)" font-size="12.3" text-anchor="middle">Emission Intensity</text>
<text transform="translate(12.4,267.9) rotate(-90)" font-size="12.3" text-anchor="middle">Emission Intensity</text>
<text transform="translate(235.1,83.65) rotate(-90)" font-size="12.3" text-anchor="middle">CPL</text>
<text transform="translate(235.1,269.85) rotate(-90)" font-size="12.3" text-anchor="middle">CPL</text>
<text transform="translate(463.4,86.9) rotate(-90)" font-size="12.3" text-anchor="middle">Norm. Emission Intensity</text>
<text transform="translate(463.4,269.9) rotate(-90)" font-size="12.3" text-anchor="middle">Norm. Emission Intensity</text>
<text x="-1.3" y="19.2" font-size="26.5" stroke="#000" stroke-width="0.3">a</text>
<text x="227.6" y="19.4" font-size="26.5" stroke="#000" stroke-width="0.3">b</text>
<text x="441.9" y="18.9" font-size="27.2" stroke="#000" stroke-width="0.3">c</text>
<text x="-1.8" y="200.3" font-size="26.5" stroke="#000" stroke-width="0.3">d</text>
<text x="227.3" y="200.5" font-size="26.5" stroke="#000" stroke-width="0.3">e</text>
<text x="441.8" y="200.5" font-size="27.5" stroke="#000" stroke-width="0.3">f</text>
<line x1="132" y1="17.7" x2="154" y2="17.7" stroke="#0a8f0a" stroke-width="2.2"/>
<line x1="132" y1="31.7" x2="154" y2="31.7" stroke="#fa6666" stroke-width="2.2"/>
<line x1="132" y1="45.5" x2="154" y2="45.5" stroke="#46b4f6" stroke-width="2.2"/>
<text x="156.6" y="20.8" font-size="9.0">(<tspan font-style="italic">R</tspan>)-<tspan font-weight="bold">1</tspan><tspan font-size="6.3" dy="2.0">NP</tspan></text>
<text x="156.6" y="34.8" font-size="9.0">[(<tspan font-style="italic">R</tspan>)-<tspan font-weight="bold">1/3</tspan><tspan font-size="6.3" dy="2.0" letter-spacing="0.35">0.1</tspan><tspan dy="-2.0">]</tspan><tspan font-size="6.3" dy="2.0">NP</tspan></text>
<text x="156.6" y="48.7" font-size="9.0"><tspan font-weight="bold">3</tspan><tspan font-size="6.3" dy="2.0">NP</tspan></text>
<line x1="369.2" y1="17.4" x2="387.7" y2="17.4" stroke="#46b4f6" stroke-width="2.0"/>
<line x1="369.2" y1="29.2" x2="387.7" y2="29.2" stroke="#fa6666" stroke-width="2.0"/>
<line x1="369.0" y1="41.1" x2="371.6" y2="41.1" stroke="#46b4f6" stroke-width="2.0"/>
<line x1="379.9" y1="41.1" x2="382.5" y2="41.1" stroke="#46b4f6" stroke-width="2.0"/>
<line x1="369.0" y1="52.5" x2="371.6" y2="52.5" stroke="#fa6666" stroke-width="2.0"/>
<line x1="379.9" y1="52.5" x2="382.5" y2="52.5" stroke="#fa6666" stroke-width="2.0"/>
<text x="389.4" y="21.0" font-size="7.85">[(<tspan font-style="italic">S</tspan>)-<tspan font-weight="bold">1/3</tspan><tspan font-size="5.5" dy="1.8" letter-spacing="0.1">0.1</tspan><tspan dy="-1.8">]</tspan><tspan font-size="5.5" dy="1.8">NP</tspan></text>
<text x="389.4" y="32.7" font-size="7.85">[(<tspan font-style="italic">R</tspan>)-<tspan font-weight="bold">1/3</tspan><tspan font-size="5.5" dy="1.8" letter-spacing="0.1">0.1</tspan><tspan dy="-1.8">]</tspan><tspan font-size="5.5" dy="1.8">NP</tspan></text>
<text x="389.4" y="44.4" font-size="7.85">[(<tspan font-style="italic">S</tspan>)-<tspan font-weight="bold">1/4</tspan><tspan font-size="5.5" dy="1.8" letter-spacing="0.1">0.1</tspan><tspan dy="-1.8">]</tspan><tspan font-size="5.5" dy="1.8">NP</tspan></text>
<text x="389.4" y="56.0" font-size="7.85">[(<tspan font-style="italic">R</tspan>)-<tspan font-weight="bold">1/4</tspan><tspan font-size="5.5" dy="1.8" letter-spacing="0.1">0.1</tspan><tspan dy="-1.8">]</tspan><tspan font-size="5.5" dy="1.8">NP</tspan></text>
<line x1="29.8" y1="204.2" x2="52.2" y2="204.2" stroke="#6aaa1e" stroke-width="2.2"/>
<line x1="29.8" y1="217.7" x2="52.2" y2="217.7" stroke="#fa6666" stroke-width="2.2"/>
<line x1="29.8" y1="231.7" x2="52.2" y2="231.7" stroke="#46b4f6" stroke-width="2.2"/>
<text x="54.3" y="207.3" font-size="9.0">(<tspan font-style="italic">R</tspan>)-<tspan font-weight="bold">2</tspan><tspan font-size="6.3" dy="2.0">NP</tspan></text>
<text x="54.3" y="220.8" font-size="9.0">[(<tspan font-style="italic">R</tspan>)-<tspan font-weight="bold">2/3</tspan><tspan font-size="6.3" dy="2.0" letter-spacing="0.35">0.1</tspan><tspan dy="-2.0">]</tspan><tspan font-size="6.3" dy="2.0">NP</tspan></text>
<text x="54.3" y="234.8" font-size="9.0"><tspan font-weight="bold">3</tspan><tspan font-size="6.3" dy="2.0">NP</tspan></text>
<line x1="253.9" y1="204.2" x2="276.7" y2="204.2" stroke="#46b4f6" stroke-width="2.2"/>
<line x1="253.9" y1="218.2" x2="276.7" y2="218.2" stroke="#fa6666" stroke-width="2.2"/>
<text x="278.4" y="207.3" font-size="9.0">[(<tspan font-style="italic">S</tspan>)-<tspan font-weight="bold">2/3</tspan><tspan font-size="6.3" dy="2.0" letter-spacing="0.35">0.1</tspan><tspan dy="-2.0">]</tspan><tspan font-size="6.3" dy="2.0">NP</tspan></text>
<text x="278.4" y="221.3" font-size="9.0">[(<tspan font-style="italic">R</tspan>)-<tspan font-weight="bold">2/3</tspan><tspan font-size="6.3" dy="2.0" letter-spacing="0.35">0.1</tspan><tspan dy="-2.0">]</tspan><tspan font-size="6.3" dy="2.0">NP</tspan></text>
</svg></div></body></html>
